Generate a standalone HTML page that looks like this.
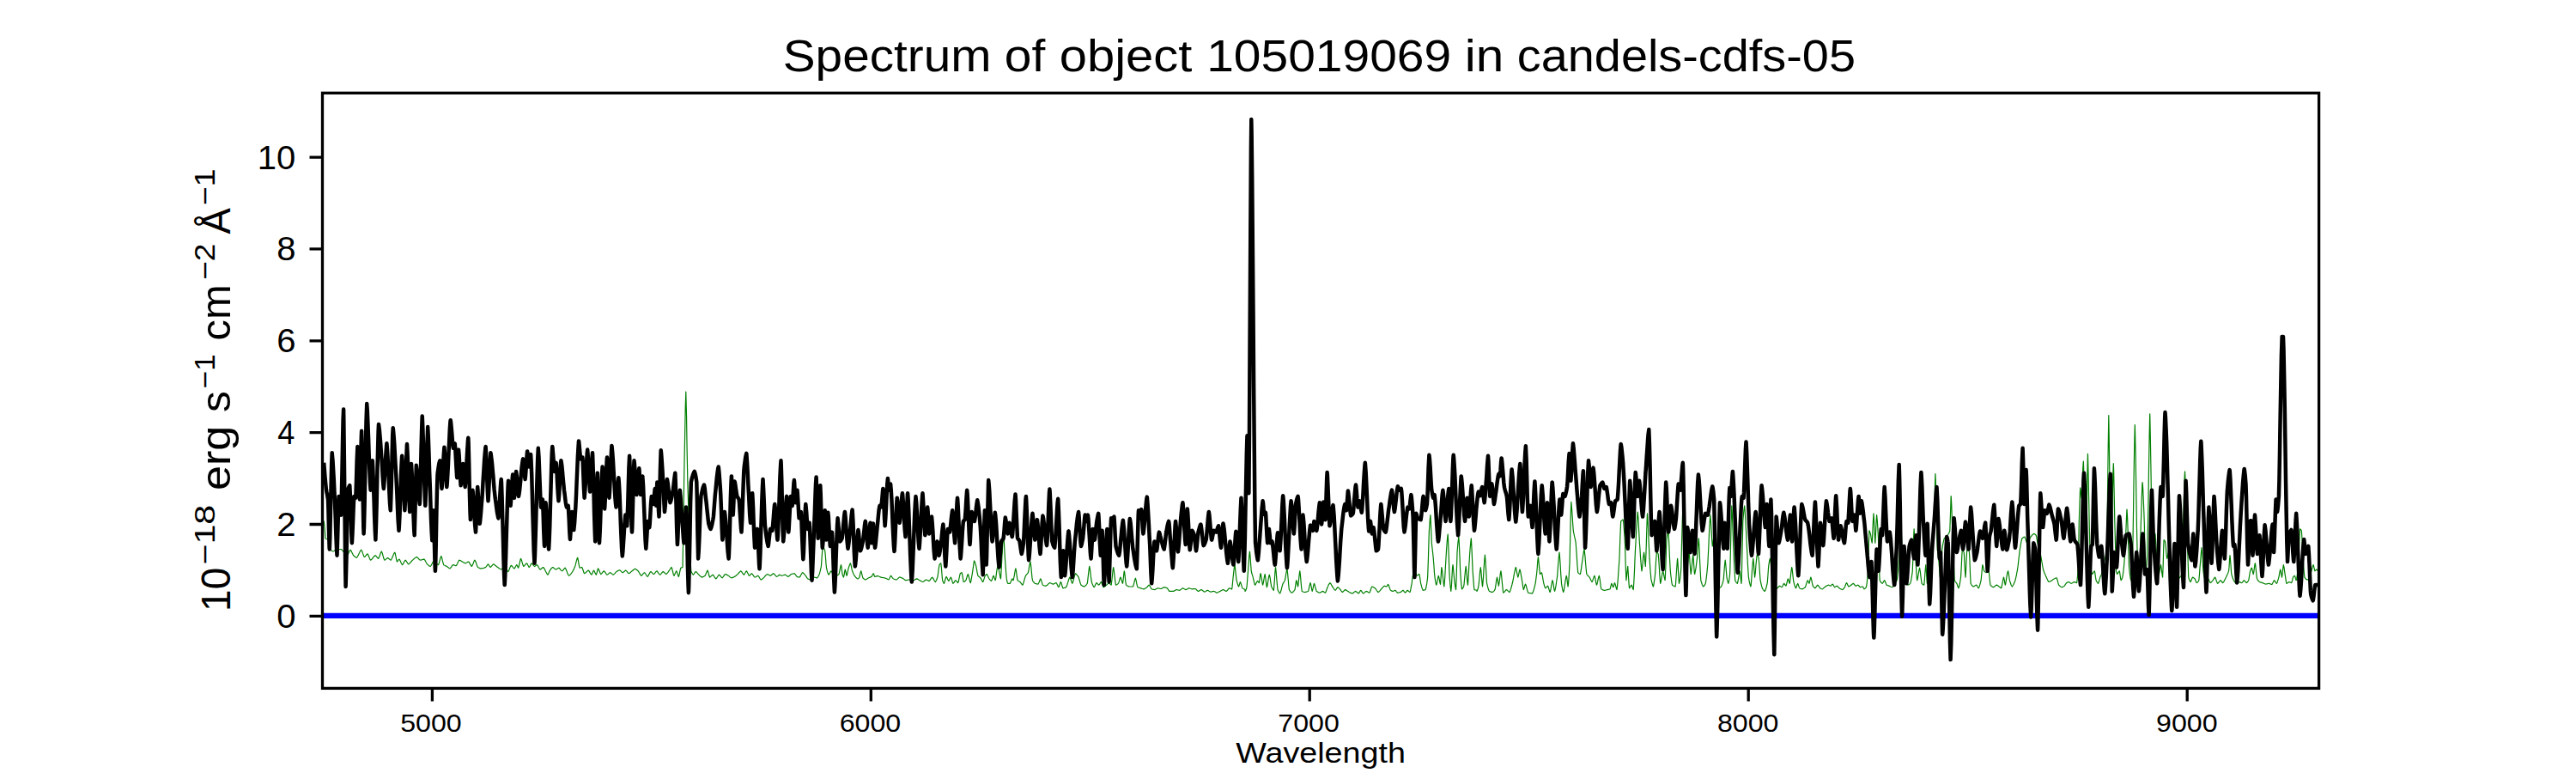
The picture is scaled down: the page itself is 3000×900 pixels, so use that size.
<!DOCTYPE html>
<html><head><meta charset="utf-8"><title>Spectrum</title>
<style>
html,body{margin:0;padding:0;background:#fff;}
svg{display:block}
text{font-family:"Liberation Sans",sans-serif;fill:#000}
</style></head><body>
<svg width="3000" height="900" viewBox="0 0 3000 900">
<rect x="0" y="0" width="3000" height="900" fill="#ffffff"/>
<defs><clipPath id="ax"><rect x="375.5" y="108.3" width="2325.1" height="693.1"/></clipPath></defs>

<g clip-path="url(#ax)" fill="none" stroke-linejoin="round" stroke-linecap="butt">
<path d="M375.8 606.9 L376.4 606.9 L377.1 606.9 L377.2 606.9 L377.7 610.9 L378.4 619.6 L379.0 626.5 L379.1 626.8 L379.6 627.2 L380.3 627.5 L380.9 627.7 L381.6 628.0 L382.2 628.3 L382.7 628.6 L382.8 629.2 L383.5 633.2 L384.1 637.7 L384.5 639.5 L384.8 639.8 L385.4 640.4 L386.0 640.9 L386.7 641.4 L387.3 641.7 L388.0 642.0 L388.1 642.0 L388.6 641.8 L389.2 641.4 L389.9 640.8 L390.5 640.2 L391.2 639.8 L391.7 639.5 L391.8 639.5 L392.4 639.5 L393.1 639.5 L393.7 639.5 L394.4 639.5 L395.0 639.5 L395.6 639.5 L396.3 639.5 L396.9 639.5 L397.2 639.5 L397.6 639.7 L398.2 640.2 L398.8 640.9 L399.5 641.6 L400.1 642.4 L400.8 643.1 L400.8 643.1 L401.4 643.8 L402.0 644.5 L402.7 645.3 L403.3 646.0 L404.0 646.5 L404.4 646.7 L404.6 646.6 L405.2 645.6 L405.9 644.3 L406.5 642.8 L407.2 641.4 L407.8 640.4 L408.0 640.2 L408.4 640.6 L409.1 641.6 L409.7 642.9 L410.4 644.3 L411.0 645.6 L411.6 646.7 L411.7 646.7 L412.3 647.3 L412.9 647.8 L413.6 648.3 L414.2 648.8 L414.8 649.1 L415.3 649.3 L415.5 649.1 L416.1 648.4 L416.8 647.3 L417.4 646.0 L418.0 644.7 L418.7 643.3 L419.3 642.0 L420.0 641.0 L420.6 640.3 L420.7 640.2 L421.2 641.0 L421.9 642.5 L422.5 644.4 L423.2 646.2 L423.8 647.8 L424.3 648.5 L424.4 648.5 L425.1 648.0 L425.7 647.3 L426.4 646.5 L427.0 645.7 L427.6 645.1 L428.0 644.9 L428.3 645.3 L428.9 646.4 L429.6 648.0 L430.2 649.6 L430.8 651.1 L431.5 652.1 L431.6 652.2 L432.1 651.9 L432.8 651.3 L433.4 650.6 L434.0 649.8 L434.7 649.0 L435.3 648.2 L436.0 647.5 L436.6 647.0 L437.0 646.7 L437.2 646.8 L437.9 647.4 L438.5 648.1 L439.2 649.0 L439.8 649.7 L440.4 650.3 L440.6 650.4 L441.1 649.7 L441.7 648.3 L442.4 646.5 L443.0 644.6 L443.6 643.0 L444.3 642.0 L444.3 642.0 L444.9 643.3 L445.6 645.3 L446.2 647.6 L446.8 649.8 L447.5 651.5 L447.9 652.2 L448.1 652.1 L448.8 651.7 L449.4 651.2 L450.0 650.6 L450.7 650.1 L451.3 649.7 L451.5 649.6 L452.0 649.8 L452.6 650.3 L453.2 650.8 L453.9 651.4 L454.5 651.9 L455.1 652.2 L455.2 652.1 L455.8 651.3 L456.4 650.1 L457.1 648.6 L457.7 647.0 L458.4 645.5 L459.0 644.2 L459.6 643.3 L459.8 643.1 L460.3 644.4 L460.9 647.5 L461.6 651.0 L462.2 653.6 L462.4 654.0 L462.8 653.6 L463.5 652.8 L464.1 651.8 L464.8 651.2 L464.9 651.1 L465.4 651.6 L466.0 652.8 L466.7 654.3 L467.3 655.7 L468.0 656.9 L468.5 657.6 L468.6 657.6 L469.2 656.8 L469.9 655.8 L470.5 654.5 L471.2 653.4 L471.8 652.5 L472.1 652.2 L472.4 652.4 L473.1 653.1 L473.7 654.1 L474.4 655.2 L475.0 656.1 L475.6 656.8 L475.8 656.9 L476.3 656.6 L476.9 656.1 L477.6 655.5 L478.2 654.7 L478.8 654.0 L479.5 653.2 L480.1 652.5 L480.5 652.2 L480.8 651.9 L481.4 651.4 L482.0 650.8 L482.7 650.2 L483.3 649.6 L484.0 649.2 L484.6 648.8 L485.2 648.5 L485.2 648.6 L485.9 648.9 L486.5 649.5 L487.2 650.1 L487.8 650.8 L488.4 651.5 L489.1 651.9 L489.5 652.2 L489.7 652.1 L490.4 652.0 L491.0 651.9 L491.6 651.6 L492.3 651.4 L492.9 651.3 L493.6 651.1 L493.9 651.1 L494.2 651.3 L494.8 652.2 L495.5 653.3 L496.1 654.5 L496.8 655.7 L497.4 656.7 L497.5 656.9 L498.0 657.3 L498.7 657.9 L499.3 658.4 L500.0 658.9 L500.6 659.2 L501.1 659.4 L501.2 659.3 L501.9 658.6 L502.5 657.5 L503.2 656.3 L503.8 655.1 L504.4 654.2 L504.7 654.0 L505.1 654.1 L505.7 654.4 L506.4 654.9 L507.0 655.3 L507.6 655.8 L507.6 655.8 L508.3 656.2 L508.9 656.7 L509.6 657.1 L510.2 657.5 L510.5 657.6 L510.8 657.1 L511.5 655.2 L512.1 652.8 L512.8 650.2 L513.4 648.2 L513.8 647.5 L514.0 647.9 L514.7 649.9 L515.3 652.6 L516.0 655.3 L516.6 657.4 L516.7 657.6 L517.2 658.0 L517.9 658.3 L518.5 658.6 L519.2 658.9 L519.8 659.1 L520.3 659.4 L520.4 659.5 L521.1 660.0 L521.7 660.5 L522.4 661.0 L523.0 661.5 L523.6 661.8 L523.9 661.9 L524.3 661.7 L524.9 661.0 L525.6 660.1 L526.2 659.1 L526.8 658.2 L527.5 657.7 L527.6 657.6 L528.1 657.7 L528.8 657.9 L529.4 658.2 L530.0 658.4 L530.7 658.6 L531.2 658.7 L531.3 658.6 L532.0 657.7 L532.6 656.4 L533.2 654.9 L533.9 653.5 L534.5 652.5 L534.8 652.2 L535.2 652.3 L535.8 652.5 L536.4 652.8 L537.1 653.2 L537.7 653.6 L538.4 653.9 L538.4 654.0 L539.0 654.3 L539.6 654.7 L540.3 655.0 L540.9 655.4 L541.6 655.7 L542.1 655.8 L542.2 655.8 L542.8 655.5 L543.5 655.1 L544.1 654.7 L544.8 654.3 L545.4 654.1 L545.7 654.0 L546.0 654.3 L546.7 655.2 L547.3 656.4 L548.0 657.6 L548.6 658.7 L549.2 659.4 L549.3 659.4 L549.9 658.7 L550.5 657.3 L551.2 655.7 L551.8 654.1 L552.4 652.8 L552.9 652.2 L553.1 652.3 L553.7 653.5 L554.4 655.1 L555.0 656.9 L555.6 658.7 L556.3 660.1 L556.5 660.5 L556.9 660.7 L557.6 661.0 L558.2 661.3 L558.8 661.6 L559.5 661.8 L560.1 661.9 L560.2 661.9 L560.8 661.9 L561.4 661.8 L562.0 661.6 L562.7 661.5 L563.3 661.3 L564.0 661.1 L564.6 660.9 L565.2 660.6 L565.6 660.5 L565.9 660.2 L566.5 659.4 L567.2 658.4 L567.8 657.5 L568.4 656.9 L568.5 656.9 L569.1 657.5 L569.7 658.6 L570.4 659.7 L571.0 660.5 L571.0 660.5 L571.6 660.1 L572.3 659.4 L572.9 658.6 L573.6 657.8 L574.2 657.2 L574.7 656.9 L574.8 656.9 L575.5 657.2 L576.1 657.7 L576.8 658.2 L577.4 658.7 L578.0 659.2 L578.3 659.4 L578.7 659.7 L579.3 660.2 L580.0 660.7 L580.6 661.2 L581.2 661.7 L581.9 662.1 L582.5 662.5 L583.2 662.8 L583.7 663.0 L583.8 663.0 L584.4 662.5 L585.1 661.8 L585.7 661.0 L586.4 660.2 L587.0 659.6 L587.3 659.4 L587.6 659.6 L588.3 660.4 L588.9 661.4 L589.6 662.6 L590.2 663.7 L590.8 664.7 L591.5 665.4 L591.7 665.6 L592.1 665.1 L592.8 663.8 L593.4 662.2 L594.0 660.6 L594.7 659.2 L595.3 658.3 L595.3 658.3 L596.0 658.8 L596.6 659.5 L597.2 660.3 L597.9 661.1 L598.5 661.7 L598.9 661.9 L599.2 661.8 L599.8 660.9 L600.4 659.7 L601.1 658.5 L601.7 657.7 L601.8 657.6 L602.4 658.5 L603.0 660.1 L603.6 661.2 L603.6 661.2 L604.3 659.4 L604.9 656.6 L605.6 653.5 L606.2 651.1 L606.5 650.4 L606.8 650.8 L607.5 652.5 L608.1 654.7 L608.8 657.0 L609.4 658.7 L609.8 659.4 L610.0 659.3 L610.7 658.7 L611.3 658.0 L612.0 657.1 L612.6 656.4 L613.2 655.9 L613.4 655.8 L613.9 656.3 L614.5 657.4 L615.2 658.8 L615.8 659.9 L616.3 660.5 L616.4 660.4 L617.1 659.5 L617.7 658.2 L618.4 656.9 L619.0 656.0 L619.2 655.8 L619.6 656.1 L620.3 656.8 L620.9 657.7 L621.6 658.6 L622.2 659.2 L622.5 659.4 L622.8 659.3 L623.5 658.9 L624.1 658.3 L624.8 657.9 L625.4 657.6 L625.4 657.6 L626.0 658.3 L626.7 659.4 L627.3 660.6 L628.0 661.8 L628.6 662.7 L629.0 663.0 L629.2 662.9 L629.9 662.6 L630.5 662.0 L631.2 661.4 L631.8 660.9 L632.4 660.6 L632.6 660.5 L633.1 660.9 L633.7 661.8 L634.4 662.9 L635.0 664.2 L635.6 665.5 L636.3 666.8 L636.9 667.9 L637.6 668.8 L638.0 669.2 L638.2 669.0 L638.8 667.7 L639.5 666.0 L640.0 664.8 L640.1 664.7 L640.8 663.7 L641.4 662.8 L642.0 661.9 L642.7 661.2 L643.3 660.7 L643.6 660.5 L644.0 660.6 L644.6 661.0 L645.2 661.6 L645.9 662.2 L646.5 662.7 L647.2 663.0 L647.2 663.0 L647.8 662.9 L648.4 662.5 L649.1 662.1 L649.7 661.7 L650.4 661.4 L650.9 661.2 L651.0 661.3 L651.6 661.8 L652.3 662.5 L652.9 663.3 L653.6 664.1 L654.2 664.7 L654.5 664.8 L654.8 664.7 L655.5 664.1 L656.1 663.3 L656.8 662.5 L657.4 661.7 L658.0 661.3 L658.1 661.2 L658.7 661.9 L659.3 663.2 L660.0 664.9 L660.6 666.6 L661.2 668.2 L661.9 669.5 L662.5 670.3 L662.5 670.3 L663.2 669.9 L663.8 669.3 L664.4 668.6 L665.1 667.9 L665.7 667.1 L666.1 666.7 L666.4 666.2 L667.0 665.1 L667.6 663.9 L668.3 662.6 L668.9 661.2 L669.6 659.8 L669.7 659.4 L670.2 657.7 L670.8 655.1 L671.5 652.5 L672.1 650.3 L672.6 649.3 L672.8 649.6 L673.4 652.4 L674.0 656.3 L674.7 659.7 L675.1 661.2 L675.3 661.2 L676.0 661.0 L676.6 660.8 L677.2 660.6 L677.7 660.5 L677.9 660.8 L678.5 662.2 L679.2 664.2 L679.8 666.2 L680.4 667.6 L680.6 667.7 L681.1 667.5 L681.7 667.1 L682.4 666.5 L683.0 665.9 L683.6 665.2 L684.3 664.7 L684.9 664.3 L685.3 664.1 L685.6 664.3 L686.2 665.1 L686.8 666.2 L687.5 667.4 L688.1 668.4 L688.8 669.1 L688.9 669.2 L689.4 668.5 L690.0 667.0 L690.7 665.4 L691.3 664.2 L691.4 664.1 L692.0 664.7 L692.6 666.0 L693.2 667.4 L693.9 668.7 L694.3 669.2 L694.5 668.9 L695.2 666.7 L695.8 664.0 L696.4 662.1 L696.5 661.9 L697.1 662.7 L697.7 664.1 L698.4 665.8 L699.0 667.3 L699.6 668.3 L699.8 668.5 L700.3 668.1 L700.9 667.5 L701.6 666.7 L702.2 665.9 L702.8 665.2 L703.4 664.8 L703.5 664.9 L704.1 665.5 L704.8 666.3 L705.4 667.3 L706.0 668.3 L706.7 669.0 L707.0 669.2 L707.3 669.1 L708.0 668.7 L708.6 668.1 L709.2 667.6 L709.9 667.0 L710.5 666.7 L710.6 666.7 L711.2 666.9 L711.8 667.4 L712.4 667.9 L713.1 668.5 L713.7 668.9 L714.3 669.2 L714.4 669.1 L715.0 668.7 L715.6 668.1 L716.3 667.3 L716.9 666.5 L717.6 665.9 L717.9 665.6 L718.2 665.4 L718.8 665.0 L719.5 664.6 L720.1 664.3 L720.8 664.0 L721.4 663.8 L721.5 663.8 L722.0 664.0 L722.7 664.6 L723.3 665.2 L724.0 665.9 L724.6 666.4 L725.1 666.7 L725.2 666.6 L725.9 666.3 L726.5 665.8 L727.2 665.2 L727.8 664.6 L728.4 664.2 L728.7 664.1 L729.1 664.3 L729.7 664.9 L730.4 665.7 L731.0 666.5 L731.6 667.2 L732.3 667.7 L732.4 667.7 L732.9 667.5 L733.6 667.0 L734.2 666.5 L734.8 665.9 L735.5 665.3 L736.0 664.8 L736.1 664.8 L736.8 664.2 L737.4 663.7 L738.0 663.2 L738.7 662.7 L739.3 662.4 L739.6 662.3 L740.0 662.4 L740.6 662.8 L741.2 663.2 L741.9 663.7 L742.5 664.2 L743.2 664.8 L743.2 664.8 L743.8 665.6 L744.4 666.7 L745.1 667.9 L745.7 669.0 L746.4 669.8 L746.9 670.3 L747.0 670.2 L747.6 669.7 L748.3 669.0 L748.9 668.1 L749.6 667.4 L750.2 666.8 L750.5 666.7 L750.8 666.9 L751.5 667.7 L752.1 668.7 L752.8 669.8 L753.4 670.7 L754.0 671.3 L754.1 671.4 L754.7 670.8 L755.3 669.7 L756.0 668.4 L756.6 667.1 L757.2 666.1 L757.7 665.6 L757.9 665.6 L758.5 666.0 L759.2 666.6 L759.8 667.3 L760.4 667.9 L761.1 668.4 L761.3 668.5 L761.7 668.3 L762.4 667.7 L763.0 666.9 L763.6 666.0 L764.3 665.3 L764.9 664.9 L765.0 664.8 L765.6 665.3 L766.2 666.1 L766.8 667.1 L767.5 668.1 L768.1 668.8 L768.6 669.2 L768.8 669.1 L769.4 668.6 L770.0 667.9 L770.7 667.0 L771.3 666.3 L772.0 665.7 L772.2 665.6 L772.6 665.7 L773.2 666.2 L773.9 666.9 L774.5 667.5 L775.2 668.1 L775.8 668.5 L775.8 668.5 L776.4 668.1 L777.1 667.4 L777.7 666.6 L778.4 665.6 L779.0 664.7 L779.5 664.1 L779.6 663.9 L780.3 662.8 L780.9 661.8 L781.6 660.9 L782.0 660.5 L782.2 660.9 L782.8 662.8 L783.5 665.5 L784.1 668.2 L784.8 670.1 L784.9 670.3 L785.4 669.6 L786.0 668.3 L786.7 666.8 L787.3 665.4 L787.8 664.8 L788.0 665.1 L788.6 666.6 L789.2 668.7 L789.9 670.6 L790.3 671.4 L790.5 671.0 L791.2 668.6 L791.8 665.4 L792.4 662.5 L792.9 661.2 L793.1 661.1 L793.7 660.9 L794.4 660.8 L795.0 660.5 L795.0 660.5 L795.6 629.7 L796.3 581.7 L796.6 560.0 L796.9 542.9 L797.6 506.8 L798.2 475.0 L798.8 456.0 L798.8 456.8 L799.5 483.3 L800.1 522.4 L800.8 558.1 L800.8 560.0 L801.4 579.2 L802.0 599.5 L802.7 618.7 L803.3 636.0 L804.0 650.7 L804.6 661.9 L804.8 664.8 L805.2 665.9 L805.9 667.2 L806.5 668.3 L807.2 669.0 L807.3 669.2 L807.8 668.8 L808.4 668.0 L809.1 666.9 L809.7 666.0 L810.2 665.6 L810.4 665.6 L811.0 666.0 L811.6 666.7 L812.3 667.4 L812.9 668.2 L813.6 668.9 L813.9 669.2 L814.2 669.5 L814.8 670.1 L815.5 670.7 L816.1 671.3 L816.8 671.7 L817.4 672.1 L817.5 672.1 L818.0 671.9 L818.7 671.7 L819.3 671.4 L820.0 671.0 L820.6 670.6 L821.1 670.3 L821.2 670.1 L821.9 668.8 L822.5 667.1 L823.2 665.5 L823.8 664.4 L824.0 664.1 L824.4 665.0 L825.1 667.3 L825.7 669.8 L826.4 671.8 L826.5 672.1 L827.0 671.9 L827.6 671.4 L828.3 670.7 L828.9 670.1 L829.6 669.5 L830.2 669.2 L830.2 669.2 L830.8 669.8 L831.5 670.7 L832.1 671.8 L832.8 672.8 L833.4 673.6 L833.8 673.9 L834.0 673.7 L834.7 673.0 L835.3 672.0 L836.0 671.0 L836.6 670.0 L837.2 669.3 L837.4 669.2 L837.9 669.5 L838.5 670.1 L839.2 670.9 L839.8 671.7 L840.4 672.4 L841.0 672.8 L841.1 672.8 L841.7 672.2 L842.4 671.4 L843.0 670.4 L843.6 669.5 L844.3 668.7 L844.7 668.5 L844.9 668.5 L845.6 668.8 L846.2 669.1 L846.8 669.4 L847.5 669.8 L848.1 670.2 L848.3 670.3 L848.8 670.6 L849.4 671.1 L850.0 671.7 L850.7 672.2 L851.3 672.6 L851.9 672.8 L852.0 672.8 L852.6 672.7 L853.2 672.4 L853.9 672.2 L854.5 671.9 L855.2 671.5 L855.5 671.4 L855.8 671.2 L856.4 670.7 L857.1 670.2 L857.7 669.7 L858.4 669.1 L859.0 668.6 L859.1 668.5 L859.6 668.0 L860.3 667.2 L860.9 666.5 L861.6 665.8 L862.2 665.2 L862.8 664.8 L862.8 664.9 L863.5 665.4 L864.1 666.3 L864.8 667.3 L865.4 668.2 L866.0 669.0 L866.4 669.2 L866.7 669.0 L867.3 668.0 L868.0 666.8 L868.6 665.6 L869.2 664.9 L869.3 664.8 L869.9 665.5 L870.5 666.7 L871.2 668.1 L871.8 669.3 L872.4 670.2 L872.5 670.3 L873.1 670.0 L873.7 669.3 L874.4 668.6 L875.0 668.0 L875.4 667.7 L875.6 667.9 L876.3 668.5 L876.9 669.4 L877.6 670.4 L878.2 671.3 L878.8 671.9 L879.1 672.1 L879.5 672.0 L880.1 671.7 L880.8 671.3 L881.4 670.9 L882.0 670.5 L882.7 670.3 L882.7 670.3 L883.3 670.8 L884.0 671.7 L884.6 672.8 L885.2 673.8 L885.9 674.6 L886.3 675.0 L886.5 674.9 L887.2 674.6 L887.8 674.1 L888.4 673.5 L889.1 672.9 L889.7 672.3 L889.9 672.1 L890.4 671.7 L891.0 670.9 L891.6 670.2 L892.3 669.4 L892.9 668.9 L893.6 668.5 L893.6 668.5 L894.2 668.7 L894.8 669.0 L895.5 669.4 L896.1 669.8 L896.8 670.2 L897.2 670.3 L897.4 670.2 L898.0 669.8 L898.7 669.3 L899.3 668.7 L900.0 668.2 L900.6 667.8 L900.8 667.7 L901.2 668.0 L901.9 668.6 L902.5 669.4 L903.2 670.2 L903.8 670.9 L904.4 671.4 L904.4 671.4 L905.1 671.1 L905.7 670.7 L906.4 670.2 L907.0 669.7 L907.6 669.3 L908.0 669.2 L908.3 669.3 L908.9 669.7 L909.6 670.1 L910.0 670.3 L910.2 670.3 L910.8 670.1 L911.5 670.0 L912.1 669.8 L912.8 669.5 L913.4 669.4 L914.0 669.2 L914.3 669.2 L914.7 669.3 L915.3 669.7 L916.0 670.1 L916.6 670.6 L917.2 671.1 L917.9 671.3 L918.0 671.4 L918.5 671.1 L919.2 670.6 L919.8 670.0 L920.4 669.4 L921.1 668.8 L921.6 668.5 L921.7 668.4 L922.4 668.3 L923.0 668.1 L923.6 668.0 L924.3 667.9 L924.9 667.8 L925.2 667.7 L925.6 668.0 L926.2 668.8 L926.8 669.7 L927.5 670.7 L928.1 671.4 L928.1 671.4 L928.8 671.6 L929.4 671.8 L930.0 671.9 L930.7 672.0 L931.0 672.1 L931.3 671.8 L932.0 671.0 L932.6 669.8 L933.2 668.6 L933.9 667.5 L934.5 666.7 L934.6 666.7 L935.2 666.9 L935.8 667.5 L936.4 668.1 L937.1 668.9 L937.7 669.7 L938.3 670.3 L938.4 670.4 L939.0 671.4 L939.6 672.4 L940.3 673.3 L940.8 673.9 L940.9 674.0 L941.6 674.2 L942.2 674.5 L942.8 674.7 L943.5 674.8 L944.1 674.9 L944.4 675.0 L944.8 674.8 L945.4 674.4 L946.0 673.7 L946.7 673.1 L947.3 672.5 L948.0 672.1 L948.0 672.1 L948.6 672.2 L949.2 672.3 L949.9 672.5 L950.5 672.6 L951.2 672.8 L951.7 672.8 L951.8 672.7 L952.4 671.9 L953.1 670.8 L953.7 669.5 L954.2 668.5 L954.4 667.9 L955.0 665.7 L955.6 663.1 L956.3 659.9 L956.4 659.4 L956.9 652.4 L957.6 642.4 L958.2 635.9 L958.2 635.9 L958.8 636.7 L959.5 637.9 L960.1 639.6 L960.7 641.3 L960.8 641.6 L961.4 648.2 L962.0 656.4 L962.5 661.2 L962.7 661.9 L963.3 664.5 L964.0 666.7 L964.6 668.4 L965.1 669.2 L965.2 669.1 L965.9 668.2 L966.5 667.0 L967.2 665.8 L967.8 665.0 L968.0 664.8 L968.4 665.4 L969.1 666.5 L969.7 668.0 L970.4 669.4 L971.0 670.7 L971.6 671.4 L971.6 671.4 L972.3 671.2 L972.9 671.0 L973.6 670.7 L974.2 670.4 L974.5 670.3 L974.8 670.1 L975.5 669.7 L976.1 669.2 L976.8 668.7 L977.0 668.5 L977.4 667.2 L978.0 664.1 L978.7 660.7 L979.3 658.1 L979.5 657.6 L980.0 659.9 L980.6 665.6 L981.0 668.5 L981.2 669.2 L981.9 671.1 L982.4 672.1 L982.5 671.9 L983.2 668.8 L983.8 664.8 L984.3 663.0 L984.4 663.4 L985.1 666.2 L985.7 669.3 L986.1 670.3 L986.4 669.6 L987.0 667.0 L987.6 663.9 L988.2 661.2 L988.3 661.1 L988.9 659.2 L989.6 657.4 L990.2 656.1 L990.4 655.8 L990.8 656.9 L991.5 659.7 L992.1 662.9 L992.6 664.8 L992.8 665.3 L993.4 666.8 L994.0 668.2 L994.7 669.5 L995.1 670.3 L995.3 670.5 L996.0 671.3 L996.6 672.1 L997.2 672.8 L997.9 673.4 L998.5 673.8 L998.7 673.9 L999.2 673.8 L999.8 673.4 L1000.4 672.9 L1000.6 672.8 L1001.1 671.2 L1001.7 668.3 L1002.4 665.7 L1002.7 664.8 L1003.0 665.4 L1003.6 667.8 L1004.3 670.7 L1004.9 672.8 L1004.9 672.8 L1005.6 673.5 L1006.2 674.1 L1006.8 674.5 L1007.5 674.9 L1007.8 675.0 L1008.1 674.9 L1008.8 674.6 L1009.4 674.2 L1010.0 673.7 L1010.7 673.3 L1011.3 672.9 L1011.4 672.8 L1012.0 672.6 L1012.6 672.4 L1013.2 672.1 L1013.9 671.9 L1014.5 671.6 L1015.0 671.4 L1015.2 671.2 L1015.8 670.1 L1016.4 668.8 L1017.1 667.9 L1017.2 667.7 L1017.7 668.8 L1018.4 670.8 L1018.7 671.4 L1019.0 671.3 L1019.6 671.2 L1020.3 671.1 L1020.9 670.9 L1021.6 670.7 L1022.2 670.7 L1022.3 670.6 L1022.8 670.8 L1023.5 671.0 L1024.1 671.3 L1024.8 671.6 L1025.4 671.9 L1025.9 672.1 L1026.0 672.1 L1026.7 672.3 L1027.3 672.4 L1028.0 672.5 L1028.6 672.6 L1029.2 672.7 L1029.9 672.9 L1030.5 673.0 L1031.2 673.1 L1031.3 673.2 L1031.8 673.4 L1032.4 673.7 L1033.1 674.1 L1033.7 674.5 L1034.4 674.8 L1035.0 675.0 L1035.0 675.0 L1035.6 674.0 L1036.3 672.5 L1036.9 671.1 L1037.5 670.3 L1037.6 670.3 L1038.2 670.9 L1038.8 671.8 L1039.5 672.8 L1040.1 673.6 L1040.4 673.9 L1040.8 674.0 L1041.4 674.3 L1042.0 674.5 L1042.7 674.7 L1043.3 674.9 L1044.0 675.0 L1044.0 675.0 L1044.6 674.7 L1045.2 674.1 L1045.9 673.5 L1046.5 672.9 L1047.2 672.3 L1047.6 672.1 L1047.8 672.1 L1048.4 672.2 L1049.1 672.4 L1049.7 672.6 L1050.4 672.8 L1051.0 673.1 L1051.3 673.2 L1051.6 673.4 L1052.3 673.9 L1052.9 674.4 L1053.6 675.0 L1054.2 675.4 L1054.8 675.7 L1054.9 675.7 L1055.5 675.6 L1056.1 675.5 L1056.8 675.3 L1057.4 675.2 L1058.0 675.0 L1058.5 675.0 L1058.7 675.0 L1059.3 675.1 L1060.0 675.1 L1060.6 675.2 L1061.2 675.4 L1061.9 675.5 L1062.5 675.6 L1063.2 675.6 L1063.8 675.7 L1063.9 675.7 L1064.4 675.6 L1065.1 675.2 L1065.7 674.8 L1066.4 674.4 L1067.0 674.1 L1067.6 673.9 L1067.6 673.9 L1068.3 674.1 L1068.9 674.4 L1069.6 674.8 L1070.2 675.2 L1070.8 675.5 L1071.2 675.7 L1071.5 675.9 L1072.1 676.2 L1072.8 676.6 L1073.4 677.0 L1074.0 677.3 L1074.7 677.5 L1074.8 677.5 L1075.3 677.3 L1076.0 676.8 L1076.6 676.3 L1077.2 675.7 L1077.9 675.2 L1078.4 675.0 L1078.5 675.0 L1079.2 675.2 L1079.8 675.5 L1080.4 675.8 L1081.1 676.1 L1081.7 676.4 L1082.1 676.4 L1082.4 676.2 L1083.0 675.6 L1083.6 674.6 L1084.3 673.6 L1084.9 672.8 L1085.6 672.2 L1085.7 672.1 L1086.2 672.6 L1086.8 673.6 L1087.5 674.8 L1088.1 676.0 L1088.8 677.0 L1089.3 677.5 L1089.4 677.4 L1090.0 676.5 L1090.7 675.2 L1091.3 673.5 L1091.8 672.1 L1092.0 671.5 L1092.6 667.2 L1093.2 662.2 L1093.9 658.2 L1094.0 657.6 L1094.5 656.9 L1095.2 656.2 L1095.8 655.8 L1095.8 655.8 L1096.4 661.4 L1097.1 670.0 L1097.6 675.7 L1097.7 675.9 L1098.4 677.6 L1099.0 678.8 L1099.4 679.3 L1099.6 679.0 L1100.3 677.1 L1100.9 674.5 L1101.6 672.3 L1102.0 671.4 L1102.2 671.6 L1102.8 672.6 L1103.5 674.0 L1104.1 675.4 L1104.8 676.3 L1104.9 676.4 L1105.4 675.8 L1106.0 674.5 L1106.7 673.1 L1107.3 672.2 L1107.4 672.1 L1108.0 673.2 L1108.6 675.4 L1109.2 677.7 L1109.9 679.2 L1109.9 679.3 L1110.5 678.8 L1111.2 677.9 L1111.8 676.9 L1112.4 676.0 L1112.8 675.7 L1113.1 675.8 L1113.7 676.4 L1114.4 677.2 L1115.0 678.0 L1115.6 678.6 L1115.7 678.6 L1116.3 677.0 L1116.9 673.9 L1117.6 670.5 L1118.2 668.0 L1118.3 667.7 L1118.8 667.3 L1119.5 666.9 L1120.1 666.7 L1120.1 666.7 L1120.8 669.4 L1121.4 673.5 L1122.0 676.9 L1122.3 677.5 L1122.7 677.4 L1123.3 677.0 L1124.0 676.5 L1124.6 675.9 L1124.8 675.7 L1125.2 674.7 L1125.9 672.6 L1126.5 670.4 L1127.2 668.7 L1127.3 668.5 L1127.8 669.5 L1128.4 672.0 L1129.1 674.9 L1129.7 677.4 L1130.2 678.6 L1130.4 678.3 L1131.0 675.7 L1131.6 672.0 L1132.3 667.9 L1132.8 664.8 L1132.9 663.9 L1133.6 659.0 L1134.2 654.5 L1134.6 652.9 L1134.8 653.3 L1135.5 654.9 L1136.1 657.1 L1136.8 659.4 L1136.8 659.4 L1137.4 662.7 L1138.0 666.3 L1138.7 669.4 L1138.9 670.3 L1139.3 670.7 L1140.0 671.3 L1140.6 671.8 L1141.2 672.3 L1141.8 672.8 L1141.9 672.9 L1142.5 673.9 L1143.2 675.2 L1143.8 676.4 L1144.4 677.3 L1144.7 677.5 L1145.1 676.9 L1145.7 675.1 L1146.4 672.9 L1147.0 670.9 L1147.3 670.3 L1147.6 669.8 L1148.3 669.1 L1148.9 668.5 L1149.1 668.5 L1149.6 669.0 L1150.2 670.2 L1150.8 671.6 L1151.5 673.0 L1152.0 673.9 L1152.1 674.1 L1152.8 674.9 L1153.4 675.6 L1154.0 676.2 L1154.5 676.4 L1154.7 676.2 L1155.3 674.7 L1156.0 672.8 L1156.6 671.0 L1157.0 670.3 L1157.2 670.6 L1157.9 672.2 L1158.5 674.2 L1159.2 675.7 L1159.2 675.7 L1159.8 672.9 L1160.4 667.9 L1161.1 662.8 L1161.7 659.5 L1161.7 659.4 L1162.4 660.7 L1163.0 662.8 L1163.6 664.8 L1163.6 665.2 L1164.3 668.8 L1164.9 672.3 L1165.4 673.9 L1165.6 672.2 L1166.2 661.9 L1166.8 650.4 L1166.8 650.1 L1167.5 638.3 L1168.1 627.1 L1168.6 621.4 L1168.8 622.4 L1169.4 631.4 L1170.0 643.5 L1170.4 650.4 L1170.7 653.7 L1171.3 662.9 L1172.0 671.0 L1172.3 673.9 L1172.6 675.6 L1173.2 678.2 L1173.7 679.3 L1173.9 679.3 L1174.5 679.3 L1175.2 679.3 L1175.8 679.3 L1176.2 679.3 L1176.4 679.1 L1177.1 677.8 L1177.7 676.0 L1178.4 674.5 L1178.8 673.9 L1179.0 674.1 L1179.6 675.3 L1180.0 675.7 L1180.3 675.0 L1180.9 672.0 L1181.6 668.2 L1182.2 664.5 L1182.8 662.1 L1182.9 661.9 L1183.5 664.8 L1184.1 669.7 L1184.8 674.3 L1185.1 675.7 L1185.4 676.0 L1186.0 676.4 L1186.7 676.8 L1187.3 677.1 L1188.0 677.5 L1188.0 677.5 L1188.6 678.3 L1189.2 679.2 L1189.9 680.2 L1190.5 680.9 L1190.9 681.1 L1191.2 680.7 L1191.8 679.1 L1192.4 677.1 L1193.1 674.7 L1193.7 672.5 L1194.4 670.6 L1194.5 670.3 L1195.0 669.6 L1195.6 668.9 L1196.3 668.2 L1196.9 667.4 L1197.4 666.7 L1197.6 666.0 L1198.2 662.8 L1198.8 658.8 L1199.5 655.4 L1199.9 654.0 L1200.1 654.8 L1200.8 659.9 L1201.4 666.6 L1202.0 672.9 L1202.5 675.7 L1202.7 676.1 L1203.3 677.1 L1204.0 678.0 L1204.6 678.7 L1205.2 679.2 L1205.4 679.3 L1205.9 679.5 L1206.5 679.6 L1207.2 679.8 L1207.8 679.9 L1208.4 680.0 L1209.0 680.1 L1209.1 680.0 L1209.7 678.8 L1210.4 677.2 L1211.0 675.5 L1211.6 674.2 L1211.9 673.9 L1212.3 674.6 L1212.9 676.6 L1213.6 678.9 L1214.2 680.7 L1214.4 681.1 L1214.8 681.3 L1215.5 681.6 L1216.1 681.8 L1216.8 682.0 L1217.4 682.1 L1218.0 682.2 L1218.0 682.2 L1218.7 681.9 L1219.3 681.4 L1220.0 680.9 L1220.6 680.2 L1221.2 679.6 L1221.9 679.1 L1222.5 678.7 L1222.7 678.6 L1223.2 678.7 L1223.8 679.0 L1224.4 679.3 L1225.1 679.6 L1225.7 679.9 L1226.4 680.1 L1226.4 680.1 L1227.0 679.9 L1227.6 679.6 L1228.3 679.3 L1228.9 679.0 L1229.6 678.7 L1230.0 678.6 L1230.2 678.8 L1230.8 679.8 L1231.5 681.2 L1232.1 682.6 L1232.8 683.6 L1232.9 683.7 L1233.4 682.8 L1234.0 681.0 L1234.7 679.0 L1235.3 677.6 L1235.4 677.5 L1236.0 678.6 L1236.6 680.8 L1237.2 683.1 L1237.9 684.7 L1238.0 684.8 L1238.5 684.7 L1239.2 684.5 L1239.8 684.4 L1240.4 684.1 L1241.1 683.9 L1241.6 683.7 L1241.7 683.5 L1242.4 682.1 L1243.0 680.2 L1243.6 678.1 L1244.3 676.0 L1244.9 674.1 L1245.6 672.6 L1245.9 672.1 L1246.2 672.5 L1246.8 674.0 L1247.5 676.0 L1248.1 678.0 L1248.8 679.3 L1248.8 679.3 L1249.4 678.1 L1250.0 676.0 L1250.7 673.4 L1251.3 670.8 L1252.0 668.7 L1252.4 667.7 L1252.6 667.8 L1253.2 668.3 L1253.9 669.0 L1254.5 669.8 L1255.2 670.7 L1255.8 671.7 L1256.1 672.1 L1256.4 673.1 L1257.1 675.2 L1257.7 677.5 L1258.4 679.7 L1259.0 681.1 L1259.0 681.2 L1259.6 681.6 L1260.3 682.0 L1260.9 682.4 L1261.6 682.6 L1262.2 682.9 L1262.6 683.0 L1262.8 682.8 L1263.5 682.5 L1264.1 681.9 L1264.8 681.3 L1265.4 680.5 L1266.0 679.6 L1266.2 679.3 L1266.7 676.5 L1267.3 670.6 L1268.0 664.5 L1268.6 660.0 L1268.7 659.4 L1269.2 661.7 L1269.9 666.6 L1270.5 672.2 L1271.2 676.9 L1271.3 677.5 L1271.8 679.0 L1272.4 680.6 L1273.1 682.1 L1273.7 683.2 L1274.2 683.7 L1274.4 683.5 L1275.0 682.5 L1275.6 681.1 L1276.3 679.7 L1276.9 678.8 L1277.1 678.6 L1277.6 678.9 L1278.2 679.7 L1278.8 680.5 L1279.5 681.1 L1279.6 681.1 L1280.1 680.7 L1280.8 679.8 L1281.4 678.8 L1282.0 677.9 L1282.5 677.5 L1282.7 677.7 L1283.3 679.2 L1284.0 681.2 L1284.6 682.9 L1285.0 683.7 L1285.2 683.6 L1285.9 683.3 L1286.5 682.9 L1287.2 682.4 L1287.8 681.8 L1288.4 681.3 L1288.7 681.1 L1289.1 680.8 L1289.7 680.1 L1290.4 679.5 L1291.0 678.9 L1291.6 678.6 L1291.6 678.6 L1292.3 679.2 L1292.9 680.0 L1293.6 680.7 L1294.1 681.1 L1294.2 680.8 L1294.8 676.2 L1295.5 669.7 L1296.1 663.5 L1296.6 660.5 L1296.8 660.9 L1297.4 664.8 L1298.0 670.4 L1298.7 676.1 L1299.3 680.3 L1299.5 681.1 L1300.0 681.0 L1300.6 680.7 L1301.2 680.3 L1301.9 679.8 L1302.4 679.3 L1302.5 679.2 L1303.2 677.4 L1303.8 675.2 L1304.4 673.1 L1305.0 672.1 L1305.1 672.2 L1305.7 673.9 L1306.4 676.2 L1307.0 678.3 L1307.5 679.3 L1307.6 678.8 L1308.3 673.5 L1308.9 667.2 L1309.3 664.8 L1309.6 665.9 L1310.2 670.9 L1310.8 676.9 L1311.5 681.1 L1311.5 681.1 L1312.1 681.7 L1312.8 682.1 L1313.4 682.5 L1314.0 682.7 L1314.7 682.9 L1314.7 683.0 L1315.3 683.0 L1316.0 683.0 L1316.6 683.0 L1317.2 683.0 L1317.9 683.0 L1318.5 683.0 L1319.2 683.0 L1319.5 683.0 L1319.8 682.3 L1320.4 680.1 L1321.1 677.3 L1321.7 674.8 L1322.4 673.2 L1322.4 673.2 L1323.0 675.2 L1323.6 678.4 L1324.3 681.6 L1324.9 683.7 L1324.9 683.7 L1325.6 684.0 L1326.2 684.2 L1326.8 684.3 L1327.5 684.5 L1328.1 684.7 L1328.5 684.8 L1328.8 684.8 L1329.4 685.1 L1330.0 685.3 L1330.7 685.5 L1331.3 685.7 L1332.0 685.8 L1332.1 685.9 L1332.6 685.7 L1333.2 685.4 L1333.9 685.0 L1334.5 684.6 L1335.2 684.1 L1335.8 683.7 L1335.8 683.6 L1336.4 683.0 L1337.1 682.2 L1337.7 681.5 L1338.3 681.1 L1338.4 681.2 L1339.0 682.0 L1339.6 683.2 L1340.3 684.5 L1340.9 685.6 L1341.2 685.9 L1341.6 686.0 L1342.2 686.1 L1342.8 686.3 L1343.5 686.4 L1344.1 686.5 L1344.8 686.6 L1344.8 686.6 L1345.4 686.4 L1346.0 686.0 L1346.7 685.6 L1347.3 685.2 L1348.0 684.9 L1348.4 684.8 L1348.6 684.8 L1349.2 684.9 L1349.9 685.0 L1350.5 685.2 L1351.2 685.4 L1351.8 685.5 L1352.1 685.5 L1352.4 685.4 L1353.1 685.1 L1353.7 684.7 L1354.4 684.3 L1355.0 683.9 L1355.6 683.7 L1355.7 683.7 L1356.3 683.8 L1356.9 683.9 L1357.6 684.1 L1358.2 684.3 L1358.8 684.6 L1359.3 684.8 L1359.5 684.9 L1360.1 685.9 L1360.8 687.0 L1361.4 688.0 L1361.8 688.4 L1362.0 688.4 L1362.7 688.4 L1363.3 688.4 L1364.0 688.4 L1364.6 688.4 L1365.2 688.4 L1365.9 688.4 L1366.5 688.4 L1366.5 688.4 L1367.2 688.2 L1367.8 687.8 L1368.4 687.4 L1369.1 687.0 L1369.7 686.7 L1370.2 686.6 L1370.4 686.6 L1371.0 686.7 L1371.6 686.9 L1372.3 687.0 L1372.9 687.2 L1373.6 687.3 L1373.8 687.3 L1374.2 687.1 L1374.8 686.7 L1375.5 686.2 L1376.1 685.6 L1376.8 685.1 L1377.4 684.8 L1377.4 684.8 L1378.0 685.0 L1378.7 685.3 L1379.3 685.7 L1380.0 686.1 L1380.6 686.4 L1381.0 686.6 L1381.2 686.5 L1381.9 686.3 L1382.5 685.9 L1383.2 685.5 L1383.8 685.1 L1384.4 684.8 L1384.7 684.8 L1385.1 684.8 L1385.7 685.0 L1386.4 685.3 L1387.0 685.5 L1387.6 685.7 L1388.3 685.9 L1388.3 685.9 L1388.9 685.8 L1389.6 685.7 L1390.2 685.7 L1390.8 685.6 L1391.5 685.5 L1391.9 685.5 L1392.1 685.6 L1392.8 686.0 L1393.4 686.6 L1394.0 687.3 L1394.7 687.9 L1395.3 688.3 L1395.5 688.4 L1396.0 688.3 L1396.6 687.9 L1397.2 687.5 L1397.9 687.1 L1398.5 686.8 L1399.1 686.6 L1399.2 686.6 L1399.8 686.9 L1400.4 687.4 L1401.1 688.0 L1401.7 688.5 L1402.4 688.9 L1402.8 689.1 L1403.0 689.1 L1403.6 688.8 L1404.3 688.4 L1404.9 688.0 L1405.6 687.6 L1406.2 687.4 L1406.4 687.3 L1406.8 687.4 L1407.5 687.8 L1408.1 688.2 L1408.8 688.6 L1409.4 688.9 L1410.0 689.1 L1410.0 689.1 L1410.7 689.0 L1411.3 688.9 L1412.0 688.7 L1412.6 688.6 L1413.2 688.4 L1413.6 688.4 L1413.9 688.5 L1414.5 688.7 L1415.2 689.1 L1415.8 689.5 L1416.4 689.9 L1417.1 690.2 L1417.3 690.2 L1417.7 690.1 L1418.4 689.8 L1419.0 689.5 L1419.6 689.1 L1420.3 688.7 L1420.9 688.4 L1420.9 688.4 L1421.6 688.0 L1422.2 687.6 L1422.8 687.3 L1423.5 686.9 L1424.1 686.7 L1424.5 686.6 L1424.8 686.6 L1425.4 686.9 L1426.0 687.3 L1426.7 687.7 L1427.3 688.1 L1428.0 688.4 L1428.1 688.4 L1428.6 688.1 L1429.2 687.5 L1429.9 686.7 L1430.5 685.8 L1431.2 685.2 L1431.7 684.8 L1431.8 684.8 L1432.4 685.0 L1433.1 685.3 L1433.7 685.6 L1434.4 685.8 L1434.6 685.9 L1435.0 683.8 L1435.6 677.3 L1436.3 670.2 L1436.5 668.5 L1436.9 664.5 L1437.6 659.3 L1437.9 657.6 L1438.2 659.0 L1438.8 664.4 L1439.5 670.9 L1440.1 675.7 L1440.1 675.9 L1440.8 678.2 L1441.4 680.3 L1442.0 682.0 L1442.6 683.0 L1442.7 682.9 L1443.3 681.0 L1444.0 678.6 L1444.4 677.5 L1444.6 677.8 L1445.2 679.4 L1445.9 681.6 L1446.5 683.7 L1447.0 684.8 L1447.2 684.9 L1447.8 685.3 L1448.4 685.6 L1449.1 685.9 L1449.7 686.4 L1449.9 686.6 L1450.0 688.4 L1450.4 688.0 L1451.0 686.9 L1451.6 685.3 L1451.8 684.8 L1452.3 680.5 L1452.9 672.3 L1453.6 663.8 L1453.6 663.0 L1454.2 655.5 L1454.8 647.1 L1455.4 642.0 L1455.5 642.3 L1456.1 649.3 L1456.8 659.1 L1457.2 664.8 L1457.4 665.5 L1458.0 668.0 L1458.7 670.1 L1459.1 671.4 L1459.3 672.4 L1460.0 675.3 L1460.6 678.1 L1461.2 680.4 L1461.6 681.1 L1461.9 680.9 L1462.5 679.9 L1463.2 678.5 L1463.8 677.3 L1464.4 676.5 L1464.5 676.4 L1465.1 677.0 L1465.7 678.0 L1466.3 678.6 L1466.4 678.5 L1467.0 674.8 L1467.6 670.0 L1468.1 667.7 L1468.3 668.2 L1468.9 671.4 L1469.6 675.7 L1470.2 679.5 L1470.6 681.1 L1470.8 680.6 L1471.5 677.6 L1472.1 673.5 L1472.8 669.9 L1473.2 668.5 L1473.4 669.3 L1474.0 674.0 L1474.7 679.7 L1475.3 683.6 L1475.4 683.7 L1476.0 681.5 L1476.6 677.8 L1477.2 673.7 L1477.9 670.4 L1478.3 669.2 L1478.5 670.0 L1479.2 673.2 L1479.8 677.4 L1480.4 681.3 L1480.8 683.0 L1481.1 683.6 L1481.7 685.0 L1482.4 686.1 L1483.0 687.0 L1483.3 687.3 L1483.6 684.9 L1484.3 676.1 L1484.9 666.2 L1485.5 660.5 L1485.6 660.8 L1486.2 666.0 L1486.8 673.9 L1487.5 681.7 L1488.0 686.6 L1488.1 686.8 L1488.8 688.2 L1489.4 689.5 L1490.0 690.4 L1490.6 690.9 L1490.7 690.8 L1491.3 689.4 L1492.0 687.3 L1492.6 684.9 L1493.2 682.4 L1493.9 680.2 L1494.2 679.3 L1494.5 678.7 L1495.2 677.8 L1495.8 676.8 L1496.4 675.7 L1496.4 675.4 L1497.1 672.1 L1497.7 668.0 L1498.4 664.3 L1498.9 662.3 L1499.0 662.7 L1499.6 667.9 L1500.3 675.3 L1500.9 682.6 L1501.4 686.6 L1501.6 686.8 L1502.2 687.9 L1502.8 688.8 L1503.5 689.6 L1504.1 690.1 L1504.3 690.2 L1504.8 690.0 L1505.4 689.6 L1506.0 689.0 L1506.7 688.3 L1507.3 687.5 L1508.0 686.6 L1508.0 686.6 L1508.6 682.9 L1509.2 678.2 L1509.8 675.7 L1509.9 675.9 L1510.5 678.5 L1511.2 681.7 L1511.6 683.0 L1511.8 681.9 L1512.4 676.4 L1513.1 669.6 L1513.7 665.0 L1513.8 664.8 L1514.4 669.1 L1515.0 676.2 L1515.6 683.5 L1516.3 688.3 L1516.3 688.4 L1516.9 688.7 L1517.6 689.0 L1518.2 689.2 L1518.8 689.4 L1519.5 689.5 L1519.5 689.5 L1520.1 689.4 L1520.8 689.3 L1521.4 689.1 L1522.0 689.0 L1522.7 688.7 L1523.3 688.5 L1523.5 688.4 L1524.0 687.2 L1524.6 684.4 L1525.2 681.3 L1525.9 679.0 L1526.1 678.6 L1526.5 680.1 L1527.2 683.5 L1527.8 687.0 L1528.2 688.4 L1528.4 687.9 L1529.1 685.2 L1529.7 681.8 L1530.4 679.4 L1530.4 679.3 L1531.0 680.6 L1531.6 682.8 L1532.3 685.3 L1532.9 687.5 L1533.3 688.4 L1533.6 688.6 L1534.2 689.0 L1534.8 689.4 L1535.5 689.7 L1536.1 690.0 L1536.8 690.2 L1536.9 690.2 L1537.4 690.1 L1538.0 689.7 L1538.7 689.3 L1539.3 688.9 L1540.0 688.6 L1540.6 688.4 L1540.6 688.4 L1541.2 688.7 L1541.9 689.2 L1542.5 689.7 L1543.2 690.1 L1543.5 690.2 L1543.8 689.7 L1544.4 688.2 L1545.1 686.2 L1545.7 684.4 L1546.0 683.7 L1546.4 682.9 L1547.0 681.6 L1547.6 680.3 L1548.3 679.3 L1548.9 678.6 L1548.9 678.6 L1549.6 679.3 L1550.2 680.2 L1550.8 681.4 L1551.5 682.6 L1552.1 683.6 L1552.1 683.7 L1552.8 684.5 L1553.4 685.5 L1554.0 686.4 L1554.7 687.1 L1555.0 687.3 L1555.3 687.1 L1556.0 686.3 L1556.6 685.3 L1557.2 684.4 L1557.9 683.7 L1557.9 683.7 L1558.5 684.0 L1559.2 684.5 L1559.8 685.2 L1560.4 685.8 L1560.5 685.9 L1561.1 686.6 L1561.7 687.6 L1562.4 688.5 L1563.0 689.2 L1563.4 689.5 L1563.6 689.4 L1564.3 688.8 L1564.9 688.1 L1565.6 687.4 L1566.2 686.8 L1566.6 686.6 L1566.8 686.6 L1567.5 686.9 L1568.1 687.3 L1568.8 687.7 L1569.4 688.2 L1570.0 688.6 L1570.7 689.1 L1571.3 689.5 L1571.3 689.5 L1572.0 689.8 L1572.6 690.1 L1573.2 690.4 L1573.9 690.6 L1574.5 690.8 L1575.0 690.9 L1575.2 690.9 L1575.8 690.5 L1576.4 690.0 L1577.1 689.4 L1577.7 688.9 L1578.4 688.5 L1578.6 688.4 L1579.0 688.6 L1579.6 689.0 L1580.3 689.5 L1580.9 690.1 L1581.6 690.6 L1582.2 690.9 L1582.2 690.9 L1582.8 690.2 L1583.5 689.1 L1584.1 688.0 L1584.7 687.3 L1584.8 687.3 L1585.4 687.9 L1586.0 688.9 L1586.7 689.9 L1587.3 690.7 L1587.6 690.9 L1588.0 690.8 L1588.6 690.4 L1589.2 689.9 L1589.9 689.3 L1590.5 688.8 L1591.2 688.4 L1591.3 688.4 L1591.8 688.6 L1592.4 688.9 L1593.1 689.3 L1593.7 689.7 L1594.4 690.0 L1594.9 690.2 L1595.0 690.1 L1595.6 688.7 L1596.3 686.8 L1596.9 684.8 L1597.6 683.3 L1597.8 683.0 L1598.2 683.1 L1598.8 683.3 L1599.5 683.6 L1600.1 684.0 L1600.8 684.4 L1601.4 684.8 L1601.4 684.8 L1602.0 685.5 L1602.7 686.5 L1603.3 687.5 L1604.0 688.4 L1604.6 689.2 L1605.0 689.5 L1605.2 689.4 L1605.9 688.9 L1606.5 688.3 L1607.2 687.6 L1607.8 686.8 L1608.4 686.1 L1608.7 685.9 L1609.1 685.4 L1609.7 684.7 L1610.4 683.9 L1611.0 683.2 L1611.6 682.6 L1612.3 682.2 L1612.3 682.2 L1612.9 682.4 L1613.6 682.6 L1614.2 682.8 L1614.8 683.0 L1614.8 682.9 L1615.5 682.1 L1616.1 681.0 L1616.6 680.4 L1616.8 680.6 L1617.4 681.8 L1618.0 683.6 L1618.7 685.5 L1619.3 687.0 L1619.5 687.3 L1620.0 687.6 L1620.6 687.9 L1621.2 688.2 L1621.9 688.4 L1622.1 688.4 L1622.5 688.3 L1623.2 688.0 L1623.8 687.7 L1624.4 687.4 L1625.0 687.3 L1625.1 687.4 L1625.7 688.0 L1626.4 689.0 L1627.0 689.8 L1627.5 690.2 L1627.6 690.2 L1628.3 690.1 L1628.9 690.0 L1629.6 689.9 L1630.2 689.7 L1630.8 689.6 L1631.1 689.5 L1631.5 689.3 L1632.1 688.7 L1632.8 688.1 L1633.4 687.6 L1634.0 687.3 L1634.0 687.3 L1634.7 687.9 L1635.3 688.8 L1636.0 689.7 L1636.5 690.2 L1636.6 690.2 L1637.2 689.6 L1637.9 688.7 L1638.5 687.8 L1639.1 687.3 L1639.2 687.3 L1639.8 687.7 L1640.4 688.3 L1641.1 688.9 L1641.7 689.4 L1642.0 689.5 L1642.4 688.5 L1643.0 685.7 L1643.6 682.2 L1644.2 679.3 L1644.3 678.5 L1644.9 673.3 L1645.6 668.7 L1645.6 668.5 L1646.2 667.1 L1646.8 665.9 L1647.5 665.1 L1647.8 664.8 L1648.1 665.4 L1648.8 667.2 L1649.4 669.2 L1649.9 670.3 L1650.0 670.3 L1650.7 669.9 L1651.3 669.4 L1652.0 668.9 L1652.6 668.6 L1652.8 668.5 L1653.2 670.0 L1653.9 674.2 L1654.5 678.6 L1654.7 679.3 L1655.2 681.3 L1655.8 683.7 L1656.4 685.7 L1657.1 687.1 L1657.2 687.3 L1657.7 687.2 L1658.4 687.1 L1659.0 687.0 L1659.6 686.7 L1660.1 686.6 L1660.3 686.1 L1660.9 683.5 L1661.6 679.9 L1662.2 675.5 L1662.6 672.1 L1662.8 667.6 L1663.5 647.9 L1664.1 626.3 L1664.4 617.8 L1664.8 612.8 L1665.4 603.8 L1665.9 599.6 L1666.0 601.5 L1666.7 616.3 L1667.3 631.9 L1667.3 632.2 L1668.0 638.3 L1668.6 643.6 L1669.1 648.5 L1669.2 649.6 L1669.9 658.3 L1670.5 667.1 L1671.0 672.1 L1671.2 673.3 L1671.8 677.2 L1672.4 680.2 L1672.8 681.1 L1673.1 680.4 L1673.7 677.5 L1674.4 674.0 L1675.0 671.1 L1675.3 670.3 L1675.6 671.3 L1676.3 674.7 L1676.9 678.4 L1677.5 680.4 L1677.6 679.9 L1678.2 670.6 L1678.8 661.1 L1678.9 660.5 L1679.5 663.5 L1680.1 669.1 L1680.8 675.5 L1681.4 680.8 L1681.8 683.0 L1682.0 681.3 L1682.7 672.8 L1683.3 661.4 L1684.0 649.5 L1684.4 643.1 L1684.6 640.0 L1685.2 631.2 L1685.9 624.0 L1686.2 622.1 L1686.5 627.8 L1687.2 645.7 L1687.8 664.4 L1688.0 668.5 L1688.4 674.7 L1689.1 682.7 L1689.7 688.0 L1689.8 688.4 L1690.4 682.1 L1691.0 670.9 L1691.6 660.6 L1692.0 657.6 L1692.3 659.5 L1692.9 666.2 L1693.6 673.6 L1693.8 675.7 L1694.2 678.7 L1694.8 683.2 L1695.5 686.3 L1695.6 686.6 L1696.1 673.5 L1696.8 650.8 L1697.0 643.1 L1697.4 638.5 L1698.0 631.0 L1698.7 625.8 L1698.8 625.0 L1699.3 632.2 L1700.0 648.2 L1700.6 663.6 L1700.7 664.8 L1701.2 673.0 L1701.9 681.1 L1702.5 685.9 L1702.5 685.8 L1703.2 685.3 L1703.8 684.4 L1704.4 683.3 L1704.6 683.0 L1705.1 679.9 L1705.7 673.1 L1706.4 665.7 L1707.0 660.3 L1707.2 659.4 L1707.6 662.7 L1708.3 670.4 L1708.9 678.0 L1709.4 681.1 L1709.6 679.5 L1710.2 670.5 L1710.8 658.5 L1711.5 647.5 L1711.5 646.7 L1712.1 639.1 L1712.8 631.3 L1713.3 626.8 L1713.4 627.4 L1714.0 638.7 L1714.7 654.6 L1715.1 664.8 L1715.3 667.2 L1716.0 676.4 L1716.6 683.9 L1717.0 686.6 L1717.2 686.7 L1717.9 686.8 L1718.5 686.9 L1719.2 687.0 L1719.8 687.3 L1719.9 687.3 L1720.0 688.4 L1720.4 687.6 L1721.1 685.7 L1721.7 683.3 L1721.8 683.0 L1722.4 678.6 L1723.0 671.8 L1723.6 665.2 L1724.3 660.8 L1724.3 660.5 L1724.9 665.1 L1725.6 673.4 L1726.2 680.8 L1726.5 683.0 L1726.8 680.6 L1727.5 672.4 L1728.1 662.1 L1728.8 652.3 L1729.4 646.1 L1729.4 646.0 L1730.0 653.3 L1730.7 665.1 L1731.3 676.1 L1731.6 679.3 L1732.0 680.9 L1732.6 683.4 L1733.2 685.5 L1733.9 687.2 L1734.5 688.4 L1734.5 688.4 L1735.2 688.7 L1735.8 688.9 L1736.4 689.1 L1737.1 689.3 L1737.7 689.4 L1738.1 689.5 L1738.4 689.4 L1739.0 688.9 L1739.6 688.3 L1740.3 687.6 L1740.9 686.7 L1741.0 686.6 L1741.6 683.9 L1742.2 679.6 L1742.8 675.2 L1743.5 672.3 L1743.5 672.1 L1744.1 674.8 L1744.8 679.3 L1745.4 682.2 L1745.4 682.1 L1746.0 678.5 L1746.7 673.1 L1747.3 667.8 L1747.9 664.8 L1748.0 665.1 L1748.6 669.6 L1749.2 676.3 L1749.9 683.4 L1750.5 688.9 L1750.8 690.2 L1751.2 690.0 L1751.8 689.4 L1752.4 688.6 L1753.1 687.8 L1753.7 687.1 L1754.4 686.6 L1754.4 686.6 L1755.0 686.9 L1755.6 687.4 L1756.3 688.1 L1756.9 688.7 L1757.6 689.2 L1758.0 689.5 L1758.2 689.2 L1758.8 687.8 L1759.5 685.9 L1760.1 683.5 L1760.8 681.0 L1761.4 678.5 L1761.7 677.5 L1762.0 675.8 L1762.7 672.4 L1763.3 668.8 L1764.0 665.4 L1764.6 662.5 L1765.2 660.6 L1765.3 660.5 L1765.9 662.6 L1766.5 666.1 L1767.2 669.7 L1767.8 672.1 L1767.8 672.1 L1768.4 670.0 L1769.1 666.6 L1769.7 663.7 L1770.0 663.0 L1770.4 664.1 L1771.0 666.9 L1771.6 670.6 L1772.3 674.4 L1772.5 675.7 L1772.9 678.2 L1773.6 682.8 L1774.2 686.2 L1774.3 686.6 L1774.8 685.4 L1775.5 683.1 L1776.1 680.9 L1776.5 680.1 L1776.8 680.5 L1777.4 682.2 L1778.0 684.6 L1778.7 687.2 L1779.3 689.3 L1779.8 690.2 L1780.0 690.2 L1780.6 690.4 L1781.2 690.5 L1781.9 690.6 L1782.5 690.7 L1783.2 690.8 L1783.8 690.9 L1784.4 690.9 L1784.5 690.9 L1785.1 689.9 L1785.7 688.3 L1786.4 686.2 L1787.0 683.8 L1787.6 681.3 L1788.1 679.3 L1788.3 678.2 L1788.9 673.4 L1789.6 668.0 L1789.9 664.8 L1790.2 661.5 L1790.8 653.1 L1791.4 648.5 L1791.5 649.1 L1792.1 654.7 L1792.8 662.1 L1793.4 667.8 L1793.5 668.5 L1794.0 668.1 L1794.7 667.3 L1795.3 666.7 L1795.3 666.7 L1796.0 668.8 L1796.6 672.2 L1797.2 676.0 L1797.9 679.3 L1797.9 679.3 L1798.5 681.6 L1799.2 683.7 L1799.7 684.8 L1799.8 684.7 L1800.4 684.3 L1801.1 683.6 L1801.7 682.9 L1802.4 682.3 L1802.6 682.2 L1803.0 683.0 L1803.6 685.0 L1804.3 687.4 L1804.9 689.2 L1805.1 689.5 L1805.6 688.2 L1806.2 684.9 L1806.8 681.0 L1807.5 677.5 L1808.0 675.7 L1808.1 675.9 L1808.8 678.7 L1809.4 682.7 L1810.0 686.5 L1810.6 688.4 L1810.7 688.1 L1811.3 685.7 L1812.0 682.2 L1812.6 678.0 L1813.2 673.6 L1813.5 672.1 L1813.9 667.5 L1814.5 659.0 L1815.2 650.5 L1815.8 644.2 L1816.0 643.1 L1816.4 647.2 L1817.1 656.8 L1817.7 667.9 L1818.4 677.5 L1818.5 679.3 L1819.0 682.1 L1819.6 685.7 L1820.3 688.4 L1820.7 689.5 L1820.9 688.9 L1821.6 686.0 L1822.2 682.0 L1822.8 677.6 L1823.5 673.7 L1824.1 670.8 L1824.3 670.3 L1824.8 672.6 L1825.4 678.1 L1826.0 682.6 L1826.1 683.0 L1826.7 678.0 L1827.3 668.7 L1827.9 657.6 L1828.0 657.2 L1828.6 630.7 L1829.2 600.2 L1829.8 584.4 L1829.9 585.2 L1830.5 592.1 L1831.2 601.9 L1831.8 611.8 L1832.3 617.8 L1832.4 618.7 L1833.1 622.0 L1833.7 624.9 L1834.4 627.7 L1835.0 631.1 L1835.2 632.2 L1835.6 637.7 L1836.3 647.6 L1836.9 657.8 L1837.6 665.4 L1837.7 666.7 L1838.2 667.1 L1838.8 667.7 L1839.5 668.1 L1840.1 668.4 L1840.3 668.5 L1840.8 666.6 L1841.4 662.9 L1842.0 658.3 L1842.7 653.6 L1843.2 650.4 L1843.3 649.3 L1844.0 644.8 L1844.6 640.9 L1845.0 639.5 L1845.2 641.0 L1845.9 646.9 L1846.5 654.8 L1847.2 662.5 L1847.8 668.1 L1847.9 668.5 L1848.4 669.3 L1849.1 670.0 L1849.7 670.6 L1850.4 671.2 L1851.0 671.9 L1851.1 672.1 L1851.6 673.0 L1852.3 674.4 L1852.9 675.8 L1853.6 677.0 L1854.0 677.5 L1854.2 677.3 L1854.8 675.9 L1855.5 673.9 L1856.1 671.9 L1856.8 670.5 L1856.9 670.3 L1857.4 671.7 L1858.0 674.9 L1858.7 678.3 L1859.3 680.8 L1859.5 681.1 L1860.0 679.9 L1860.6 677.2 L1861.2 674.1 L1861.9 671.5 L1862.4 670.3 L1862.5 670.8 L1863.2 674.4 L1863.8 679.3 L1864.4 683.8 L1864.9 685.9 L1865.1 686.0 L1865.7 686.3 L1866.4 686.6 L1867.0 686.9 L1867.6 687.1 L1868.3 687.3 L1868.5 687.3 L1868.9 687.3 L1869.6 687.2 L1870.2 687.0 L1870.8 686.9 L1871.5 686.7 L1872.1 686.6 L1872.1 686.6 L1872.8 686.4 L1873.4 686.3 L1874.0 686.2 L1874.7 686.0 L1875.0 685.9 L1875.3 685.1 L1876.0 682.4 L1876.6 679.9 L1876.8 679.3 L1877.2 680.0 L1877.9 681.9 L1878.5 683.5 L1878.7 683.7 L1879.2 682.6 L1879.8 680.3 L1880.4 678.6 L1880.5 678.6 L1881.1 680.1 L1881.7 682.5 L1882.4 685.0 L1883.0 686.6 L1883.0 686.6 L1883.6 681.8 L1884.3 674.5 L1884.9 665.4 L1885.6 655.6 L1885.9 650.4 L1886.2 643.6 L1886.8 625.7 L1887.5 610.2 L1887.7 606.9 L1888.1 606.4 L1888.8 605.9 L1889.4 605.4 L1890.0 605.1 L1890.2 605.1 L1890.7 608.1 L1891.3 615.5 L1892.0 624.9 L1892.4 632.2 L1892.6 636.9 L1893.2 659.2 L1893.9 675.7 L1893.9 675.7 L1894.5 670.5 L1895.2 663.3 L1895.7 659.4 L1895.8 660.2 L1896.4 669.4 L1897.1 680.4 L1897.5 684.8 L1897.7 684.6 L1898.4 683.7 L1899.0 682.5 L1899.6 681.5 L1900.0 681.1 L1900.3 681.5 L1900.9 683.2 L1901.6 685.2 L1902.2 686.6 L1902.2 686.6 L1902.8 678.0 L1903.5 664.4 L1904.1 649.1 L1904.7 635.9 L1904.8 635.5 L1905.4 623.9 L1906.0 612.0 L1906.7 602.0 L1907.3 596.0 L1907.3 596.3 L1908.0 604.4 L1908.6 616.5 L1909.2 628.8 L1909.4 632.2 L1909.9 638.6 L1910.5 648.4 L1911.2 657.3 L1911.8 663.7 L1912.0 664.8 L1912.4 662.2 L1913.1 655.9 L1913.7 648.9 L1914.4 643.8 L1914.5 643.1 L1915.0 646.5 L1915.6 653.7 L1916.3 659.2 L1916.3 659.4 L1916.9 646.0 L1917.6 623.4 L1918.2 603.2 L1918.5 597.8 L1918.8 601.8 L1919.5 614.2 L1920.1 629.8 L1920.8 644.9 L1921.0 650.4 L1921.4 655.7 L1922.0 664.8 L1922.7 672.3 L1922.8 673.9 L1923.3 676.1 L1924.0 678.9 L1924.6 681.2 L1925.2 682.7 L1925.4 683.0 L1925.9 681.0 L1926.5 676.9 L1927.2 671.8 L1927.6 668.5 L1927.8 665.4 L1928.4 655.0 L1929.1 645.6 L1929.4 643.1 L1929.7 643.3 L1930.4 643.9 L1931.0 644.7 L1931.2 644.9 L1931.6 649.5 L1932.3 659.5 L1932.9 670.4 L1933.6 678.3 L1933.7 679.3 L1934.2 677.7 L1934.8 674.2 L1935.5 670.1 L1936.1 666.5 L1936.6 664.8 L1936.8 665.2 L1937.4 667.7 L1938.0 671.2 L1938.7 674.3 L1939.1 675.7 L1939.3 673.3 L1940.0 656.6 L1940.6 636.7 L1941.0 628.6 L1941.2 626.4 L1941.9 621.8 L1942.5 618.5 L1942.8 617.8 L1943.2 622.1 L1943.8 634.0 L1944.4 648.3 L1945.1 661.3 L1945.3 664.8 L1945.7 668.7 L1946.4 674.3 L1947.0 678.8 L1947.5 681.1 L1947.6 681.3 L1948.3 681.7 L1948.9 682.1 L1949.6 682.5 L1950.2 682.7 L1950.8 682.9 L1951.1 683.0 L1951.5 679.9 L1952.1 670.8 L1952.8 660.3 L1953.4 652.1 L1953.6 650.4 L1954.0 655.1 L1954.7 667.6 L1955.3 678.2 L1955.4 679.3 L1956.0 677.4 L1956.6 673.5 L1957.2 668.3 L1957.6 664.8 L1957.9 658.3 L1958.5 634.1 L1959.2 607.7 L1959.8 590.6 L1959.8 590.6 L1960.4 604.4 L1961.1 625.6 L1961.7 645.1 L1962.0 650.4 L1962.4 653.4 L1963.0 657.9 L1963.6 661.6 L1964.3 664.2 L1964.5 664.8 L1964.9 662.5 L1965.6 656.3 L1966.2 649.4 L1966.8 644.0 L1967.0 643.1 L1967.5 646.8 L1968.1 655.7 L1968.8 664.6 L1969.2 668.5 L1969.4 667.6 L1970.0 662.4 L1970.7 655.4 L1971.3 649.2 L1971.7 646.7 L1972.0 648.2 L1972.6 656.7 L1973.2 665.8 L1973.6 668.5 L1973.9 667.5 L1974.5 664.4 L1975.2 660.3 L1975.8 655.5 L1976.4 650.5 L1976.5 650.4 L1977.1 641.9 L1977.7 632.2 L1978.3 626.8 L1978.4 627.6 L1979.0 637.9 L1979.6 652.9 L1980.3 667.5 L1980.8 675.7 L1980.9 676.1 L1981.6 678.3 L1982.2 680.2 L1982.8 681.7 L1983.5 682.7 L1983.7 683.0 L1984.1 682.6 L1984.8 681.9 L1985.4 680.9 L1986.0 679.7 L1986.2 679.3 L1986.7 676.8 L1987.3 671.9 L1988.0 665.9 L1988.6 659.4 L1988.8 657.6 L1989.2 649.5 L1989.9 635.6 L1990.5 620.9 L1991.2 608.0 L1991.8 599.8 L1991.8 599.6 L1992.4 606.5 L1993.1 617.7 L1993.7 628.9 L1994.3 635.9 L1994.4 635.8 L1995.0 632.3 L1995.6 626.9 L1996.3 622.3 L1996.5 621.4 L1996.9 625.5 L1997.6 636.5 L1998.2 649.8 L1998.8 661.7 L1999.1 664.8 L1999.5 668.5 L2000.1 673.9 L2000.8 678.8 L2001.4 682.6 L2002.0 684.8 L2002.0 684.7 L2002.7 684.4 L2003.3 684.0 L2004.0 683.5 L2004.5 683.0 L2004.6 682.8 L2005.2 681.4 L2005.9 679.6 L2006.5 677.6 L2007.0 675.7 L2007.2 674.7 L2007.8 667.4 L2008.4 659.0 L2009.1 652.8 L2009.2 652.2 L2009.7 656.4 L2010.4 664.7 L2011.0 672.0 L2011.0 672.1 L2011.6 675.2 L2012.3 677.9 L2012.8 679.3 L2012.9 679.1 L2013.6 676.3 L2014.2 672.0 L2014.6 668.5 L2014.8 663.3 L2015.5 638.1 L2016.1 609.4 L2016.8 589.6 L2016.8 588.8 L2017.4 599.1 L2018.0 616.8 L2018.7 635.6 L2019.0 643.1 L2019.3 650.0 L2020.0 663.3 L2020.6 673.7 L2020.8 675.7 L2021.2 676.7 L2021.9 677.8 L2022.5 678.6 L2023.2 679.2 L2023.3 679.3 L2023.8 677.8 L2024.4 674.3 L2025.1 670.1 L2025.7 666.6 L2026.2 664.8 L2026.4 665.4 L2027.0 670.7 L2027.6 677.0 L2028.0 679.3 L2028.3 673.6 L2028.9 646.5 L2029.6 616.4 L2029.8 606.9 L2030.2 602.2 L2030.8 594.8 L2031.5 589.6 L2031.7 588.8 L2032.1 593.6 L2032.8 604.6 L2033.4 616.5 L2033.5 617.8 L2034.0 628.7 L2034.7 642.1 L2035.3 655.2 L2036.0 666.5 L2036.4 672.1 L2036.6 673.4 L2037.2 676.9 L2037.9 679.9 L2038.5 682.1 L2038.9 683.0 L2039.2 681.4 L2039.8 674.5 L2040.4 665.4 L2041.1 656.7 L2041.7 650.8 L2041.8 650.4 L2042.4 656.0 L2043.0 665.7 L2043.6 672.1 L2043.6 672.0 L2044.3 666.8 L2044.9 658.9 L2045.6 651.2 L2046.1 646.7 L2046.2 646.8 L2046.8 647.2 L2047.5 647.9 L2048.0 648.5 L2048.1 649.7 L2048.8 657.2 L2049.4 666.7 L2050.0 674.8 L2050.1 675.7 L2050.7 678.5 L2051.3 681.3 L2052.0 683.7 L2052.3 684.8 L2052.6 685.3 L2053.2 686.3 L2053.9 687.2 L2054.5 687.9 L2055.2 688.4 L2055.2 688.4 L2055.8 687.4 L2056.4 685.7 L2057.1 683.5 L2057.7 681.0 L2058.1 679.3 L2058.4 676.9 L2059.0 668.8 L2059.6 660.4 L2059.9 657.6 L2060.3 655.3 L2060.9 651.8 L2061.4 650.4 L2061.6 651.0 L2062.2 654.7 L2062.8 659.7 L2063.5 664.5 L2063.5 664.8 L2064.1 668.5 L2064.8 672.5 L2065.4 676.2 L2066.0 679.2 L2066.1 679.3 L2066.7 680.6 L2067.3 681.8 L2068.0 682.8 L2068.6 683.7 L2069.2 684.4 L2069.7 684.8 L2069.9 684.7 L2070.5 684.2 L2071.2 683.5 L2071.8 682.8 L2072.4 682.3 L2072.6 682.2 L2073.1 682.4 L2073.7 682.9 L2074.4 683.3 L2075.0 683.6 L2075.1 683.7 L2075.6 683.1 L2076.3 681.8 L2076.9 680.4 L2077.6 679.4 L2077.7 679.3 L2078.2 679.9 L2078.8 680.9 L2079.5 681.9 L2079.8 682.2 L2080.1 681.7 L2080.8 679.5 L2081.4 676.8 L2082.0 674.6 L2082.4 673.9 L2082.7 674.5 L2083.3 676.8 L2084.0 678.9 L2084.2 679.3 L2084.6 677.3 L2085.2 671.9 L2085.9 665.9 L2086.5 661.3 L2086.7 660.5 L2087.2 662.8 L2087.8 668.3 L2088.4 674.2 L2088.9 677.5 L2089.1 678.2 L2089.7 680.5 L2090.4 682.5 L2091.0 684.1 L2091.4 684.8 L2091.6 684.5 L2092.3 682.8 L2092.9 680.8 L2093.6 679.4 L2093.6 679.3 L2094.2 680.5 L2094.8 682.4 L2095.5 684.2 L2095.8 684.8 L2096.1 685.0 L2096.8 685.3 L2097.4 685.5 L2098.0 685.7 L2098.7 685.9 L2098.7 685.9 L2099.3 685.6 L2100.0 685.3 L2100.6 685.0 L2101.2 684.5 L2101.9 684.0 L2102.3 683.7 L2102.5 683.2 L2103.2 681.4 L2103.8 679.3 L2104.4 677.3 L2105.1 675.9 L2105.2 675.7 L2105.7 676.6 L2106.4 678.2 L2107.0 679.3 L2107.0 679.3 L2107.6 677.1 L2108.3 673.9 L2108.8 672.1 L2108.9 672.3 L2109.6 674.4 L2110.2 677.4 L2110.8 680.5 L2111.3 682.2 L2111.5 682.4 L2112.1 683.2 L2112.8 684.0 L2113.4 684.5 L2113.9 684.8 L2114.0 684.7 L2114.7 684.0 L2115.3 683.0 L2116.0 682.0 L2116.6 681.3 L2116.8 681.1 L2117.2 681.5 L2117.9 682.3 L2118.5 683.3 L2119.2 684.2 L2119.7 684.8 L2119.8 684.8 L2120.4 685.2 L2121.1 685.5 L2121.7 685.7 L2122.2 685.9 L2122.4 685.8 L2123.0 685.4 L2123.6 684.9 L2124.3 684.3 L2124.9 683.7 L2125.6 683.2 L2125.8 683.0 L2126.2 682.7 L2126.8 682.4 L2127.5 682.0 L2128.1 681.6 L2128.8 681.4 L2129.4 681.2 L2129.5 681.1 L2130.0 681.3 L2130.7 681.7 L2131.3 682.0 L2132.0 682.2 L2132.0 682.2 L2132.6 681.7 L2133.2 680.9 L2133.9 680.2 L2134.2 680.1 L2134.5 680.4 L2135.2 681.4 L2135.8 682.5 L2136.4 683.5 L2136.7 683.7 L2137.1 683.5 L2137.7 683.1 L2138.4 682.7 L2139.0 682.3 L2139.2 682.2 L2139.6 682.4 L2140.3 683.0 L2140.9 683.6 L2141.6 684.3 L2142.1 684.8 L2142.2 684.8 L2142.8 685.2 L2143.5 685.6 L2144.1 685.9 L2144.8 686.3 L2145.4 686.5 L2145.8 686.6 L2146.0 686.4 L2146.7 685.8 L2147.3 685.0 L2148.0 684.2 L2148.3 683.7 L2148.6 683.0 L2149.2 681.3 L2149.9 679.6 L2150.5 678.6 L2150.5 678.6 L2151.2 679.6 L2151.8 680.9 L2152.4 682.2 L2153.0 683.0 L2153.1 682.9 L2153.7 682.7 L2154.4 682.3 L2155.0 681.8 L2155.6 681.3 L2155.9 681.1 L2156.3 680.9 L2156.9 680.3 L2157.6 679.8 L2158.2 679.4 L2158.4 679.3 L2158.8 679.6 L2159.5 680.4 L2160.1 681.4 L2160.8 682.1 L2161.0 682.2 L2161.4 682.1 L2162.0 681.9 L2162.7 681.6 L2163.3 681.3 L2163.9 681.1 L2164.0 681.2 L2164.6 681.7 L2165.2 682.5 L2165.9 683.3 L2166.4 683.7 L2166.5 683.7 L2167.2 683.5 L2167.8 683.3 L2168.4 683.1 L2169.1 683.0 L2169.3 683.0 L2169.7 683.5 L2170.4 684.7 L2171.0 685.8 L2171.1 685.9 L2171.6 685.5 L2172.3 684.9 L2172.9 684.1 L2173.6 683.1 L2173.6 683.0 L2174.2 679.1 L2174.8 672.6 L2175.5 664.8 L2175.5 664.5 L2176.1 642.3 L2176.8 620.5 L2176.9 617.8 L2177.4 618.6 L2178.0 620.4 L2178.4 621.4 L2178.7 623.1 L2179.3 627.7 L2180.0 631.5 L2180.2 632.2 L2180.6 626.1 L2181.2 611.1 L2181.9 598.8 L2182.0 597.8 L2182.5 606.3 L2183.2 621.6 L2183.8 632.2 L2183.8 632.2 L2184.4 621.9 L2185.1 607.4 L2185.6 599.6 L2185.7 600.4 L2186.4 607.5 L2187.0 617.8 L2187.4 625.0 L2187.6 630.7 L2188.3 651.1 L2188.9 670.1 L2189.2 675.7 L2189.6 676.4 L2190.2 677.4 L2190.8 678.3 L2191.5 678.9 L2192.1 679.3 L2192.1 679.3 L2192.8 678.6 L2193.4 677.5 L2194.0 676.4 L2194.7 675.7 L2194.7 675.7 L2195.3 676.8 L2196.0 678.4 L2196.6 680.0 L2197.2 681.1 L2197.2 681.2 L2197.9 681.5 L2198.5 681.7 L2199.2 681.9 L2199.8 682.1 L2200.1 682.2 L2200.4 682.4 L2201.1 682.7 L2201.7 683.0 L2202.4 683.3 L2203.0 683.5 L2203.6 683.7 L2203.7 683.7 L2204.3 683.1 L2204.9 681.9 L2205.6 680.6 L2206.2 679.4 L2206.2 679.3 L2206.8 678.6 L2207.5 677.9 L2208.1 677.2 L2208.8 676.4 L2209.1 675.7 L2209.4 674.2 L2210.0 668.9 L2210.7 662.1 L2211.3 654.6 L2211.7 650.4 L2212.0 646.0 L2212.6 633.7 L2213.2 621.6 L2213.9 614.1 L2213.9 614.3 L2214.5 623.9 L2215.2 638.8 L2215.8 654.1 L2216.4 664.8 L2216.4 665.2 L2217.1 669.3 L2217.7 672.9 L2218.4 676.0 L2219.0 678.5 L2219.3 679.3 L2219.6 679.7 L2220.3 680.3 L2220.9 680.7 L2221.6 681.1 L2221.8 681.1 L2222.2 681.0 L2222.8 680.7 L2223.5 680.4 L2224.1 679.9 L2224.7 679.3 L2224.8 679.2 L2225.4 676.8 L2226.0 673.5 L2226.7 669.3 L2227.3 664.8 L2227.3 663.8 L2228.0 646.0 L2228.6 625.5 L2229.1 615.9 L2229.2 617.6 L2229.9 628.8 L2230.5 643.2 L2230.9 650.4 L2231.2 654.8 L2231.8 665.4 L2232.4 673.8 L2232.7 675.7 L2233.1 674.5 L2233.7 671.2 L2234.4 667.1 L2235.0 663.4 L2235.6 661.2 L2235.6 661.4 L2236.3 665.0 L2236.9 670.6 L2237.6 676.0 L2238.1 679.3 L2238.2 679.4 L2238.8 680.0 L2239.5 680.5 L2240.1 680.9 L2240.7 681.1 L2240.8 680.7 L2241.4 674.2 L2242.0 665.4 L2242.7 658.5 L2242.8 657.6 L2243.3 663.9 L2244.0 675.7 L2244.3 679.3 L2244.6 679.3 L2245.2 679.3 L2245.9 679.3 L2246.5 679.3 L2247.2 679.3 L2247.2 679.3 L2247.8 676.0 L2248.4 670.6 L2249.1 664.2 L2249.7 657.7 L2250.0 655.0 L2250.4 651.8 L2251.0 645.9 L2251.5 640.0 L2251.6 636.3 L2252.3 612.7 L2252.6 600.0 L2252.9 587.0 L2253.6 560.2 L2253.9 551.5 L2254.2 558.6 L2254.8 584.8 L2255.2 600.0 L2255.5 610.8 L2256.1 635.0 L2256.3 640.0 L2256.8 644.5 L2257.4 649.3 L2258.0 654.0 L2258.0 654.4 L2258.7 662.7 L2259.3 671.1 L2259.9 675.7 L2260.0 674.8 L2260.6 664.0 L2261.2 649.5 L2261.8 639.5 L2261.9 639.0 L2262.5 634.9 L2263.2 631.3 L2263.8 628.5 L2264.3 626.8 L2264.4 626.6 L2265.1 626.1 L2265.7 625.6 L2266.4 625.1 L2266.5 625.0 L2267.0 624.4 L2267.6 623.7 L2268.3 622.9 L2268.9 622.0 L2269.6 621.1 L2269.6 621.0 L2270.2 619.8 L2270.8 618.0 L2270.8 617.5 L2271.5 598.2 L2272.1 578.8 L2272.2 577.6 L2272.8 588.3 L2273.4 606.6 L2273.6 612.0 L2274.0 622.3 L2274.7 637.4 L2275.0 645.0 L2275.3 653.2 L2276.0 669.9 L2276.3 675.7 L2276.6 676.3 L2277.2 677.3 L2277.9 678.1 L2278.5 678.9 L2278.8 679.3 L2279.2 680.1 L2279.8 682.0 L2280.4 683.8 L2281.0 684.8 L2281.1 684.6 L2281.7 682.6 L2282.4 679.5 L2283.0 675.7 L2283.5 672.1 L2283.6 670.9 L2284.3 658.6 L2284.9 645.2 L2285.4 639.5 L2285.6 639.7 L2286.2 640.7 L2286.8 642.2 L2287.2 643.1 L2287.5 646.9 L2288.1 659.0 L2288.8 670.0 L2289.0 672.1 L2289.4 666.4 L2290.0 652.3 L2290.7 640.5 L2290.8 639.5 L2291.3 639.7 L2292.0 640.0 L2292.6 640.6 L2293.2 641.2 L2293.3 641.3 L2293.9 651.0 L2294.5 667.6 L2295.1 679.3 L2295.2 679.4 L2295.8 680.5 L2296.4 681.5 L2297.1 682.2 L2297.7 682.8 L2298.0 683.0 L2298.4 682.9 L2299.0 682.6 L2299.6 682.2 L2300.3 681.8 L2300.9 681.4 L2301.6 681.2 L2301.7 681.1 L2302.2 681.7 L2302.8 682.8 L2303.5 683.9 L2304.1 684.7 L2304.2 684.8 L2304.8 683.8 L2305.4 682.1 L2306.0 679.9 L2306.7 677.4 L2307.1 675.7 L2307.3 673.8 L2308.0 666.5 L2308.6 659.5 L2308.9 657.6 L2309.2 658.5 L2309.9 661.4 L2310.5 664.3 L2310.7 664.8 L2311.2 665.3 L2311.8 665.9 L2312.4 666.3 L2313.1 666.6 L2313.2 666.7 L2313.7 666.5 L2314.4 666.0 L2315.0 665.5 L2315.6 665.1 L2316.1 664.8 L2316.3 665.5 L2316.9 671.3 L2317.6 678.3 L2318.0 681.1 L2318.2 681.4 L2318.8 682.1 L2319.5 682.6 L2320.1 683.0 L2320.8 683.4 L2321.4 683.6 L2321.6 683.7 L2322.0 683.5 L2322.7 683.0 L2323.3 682.5 L2324.0 681.9 L2324.6 681.4 L2325.2 681.1 L2325.2 681.2 L2325.9 681.4 L2326.5 681.8 L2327.2 682.3 L2327.8 682.8 L2328.1 683.0 L2328.4 683.2 L2329.1 683.7 L2329.7 684.3 L2330.4 684.7 L2330.6 684.8 L2331.0 683.8 L2331.6 680.9 L2332.3 677.3 L2332.9 674.1 L2333.5 672.1 L2333.6 672.1 L2334.2 675.1 L2334.8 679.1 L2335.3 681.1 L2335.5 680.8 L2336.1 677.3 L2336.8 672.7 L2337.2 670.3 L2337.4 669.2 L2338.0 666.4 L2338.6 664.8 L2338.7 665.0 L2339.3 668.4 L2340.0 673.0 L2340.4 675.7 L2340.6 676.3 L2341.2 678.3 L2341.9 680.2 L2342.5 681.7 L2343.2 682.8 L2343.3 683.0 L2343.8 682.5 L2344.4 681.5 L2345.1 680.2 L2345.7 678.8 L2346.4 677.2 L2346.9 675.7 L2347.0 675.5 L2347.6 672.8 L2348.3 669.8 L2348.9 666.4 L2349.6 662.8 L2349.8 661.2 L2350.2 658.4 L2350.8 652.8 L2351.5 646.9 L2352.1 641.4 L2352.4 639.5 L2352.8 637.2 L2353.4 633.5 L2354.0 630.1 L2354.7 627.5 L2354.9 626.8 L2355.3 626.4 L2356.0 625.9 L2356.6 625.5 L2357.2 625.2 L2357.8 625.0 L2357.9 625.1 L2358.5 626.4 L2359.2 628.3 L2359.8 630.3 L2360.4 631.9 L2360.7 632.2 L2361.1 631.9 L2361.7 631.1 L2362.4 630.0 L2363.0 628.8 L2363.6 627.5 L2364.3 626.3 L2364.9 625.2 L2365.0 625.0 L2365.6 624.4 L2366.2 623.6 L2366.8 622.9 L2367.5 622.2 L2368.1 621.7 L2368.7 621.4 L2368.8 621.4 L2369.4 621.7 L2370.0 622.1 L2370.7 622.7 L2371.2 623.2 L2371.3 623.5 L2372.0 626.4 L2372.6 630.1 L2373.0 632.2 L2373.2 633.2 L2373.9 635.8 L2374.5 638.3 L2375.2 640.7 L2375.8 643.2 L2376.4 645.9 L2376.6 646.7 L2377.1 649.1 L2377.7 652.9 L2378.4 656.8 L2379.0 660.4 L2379.5 663.0 L2379.6 663.3 L2380.3 665.2 L2380.9 666.9 L2381.6 668.4 L2382.2 669.9 L2382.8 671.4 L2383.2 672.1 L2383.5 672.8 L2384.1 674.2 L2384.8 675.6 L2385.4 676.7 L2386.0 677.5 L2386.1 677.5 L2386.7 677.3 L2387.3 677.1 L2388.0 676.7 L2388.6 676.4 L2389.2 676.0 L2389.7 675.7 L2389.9 675.6 L2390.5 675.1 L2391.2 674.6 L2391.8 674.2 L2392.2 673.9 L2392.4 673.8 L2393.1 673.5 L2393.7 673.2 L2394.4 673.0 L2395.0 672.8 L2395.1 672.8 L2395.6 674.0 L2396.3 676.3 L2396.9 678.9 L2397.6 680.9 L2397.6 681.1 L2398.2 681.7 L2398.8 682.3 L2399.5 682.8 L2400.1 683.2 L2400.8 683.5 L2401.3 683.7 L2401.4 683.7 L2402.0 683.4 L2402.7 683.1 L2403.3 682.8 L2404.0 682.4 L2404.2 682.2 L2404.6 681.7 L2405.2 680.7 L2405.9 679.7 L2406.5 678.8 L2406.7 678.6 L2407.2 678.4 L2407.8 678.0 L2408.4 677.7 L2409.1 677.6 L2409.2 677.5 L2409.7 677.7 L2410.4 678.2 L2411.0 678.7 L2411.6 679.1 L2412.1 679.3 L2412.3 679.3 L2412.9 679.0 L2413.6 678.7 L2414.2 678.3 L2414.8 677.9 L2415.5 677.6 L2415.8 677.5 L2416.1 677.6 L2416.8 677.9 L2417.4 678.2 L2418.0 678.4 L2418.6 678.6 L2418.7 678.2 L2419.3 673.2 L2420.0 665.3 L2420.3 660.0 L2420.6 646.4 L2421.2 612.0 L2421.2 610.7 L2421.9 588.0 L2422.5 570.6 L2422.7 567.8 L2423.2 571.1 L2423.8 577.7 L2424.1 579.6 L2424.4 575.4 L2425.1 561.4 L2425.7 546.0 L2426.3 537.0 L2426.4 537.9 L2427.0 557.2 L2427.6 584.9 L2428.0 600.0 L2428.3 612.2 L2428.9 638.3 L2429.0 640.0 L2429.6 627.1 L2430.0 612.0 L2430.2 601.4 L2430.8 556.7 L2431.4 528.3 L2431.5 529.8 L2432.1 554.8 L2432.8 588.5 L2433.0 600.0 L2433.4 617.6 L2434.0 645.9 L2434.5 660.0 L2434.7 661.0 L2435.3 664.2 L2436.0 666.7 L2436.6 668.2 L2436.7 668.4 L2437.2 667.9 L2437.9 666.8 L2438.5 665.7 L2439.2 664.9 L2439.3 664.8 L2439.8 667.1 L2440.4 671.7 L2441.1 675.6 L2441.1 675.7 L2441.7 676.9 L2442.4 678.0 L2443.0 678.8 L2443.6 679.3 L2443.6 679.3 L2444.3 677.6 L2444.9 675.2 L2445.6 672.8 L2445.8 672.0 L2446.2 671.2 L2446.8 670.0 L2447.5 668.7 L2447.6 668.4 L2448.1 666.1 L2448.8 662.5 L2449.4 658.8 L2450.0 655.3 L2450.1 655.0 L2450.7 652.8 L2451.3 650.6 L2452.0 648.2 L2452.0 648.0 L2452.6 645.0 L2453.2 640.6 L2453.3 640.0 L2453.9 617.8 L2454.0 612.0 L2454.5 574.2 L2455.2 520.2 L2455.8 483.7 L2455.8 483.6 L2456.4 519.6 L2457.1 573.6 L2457.6 612.0 L2457.7 617.2 L2458.4 644.2 L2458.6 650.0 L2459.0 637.9 L2459.6 607.3 L2459.8 600.0 L2460.3 578.3 L2460.9 550.0 L2461.3 539.7 L2461.6 546.3 L2462.2 575.2 L2462.8 607.3 L2462.9 610.0 L2463.5 632.7 L2464.1 655.9 L2464.5 665.0 L2464.8 666.0 L2465.4 667.9 L2465.7 668.4 L2466.0 668.1 L2466.7 667.2 L2467.3 666.0 L2468.0 665.1 L2468.3 664.8 L2468.6 666.0 L2469.2 670.5 L2469.9 674.9 L2470.1 675.7 L2470.5 675.2 L2471.2 673.9 L2471.8 672.3 L2471.9 672.0 L2472.4 668.7 L2473.1 663.5 L2473.7 657.6 L2473.7 657.4 L2474.4 647.6 L2475.0 636.3 L2475.6 625.0 L2475.6 624.2 L2476.3 607.6 L2476.9 593.9 L2477.0 593.0 L2477.6 602.6 L2478.2 619.6 L2478.4 625.0 L2478.8 639.6 L2479.5 659.5 L2479.5 660.0 L2480.1 666.0 L2480.8 671.0 L2481.4 674.6 L2481.7 675.7 L2482.0 674.5 L2482.7 670.6 L2483.3 665.0 L2483.3 664.5 L2484.0 631.0 L2484.3 610.0 L2484.6 591.8 L2485.2 548.1 L2485.9 509.9 L2486.3 494.5 L2486.5 500.7 L2487.2 532.4 L2487.8 573.7 L2488.4 610.0 L2488.4 611.7 L2489.1 644.1 L2489.5 660.0 L2489.7 662.1 L2490.4 666.9 L2490.7 668.4 L2491.0 666.5 L2491.6 659.7 L2492.3 650.4 L2492.3 650.0 L2492.9 625.9 L2493.3 610.0 L2493.6 601.9 L2494.2 581.5 L2494.8 565.4 L2495.1 561.5 L2495.5 566.1 L2496.1 578.7 L2496.8 595.0 L2497.3 610.0 L2497.4 613.8 L2498.0 644.8 L2498.3 655.0 L2498.7 661.4 L2499.0 664.8 L2499.3 663.1 L2500.0 657.0 L2500.5 650.0 L2500.6 647.3 L2501.2 621.8 L2501.5 610.0 L2501.9 588.1 L2502.5 544.1 L2503.2 503.5 L2503.7 481.8 L2503.8 484.2 L2504.4 513.2 L2505.1 554.7 L2505.7 595.5 L2506.0 610.0 L2506.4 622.8 L2507.0 639.9 L2507.0 640.0 L2507.6 637.0 L2508.3 632.3 L2508.9 627.1 L2509.6 622.9 L2509.9 621.4 L2510.2 623.8 L2510.8 634.4 L2511.5 646.4 L2511.7 650.4 L2512.1 653.7 L2512.8 659.2 L2513.4 664.1 L2514.0 667.6 L2514.3 668.5 L2514.7 667.1 L2515.3 663.4 L2516.0 659.5 L2516.5 657.6 L2516.6 658.1 L2517.2 662.2 L2517.9 667.7 L2518.5 671.7 L2518.6 672.1 L2519.2 657.9 L2519.8 634.6 L2520.1 628.6 L2520.4 628.9 L2521.1 629.7 L2521.5 630.4 L2521.7 631.6 L2522.4 637.8 L2523.0 645.0 L2523.6 650.1 L2523.7 650.4 L2524.3 648.5 L2524.9 645.2 L2525.6 641.8 L2526.2 639.6 L2526.2 639.5 L2526.8 643.7 L2527.5 650.7 L2528.1 658.4 L2528.8 664.7 L2528.8 664.8 L2529.4 667.9 L2530.0 670.3 L2530.0 670.4 L2530.7 671.6 L2531.3 672.8 L2532.0 673.9 L2532.6 674.8 L2533.2 675.4 L2533.6 675.7 L2533.9 675.7 L2534.5 675.4 L2535.2 675.2 L2535.8 674.8 L2536.4 674.4 L2537.1 674.0 L2537.2 673.9 L2537.7 673.4 L2538.4 672.7 L2539.0 671.9 L2539.6 671.0 L2540.3 669.8 L2540.9 668.5 L2540.9 667.7 L2541.6 649.8 L2542.2 624.9 L2542.7 606.9 L2542.8 601.5 L2543.5 577.4 L2544.1 556.3 L2544.5 548.9 L2544.8 553.9 L2545.4 574.3 L2546.0 598.4 L2546.3 606.9 L2546.7 615.9 L2547.3 630.5 L2547.4 632.2 L2548.0 649.4 L2548.6 667.7 L2548.8 672.1 L2549.2 673.6 L2549.9 675.5 L2550.5 676.9 L2551.0 677.5 L2551.2 677.4 L2551.8 676.1 L2552.4 674.4 L2553.1 672.8 L2553.5 672.1 L2553.7 672.1 L2554.4 672.5 L2555.0 672.9 L2555.6 673.5 L2556.1 673.9 L2556.3 674.2 L2556.9 675.8 L2557.6 677.4 L2558.2 678.6 L2558.3 678.6 L2558.8 678.2 L2559.5 677.6 L2560.1 676.8 L2560.8 675.8 L2560.8 675.7 L2561.4 670.0 L2562.0 661.4 L2562.6 654.0 L2562.7 653.1 L2563.3 644.7 L2564.0 638.2 L2564.0 637.7 L2564.6 644.0 L2565.2 655.5 L2565.9 664.8 L2565.9 664.9 L2566.5 668.8 L2567.2 672.1 L2567.8 674.4 L2568.0 675.0 L2568.4 674.9 L2569.1 674.7 L2569.7 674.5 L2570.4 674.2 L2571.0 674.0 L2571.6 673.9 L2571.7 673.9 L2572.3 674.8 L2572.9 676.2 L2573.6 677.7 L2574.2 678.6 L2574.2 678.6 L2574.8 678.2 L2575.5 677.6 L2576.1 676.9 L2576.8 676.1 L2577.1 675.7 L2577.4 675.3 L2578.0 674.2 L2578.7 673.2 L2579.3 672.3 L2579.6 672.1 L2580.0 672.6 L2580.6 674.2 L2581.2 676.2 L2581.9 678.1 L2582.5 679.3 L2582.5 679.3 L2583.2 678.9 L2583.8 678.2 L2584.4 677.4 L2585.1 676.6 L2585.7 676.0 L2586.1 675.7 L2586.4 675.8 L2587.0 676.6 L2587.6 677.5 L2588.3 678.3 L2588.7 678.6 L2588.9 678.4 L2589.6 677.6 L2590.2 676.5 L2590.8 675.3 L2591.5 674.1 L2591.6 673.9 L2592.1 672.8 L2592.8 671.5 L2593.4 670.1 L2594.0 668.6 L2594.1 668.5 L2594.7 667.2 L2595.3 665.6 L2595.6 664.8 L2596.0 660.4 L2596.6 650.8 L2597.0 646.7 L2597.2 648.3 L2597.9 656.3 L2598.5 665.4 L2598.8 668.5 L2599.2 669.7 L2599.8 671.8 L2600.4 673.6 L2601.1 675.1 L2601.4 675.7 L2601.7 676.3 L2602.4 677.3 L2603.0 678.2 L2603.6 678.9 L2604.3 679.3 L2604.3 679.3 L2604.9 679.1 L2605.6 678.8 L2606.2 678.3 L2606.8 678.0 L2607.5 677.6 L2607.9 677.5 L2608.1 677.6 L2608.8 677.8 L2609.4 678.1 L2610.0 678.4 L2610.7 678.6 L2610.8 678.6 L2611.3 678.2 L2612.0 677.3 L2612.6 676.4 L2613.2 675.8 L2613.3 675.7 L2613.9 676.1 L2614.5 676.8 L2615.2 677.7 L2615.8 678.3 L2616.2 678.6 L2616.4 678.5 L2617.1 678.0 L2617.7 677.2 L2618.4 676.3 L2618.7 675.7 L2619.0 674.6 L2619.6 670.5 L2620.3 666.3 L2620.6 664.8 L2620.9 663.9 L2621.6 662.4 L2622.2 661.4 L2622.4 661.2 L2622.8 662.7 L2623.5 665.9 L2624.1 668.4 L2624.2 668.5 L2624.8 665.8 L2625.4 661.1 L2626.0 657.0 L2626.4 655.8 L2626.7 657.5 L2627.3 663.2 L2628.0 669.7 L2628.5 673.9 L2628.6 674.0 L2629.2 675.1 L2629.9 676.0 L2630.5 676.7 L2631.2 677.3 L2631.4 677.5 L2631.8 677.7 L2632.4 677.9 L2633.1 678.1 L2633.7 678.2 L2634.4 678.4 L2635.0 678.6 L2635.0 678.6 L2635.6 678.9 L2636.3 679.2 L2636.9 679.5 L2637.6 679.7 L2638.2 680.0 L2638.7 680.1 L2638.8 680.0 L2639.5 679.9 L2640.1 679.8 L2640.8 679.6 L2641.4 679.5 L2642.0 679.4 L2642.3 679.3 L2642.7 679.4 L2643.3 679.6 L2644.0 679.8 L2644.6 680.1 L2645.2 680.3 L2645.9 680.4 L2645.9 680.4 L2646.5 679.6 L2647.2 678.1 L2647.8 676.7 L2648.4 675.7 L2648.4 675.7 L2649.1 676.3 L2649.7 677.2 L2650.4 678.3 L2651.0 679.1 L2651.3 679.3 L2651.6 678.9 L2652.3 677.4 L2652.9 675.4 L2653.6 673.2 L2653.9 672.1 L2654.2 670.6 L2654.8 666.8 L2655.5 663.6 L2655.7 663.0 L2656.1 664.6 L2656.8 668.6 L2657.4 671.8 L2657.5 672.1 L2658.0 668.6 L2658.7 662.1 L2659.3 657.6 L2659.3 657.6 L2660.0 660.5 L2660.6 664.9 L2661.1 668.5 L2661.2 669.2 L2661.9 673.6 L2662.5 677.7 L2662.9 679.3 L2663.2 679.3 L2663.8 678.9 L2664.4 678.4 L2665.1 677.9 L2665.7 677.6 L2665.8 677.5 L2666.4 677.7 L2667.0 677.9 L2667.6 678.2 L2668.3 678.5 L2668.7 678.6 L2668.9 678.2 L2669.6 675.9 L2670.2 673.2 L2670.5 672.1 L2670.8 671.7 L2671.5 670.9 L2672.1 670.4 L2672.4 670.3 L2672.8 671.2 L2673.4 673.5 L2674.0 675.5 L2674.2 675.7 L2674.7 673.7 L2675.3 669.7 L2676.0 664.5 L2676.6 658.6 L2676.7 657.6 L2677.2 645.7 L2677.9 627.9 L2678.5 615.9 L2678.5 615.9 L2679.2 616.3 L2679.8 617.0 L2680.3 617.8 L2680.4 618.8 L2681.1 629.2 L2681.7 642.6 L2682.1 650.4 L2682.4 653.4 L2683.0 662.3 L2683.6 669.7 L2683.9 672.1 L2684.3 672.6 L2684.9 673.6 L2685.6 674.3 L2686.2 674.8 L2686.5 675.0 L2686.8 674.9 L2687.5 674.8 L2688.1 674.5 L2688.8 674.2 L2689.4 673.9 L2689.4 673.9 L2690.0 672.2 L2690.7 669.8 L2691.3 667.1 L2691.9 664.8 L2692.0 664.7 L2692.6 662.3 L2693.2 659.8 L2693.9 658.0 L2694.1 657.6 L2694.5 658.9 L2695.2 662.1 L2695.8 664.6 L2695.9 664.8 L2696.4 664.4 L2697.1 663.6 L2697.7 663.0 L2697.7 663.0 L2698.4 663.4 L2699.0 664.1 L2699.5 664.8" stroke="#008000" stroke-width="1.20"/>
<path d="M375.5 716.9 L2700.6 716.9" stroke="#0000ff" stroke-width="6.10"/>
<path d="M377.2 538.8 L377.9 547.4 L378.5 555.4 L379.2 562.6 L379.8 568.9 L379.8 569.0 L380.4 572.7 L381.1 575.9 L381.7 579.8 L382.0 581.5 L382.4 592.8 L383.0 617.6 L383.6 637.6 L383.8 639.5 L384.3 625.7 L384.9 597.8 L385.6 565.9 L386.2 538.8 L386.7 527.2 L386.8 528.6 L387.5 536.0 L388.1 546.3 L388.8 558.5 L389.4 571.4 L389.9 581.5 L390.0 584.4 L390.7 602.4 L391.3 622.0 L392.0 638.7 L392.5 646.7 L392.6 644.3 L393.2 624.5 L393.9 598.6 L394.5 579.6 L394.6 577.9 L395.2 581.2 L395.8 587.7 L396.4 594.6 L397.1 599.3 L397.2 599.6 L397.7 583.0 L398.4 551.9 L399.0 516.9 L399.6 487.8 L400.1 476.5 L400.3 486.3 L400.9 537.6 L401.6 604.1 L402.2 662.0 L402.6 683.0 L402.8 676.9 L403.5 649.0 L404.1 613.2 L404.8 581.9 L405.1 570.7 L405.4 569.7 L406.0 567.7 L406.7 566.2 L407.3 565.2 L407.3 565.4 L408.0 578.8 L408.6 599.7 L409.2 620.2 L409.8 632.2 L409.9 631.9 L410.5 620.6 L411.2 603.6 L411.8 587.1 L412.4 577.9 L412.4 577.9 L413.1 578.6 L413.7 579.4 L414.2 579.7 L414.4 577.2 L415.0 559.5 L415.6 537.1 L416.3 521.0 L416.4 520.0 L416.9 530.0 L417.6 548.6 L418.2 568.0 L418.8 580.9 L418.9 581.5 L419.5 564.5 L420.1 535.2 L420.8 509.0 L421.1 501.8 L421.4 511.4 L422.0 543.6 L422.7 582.3 L423.3 613.5 L423.6 621.4 L424.0 613.0 L424.6 587.9 L425.2 555.2 L425.9 520.8 L426.5 490.8 L427.2 471.2 L427.2 470.0 L427.8 478.2 L428.4 492.7 L429.1 510.7 L429.7 529.9 L430.4 547.9 L431.0 562.5 L431.6 570.7 L431.6 570.2 L432.3 561.1 L432.9 548.2 L433.6 537.9 L433.8 536.3 L434.2 543.3 L434.8 559.5 L435.5 579.8 L436.1 600.6 L436.8 618.2 L437.4 628.6 L437.4 628.2 L438.0 611.4 L438.7 585.0 L439.3 554.5 L440.0 525.2 L440.6 502.3 L441.0 493.9 L441.2 495.3 L441.9 500.6 L442.5 507.8 L443.2 516.3 L443.8 525.3 L444.4 534.0 L444.6 536.3 L445.1 543.7 L445.7 555.1 L446.4 564.9 L446.8 568.9 L447.0 567.3 L447.6 559.5 L448.3 548.6 L448.9 536.6 L449.6 525.6 L450.2 517.9 L450.4 516.3 L450.8 520.7 L451.5 531.1 L452.1 544.6 L452.8 559.4 L453.4 573.7 L454.0 585.7 L454.7 593.6 L454.8 594.2 L455.3 581.0 L456.0 556.7 L456.6 529.5 L457.2 506.9 L457.7 498.2 L457.9 499.8 L458.5 506.5 L459.2 515.7 L459.8 526.5 L460.4 538.0 L461.1 549.3 L461.3 552.6 L461.7 561.5 L462.4 576.3 L463.0 591.5 L463.6 605.2 L464.3 615.2 L464.5 617.8 L464.9 612.4 L465.6 597.8 L466.2 578.9 L466.8 559.2 L467.5 542.1 L468.1 531.2 L468.2 530.8 L468.8 538.9 L469.4 552.8 L470.0 568.8 L470.7 583.5 L471.3 593.3 L471.4 594.2 L472.0 582.2 L472.6 559.0 L473.2 534.7 L473.9 518.1 L474.0 517.1 L474.5 526.3 L475.2 543.4 L475.8 563.3 L476.4 581.8 L477.1 594.5 L477.2 596.0 L477.7 583.3 L478.4 558.4 L479.0 540.2 L479.0 539.9 L479.6 549.4 L480.3 565.3 L480.9 584.0 L481.6 602.4 L482.2 617.0 L482.7 623.2 L482.8 619.2 L483.5 594.7 L484.1 564.2 L484.8 542.7 L484.8 541.7 L485.4 545.9 L486.0 553.3 L486.7 562.4 L487.3 571.7 L488.0 580.0 L488.6 585.8 L488.8 587.0 L489.2 577.1 L489.9 552.7 L490.5 523.6 L491.2 497.8 L491.7 484.5 L491.8 485.7 L492.4 499.7 L493.1 520.6 L493.7 544.3 L494.4 566.7 L495.0 583.6 L495.3 588.8 L495.6 583.0 L496.3 562.7 L496.9 537.0 L497.6 512.8 L498.2 497.4 L498.2 497.1 L498.8 508.8 L499.5 527.8 L500.1 548.3 L500.4 556.2 L500.8 566.1 L501.4 585.2 L502.0 604.0 L502.7 619.7 L503.3 629.3 L503.3 629.1 L504.0 613.6 L504.6 596.2 L504.7 594.2 L505.2 606.3 L505.9 631.6 L506.5 656.0 L506.9 664.8 L507.2 658.9 L507.8 631.6 L508.4 596.3 L509.1 564.7 L509.5 552.6 L509.7 550.4 L510.4 545.6 L511.0 541.6 L511.6 538.5 L512.3 536.4 L512.4 536.3 L512.9 543.0 L513.6 555.0 L514.2 565.7 L514.5 568.9 L514.8 565.8 L515.5 555.1 L516.1 541.6 L516.8 528.9 L517.4 520.8 L517.4 520.7 L518.0 527.9 L518.7 539.9 L519.3 553.0 L520.0 563.6 L520.3 567.0 L520.6 564.5 L521.2 555.0 L521.9 542.1 L522.5 527.5 L523.2 512.9 L523.8 500.2 L524.4 491.1 L524.7 489.2 L525.1 491.7 L525.7 498.2 L526.4 506.3 L527.0 514.2 L527.6 520.2 L527.9 521.8 L528.3 521.0 L528.9 518.7 L529.6 516.6 L529.7 516.3 L530.2 521.3 L530.8 532.9 L531.5 545.7 L532.1 555.0 L532.3 556.2 L532.8 549.2 L533.4 534.8 L534.0 523.9 L534.1 523.6 L534.7 531.0 L535.3 543.7 L536.0 556.7 L536.6 565.1 L536.6 565.2 L537.2 560.5 L537.9 552.6 L538.5 544.8 L539.2 539.9 L539.2 539.9 L539.8 545.3 L540.4 553.7 L541.1 562.1 L541.7 567.0 L541.7 566.8 L542.4 559.7 L543.0 548.5 L543.6 535.6 L544.3 523.1 L544.9 513.4 L545.3 509.8 L545.6 515.1 L546.2 539.3 L546.8 570.0 L547.5 596.3 L547.9 605.1 L548.1 602.9 L548.8 594.0 L549.4 582.9 L550.0 573.6 L550.4 570.7 L550.7 572.8 L551.3 580.6 L552.0 591.0 L552.6 602.1 L553.2 612.1 L553.9 618.8 L554.0 619.6 L554.5 610.1 L555.2 591.2 L555.8 573.3 L556.2 567.0 L556.4 569.6 L557.1 580.5 L557.7 594.3 L558.4 606.0 L558.7 609.8 L559.0 608.1 L559.6 602.1 L560.3 594.1 L560.9 585.6 L561.3 581.5 L561.6 577.3 L562.2 567.3 L562.8 556.6 L563.5 545.8 L564.1 535.8 L564.8 527.3 L565.4 521.2 L565.6 520.0 L566.0 526.2 L566.7 541.4 L567.3 559.4 L568.0 575.3 L568.5 583.3 L568.6 582.4 L569.2 572.0 L569.9 556.9 L570.5 541.3 L571.2 529.6 L571.4 527.2 L571.8 529.2 L572.4 534.0 L573.1 540.1 L573.7 547.2 L574.4 554.8 L575.0 562.5 L575.6 569.8 L576.3 576.3 L576.5 577.9 L576.9 581.3 L577.6 586.2 L578.2 591.0 L578.8 595.5 L579.5 599.4 L580.1 602.3 L580.5 603.3 L580.8 600.8 L581.4 592.4 L582.0 581.3 L582.7 570.1 L583.3 561.2 L583.7 558.0 L584.0 561.9 L584.6 578.5 L585.2 601.3 L585.9 626.8 L586.5 651.2 L587.2 670.9 L587.7 681.1 L587.8 679.8 L588.4 667.1 L589.1 648.1 L589.7 625.8 L590.4 602.8 L591.0 581.9 L591.6 566.0 L592.0 559.8 L592.3 561.3 L592.9 568.7 L593.6 578.0 L594.2 586.0 L594.6 588.8 L594.8 586.6 L595.5 577.3 L596.1 565.6 L596.8 555.7 L597.1 552.6 L597.4 555.4 L598.0 566.6 L598.7 577.5 L598.9 579.7 L599.3 575.8 L600.0 565.2 L600.6 554.2 L601.1 548.9 L601.2 549.6 L601.9 555.2 L602.5 563.1 L603.2 571.1 L603.8 576.9 L604.0 577.9 L604.4 575.8 L605.1 571.1 L605.7 565.0 L606.4 558.1 L607.0 551.0 L607.6 544.3 L608.3 538.8 L608.9 535.0 L609.1 534.4 L609.6 537.7 L610.2 544.6 L610.8 552.1 L611.5 557.5 L611.6 558.0 L612.1 553.2 L612.8 543.5 L613.4 533.2 L614.0 526.0 L614.1 525.4 L614.7 528.9 L615.3 535.5 L616.0 541.6 L616.3 543.5 L616.6 542.0 L617.2 536.0 L617.9 530.2 L618.1 529.0 L618.5 535.5 L619.2 552.1 L619.8 573.9 L620.4 598.0 L621.1 621.3 L621.7 641.1 L622.4 654.4 L622.5 655.8 L623.0 645.9 L623.6 626.9 L624.3 603.1 L624.9 577.6 L625.6 553.4 L626.2 533.7 L626.8 521.8 L626.8 522.0 L627.5 531.9 L628.1 547.4 L628.8 564.8 L629.4 580.4 L630.0 590.3 L630.1 590.6 L630.7 588.0 L631.3 583.9 L631.9 581.5 L632.0 582.4 L632.6 597.0 L633.2 617.3 L633.9 633.5 L634.1 635.9 L634.5 622.1 L635.2 594.4 L635.5 585.2 L635.8 587.5 L636.4 596.1 L637.1 607.7 L637.7 620.1 L638.4 631.1 L639.0 638.6 L639.1 639.5 L639.6 630.5 L640.3 612.5 L640.9 589.9 L641.6 566.0 L642.2 543.9 L642.8 526.8 L643.3 520.0 L643.5 521.4 L644.1 528.6 L644.8 537.9 L645.4 546.0 L645.8 548.9 L646.0 548.1 L646.7 544.0 L647.3 539.8 L647.6 538.8 L648.0 542.1 L648.6 552.3 L649.2 564.8 L649.9 576.4 L650.5 583.3 L650.5 583.2 L651.2 575.3 L651.8 562.9 L652.4 549.7 L653.1 539.3 L653.4 536.3 L653.7 537.8 L654.4 542.6 L655.0 549.0 L655.6 556.2 L656.3 563.4 L656.9 569.8 L657.0 570.7 L657.6 574.9 L658.2 580.2 L658.8 585.1 L659.5 588.9 L659.9 590.6 L660.1 590.5 L660.8 589.8 L661.4 589.0 L661.7 588.8 L662.0 592.3 L662.7 605.2 L663.3 619.6 L663.9 627.9 L664.0 627.5 L664.6 619.2 L665.2 607.2 L665.9 597.6 L666.1 596.0 L666.5 599.1 L667.2 606.5 L667.8 613.9 L668.3 617.0 L668.4 615.8 L669.1 609.0 L669.7 599.6 L670.4 589.7 L670.4 588.8 L671.0 577.0 L671.6 561.7 L672.3 545.7 L672.9 530.9 L673.6 519.2 L674.0 513.4 L674.2 514.2 L674.8 520.3 L675.5 528.2 L676.1 534.0 L676.2 534.4 L676.8 534.1 L677.4 533.4 L678.0 532.8 L678.4 532.6 L678.7 536.5 L679.3 551.7 L680.0 569.1 L680.6 579.7 L680.6 579.5 L681.2 572.5 L681.9 561.5 L682.5 548.8 L683.2 536.5 L683.8 527.0 L684.2 523.6 L684.4 525.9 L685.1 536.2 L685.7 549.9 L686.4 563.0 L687.0 571.8 L687.1 572.5 L687.6 566.4 L688.3 555.0 L688.9 542.1 L689.6 531.4 L690.0 527.2 L690.2 530.7 L690.8 548.7 L691.5 573.4 L692.1 599.2 L692.8 620.7 L693.2 630.4 L693.4 627.9 L694.0 609.2 L694.7 583.7 L695.3 560.6 L695.8 550.7 L696.0 554.4 L696.6 578.8 L697.2 609.3 L697.9 631.0 L698.0 632.2 L698.5 623.2 L699.2 606.6 L699.8 586.7 L700.4 567.0 L701.1 551.0 L701.6 543.5 L701.7 544.9 L702.4 556.3 L703.0 571.9 L703.6 586.1 L704.1 592.4 L704.3 590.6 L704.9 578.9 L705.6 562.5 L706.2 546.1 L706.8 534.4 L707.0 532.6 L707.5 538.7 L708.1 552.5 L708.8 567.5 L709.4 578.4 L709.5 579.7 L710.0 572.7 L710.7 557.7 L711.3 540.4 L712.0 525.6 L712.4 518.9 L712.6 519.9 L713.2 526.3 L713.9 535.4 L714.5 546.4 L715.2 558.1 L715.8 569.5 L716.4 579.6 L717.1 587.3 L717.5 590.6 L717.7 589.3 L718.4 582.3 L719.0 572.8 L719.6 563.4 L720.3 556.9 L720.4 556.2 L720.9 562.6 L721.6 575.3 L722.2 591.4 L722.8 608.8 L723.5 625.3 L724.1 638.9 L724.8 647.5 L724.8 647.4 L725.4 641.7 L726.0 632.4 L726.7 621.6 L727.3 611.2 L728.0 602.9 L728.4 599.6 L728.6 600.6 L729.2 605.6 L729.9 610.9 L730.2 612.3 L730.5 606.8 L731.2 588.6 L731.8 565.7 L732.4 544.3 L733.1 530.9 L733.1 530.8 L733.7 545.1 L734.4 568.2 L735.0 593.2 L735.6 613.3 L736.0 619.6 L736.3 613.8 L736.9 591.9 L737.6 565.0 L738.2 542.7 L738.5 536.3 L738.8 538.8 L739.5 547.7 L740.1 558.9 L740.8 569.3 L741.4 576.0 L741.4 576.1 L742.0 571.3 L742.7 563.3 L743.3 554.6 L744.0 547.6 L744.3 545.3 L744.6 548.5 L745.2 561.1 L745.9 573.5 L746.1 576.1 L746.5 573.4 L747.2 565.9 L747.8 558.1 L748.3 554.4 L748.4 555.7 L749.1 566.0 L749.7 581.1 L750.4 598.4 L751.0 615.5 L751.6 629.7 L752.3 638.7 L752.3 638.8 L752.9 631.1 L753.6 619.3 L754.2 609.2 L754.5 606.9 L754.8 608.0 L755.5 611.1 L756.1 613.8 L756.3 614.1 L756.8 609.2 L757.4 598.6 L758.0 587.0 L758.7 578.8 L758.8 577.9 L759.3 579.5 L760.0 582.8 L760.6 585.9 L761.0 587.0 L761.2 585.3 L761.9 578.0 L762.5 570.6 L762.8 568.9 L763.2 572.8 L763.8 583.7 L764.2 588.8 L764.4 585.3 L765.1 566.2 L765.3 561.6 L765.7 566.6 L766.4 580.3 L767.0 594.6 L767.5 601.5 L767.6 598.9 L768.3 576.7 L768.9 547.8 L769.6 526.3 L769.7 524.3 L770.2 528.8 L770.8 537.4 L771.5 548.1 L772.1 559.4 L772.6 567.0 L772.8 570.9 L773.4 585.8 L774.0 596.0 L774.0 595.9 L774.7 589.5 L775.3 579.5 L776.0 568.8 L776.6 560.4 L776.9 558.0 L777.2 559.3 L777.9 563.7 L778.5 569.6 L779.2 575.7 L779.8 581.2 L780.4 584.8 L780.5 585.2 L781.1 583.8 L781.7 581.4 L782.4 578.4 L783.0 575.0 L783.6 571.5 L783.8 570.7 L784.3 566.9 L784.9 561.0 L785.6 555.3 L786.2 551.2 L786.3 550.7 L786.8 562.6 L787.5 587.2 L788.1 613.7 L788.8 632.3 L788.9 634.1 L789.4 626.1 L790.0 610.2 L790.7 592.2 L791.3 577.0 L791.8 570.7 L792.0 571.9 L792.6 578.4 L793.2 587.5 L793.9 597.3 L794.3 603.3 L794.5 606.3 L795.2 616.3 L795.8 625.8 L796.4 632.0 L796.5 632.2 L797.1 624.7 L797.7 611.9 L798.4 599.0 L799.0 590.7 L799.0 590.6 L799.6 606.4 L800.3 632.3 L800.9 660.4 L801.6 683.0 L801.9 690.2 L802.2 683.0 L802.8 655.7 L803.5 620.4 L804.1 586.3 L804.8 562.7 L804.8 561.6 L805.4 558.8 L806.0 556.1 L806.7 553.8 L807.3 551.9 L808.0 550.3 L808.6 549.2 L808.8 548.9 L809.2 550.1 L809.9 552.6 L810.5 556.0 L811.2 560.3 L811.3 561.6 L811.8 581.3 L812.4 619.9 L813.1 649.0 L813.1 650.4 L813.7 641.9 L814.4 626.9 L815.0 609.3 L815.6 592.4 L816.3 579.6 L816.4 577.9 L816.9 575.2 L817.6 572.2 L818.2 569.5 L818.8 567.3 L819.5 565.5 L820.0 564.5 L820.1 564.9 L820.8 568.7 L821.4 574.4 L822.0 580.2 L822.2 581.5 L822.7 585.9 L823.3 592.1 L824.0 598.4 L824.6 604.3 L825.2 609.2 L825.5 610.5 L825.9 611.9 L826.5 613.8 L827.2 615.3 L827.6 615.9 L827.8 615.6 L828.4 613.8 L829.1 611.2 L829.7 608.1 L830.4 604.6 L830.9 601.5 L831.0 600.4 L831.6 592.4 L832.3 583.3 L832.7 577.9 L832.9 575.7 L833.6 569.1 L834.2 562.4 L834.8 556.1 L835.5 550.6 L836.1 546.1 L836.7 543.5 L836.8 543.9 L837.4 549.1 L838.0 557.0 L838.7 566.2 L839.2 574.3 L839.3 576.4 L840.0 593.7 L840.6 612.7 L841.2 626.7 L841.4 628.6 L841.9 624.2 L842.5 614.7 L843.2 604.3 L843.8 596.8 L843.9 596.0 L844.4 599.5 L845.1 606.2 L845.7 614.9 L846.4 624.3 L847.0 633.7 L847.6 642.0 L848.3 648.2 L848.6 650.4 L848.9 645.8 L849.6 628.3 L850.2 604.9 L850.8 581.1 L851.5 561.9 L851.9 554.4 L852.1 557.7 L852.8 575.6 L853.4 594.5 L853.7 599.6 L854.0 594.7 L854.7 578.2 L855.3 563.0 L855.5 560.5 L856.0 562.1 L856.6 566.0 L857.2 570.7 L857.9 575.1 L858.4 577.9 L858.5 578.1 L859.2 579.2 L859.8 580.1 L860.4 581.2 L860.6 581.5 L861.1 586.4 L861.7 595.9 L862.4 606.4 L863.0 615.4 L863.5 619.6 L863.6 617.8 L864.3 604.7 L864.9 586.2 L865.6 566.6 L866.2 550.5 L866.4 547.1 L866.8 543.1 L867.5 537.9 L868.1 533.3 L868.8 529.8 L869.3 527.9 L869.4 528.9 L870.0 537.3 L870.7 549.6 L871.3 563.0 L871.8 572.5 L872.0 574.9 L872.6 587.4 L873.2 599.4 L873.9 607.8 L874.0 608.7 L874.5 602.3 L875.2 589.8 L875.8 578.2 L876.2 574.3 L876.4 577.6 L877.1 591.2 L877.7 609.0 L878.4 625.9 L879.0 637.1 L879.1 637.7 L879.6 634.6 L880.3 629.1 L880.9 622.9 L881.6 617.8 L882.0 615.9 L882.2 618.4 L882.8 630.1 L883.5 645.0 L884.1 657.9 L884.5 662.3 L884.8 658.8 L885.4 644.7 L886.0 625.3 L886.7 603.7 L887.3 583.0 L888.0 566.4 L888.5 558.0 L888.6 559.2 L889.2 570.5 L889.9 586.6 L890.5 602.8 L891.0 612.3 L891.2 613.6 L891.8 619.0 L892.4 624.1 L893.1 628.6 L893.7 632.3 L894.4 635.0 L894.6 635.9 L895.0 634.1 L895.6 628.6 L896.3 622.2 L896.9 617.1 L897.2 615.9 L897.6 616.2 L898.2 616.8 L898.8 617.4 L899.4 617.8 L899.5 617.1 L900.1 611.2 L900.8 602.9 L901.4 594.4 L902.0 588.1 L902.3 587.0 L902.7 590.4 L903.3 598.8 L904.0 609.2 L904.6 619.3 L905.2 626.8 L905.5 628.6 L905.9 623.8 L906.5 610.3 L907.2 592.6 L907.8 573.4 L908.4 555.5 L909.1 541.7 L909.5 536.3 L909.7 540.6 L910.4 562.5 L911.0 591.1 L911.6 617.3 L912.2 630.4 L912.3 629.8 L912.9 623.5 L913.6 614.3 L914.2 603.5 L914.8 592.9 L915.5 583.9 L916.1 578.1 L916.2 577.9 L916.8 587.3 L917.4 602.7 L918.0 616.2 L918.3 619.6 L918.7 615.9 L919.3 604.5 L920.0 591.1 L920.6 580.4 L920.9 577.9 L921.2 579.6 L921.9 584.2 L922.5 588.3 L922.7 588.8 L923.2 583.8 L923.8 573.2 L924.4 562.9 L924.9 559.1 L925.1 561.1 L925.7 571.5 L926.4 582.3 L926.7 585.2 L927.0 583.2 L927.6 577.1 L928.3 571.5 L928.5 570.7 L928.9 575.6 L929.6 587.1 L930.2 598.5 L930.6 603.3 L930.8 602.9 L931.5 600.7 L932.1 598.0 L932.8 596.1 L932.8 596.0 L933.4 605.6 L934.0 622.3 L934.7 639.5 L935.3 650.8 L935.4 651.1 L936.0 641.3 L936.6 624.8 L937.2 606.6 L937.9 591.9 L938.3 587.0 L938.5 588.8 L939.2 596.3 L939.8 605.6 L940.4 613.5 L940.8 615.9 L941.1 615.2 L941.7 612.2 L942.4 609.3 L942.6 608.7 L943.0 614.6 L943.6 630.3 L944.3 649.2 L944.9 666.3 L945.5 675.7 L945.6 675.0 L946.2 664.7 L946.8 649.2 L947.5 631.3 L948.1 613.7 L948.4 606.9 L948.8 597.4 L949.4 579.4 L950.0 563.6 L950.6 555.5 L950.7 557.3 L951.3 577.3 L952.0 604.1 L952.6 624.5 L952.7 626.8 L953.2 618.2 L953.9 600.0 L954.5 580.4 L955.2 566.6 L955.3 565.2 L955.8 576.1 L956.4 597.7 L957.1 620.6 L957.7 636.5 L957.8 637.7 L958.4 631.9 L959.0 620.9 L959.6 608.6 L960.3 598.3 L960.7 594.2 L960.9 597.4 L961.6 615.4 L962.2 628.6 L962.2 628.3 L962.8 620.1 L963.5 608.2 L964.1 598.5 L964.3 596.7 L964.8 601.2 L965.4 612.4 L966.0 624.9 L966.7 634.4 L966.9 635.9 L967.3 633.4 L968.0 627.6 L968.6 621.9 L969.0 619.6 L969.2 622.1 L969.9 636.3 L970.5 655.6 L971.2 674.6 L971.8 687.9 L971.9 689.5 L972.4 682.0 L973.1 666.4 L973.7 647.2 L974.4 627.9 L975.0 611.9 L975.6 603.3 L975.6 603.7 L976.3 609.6 L976.9 618.2 L977.6 626.3 L978.1 630.4 L978.2 630.4 L978.8 629.8 L979.5 628.9 L980.1 627.8 L980.6 626.8 L980.8 626.1 L981.4 620.6 L982.0 613.4 L982.7 605.9 L983.3 599.5 L983.9 596.0 L984.0 596.4 L984.6 602.0 L985.2 610.4 L985.9 620.1 L986.5 629.4 L987.2 636.4 L987.5 638.8 L987.8 637.5 L988.4 633.0 L989.1 627.0 L989.7 620.7 L990.1 617.8 L990.4 614.7 L991.0 607.5 L991.6 600.5 L992.3 595.1 L992.6 593.5 L992.9 597.4 L993.6 609.9 L994.2 626.1 L994.8 642.4 L995.5 655.1 L995.8 659.4 L996.1 657.7 L996.8 651.1 L997.4 642.1 L998.0 632.4 L998.7 623.8 L999.3 617.8 L999.5 617.0 L1000.0 620.4 L1000.6 627.5 L1001.2 635.2 L1001.9 640.7 L1002.0 641.3 L1002.5 640.2 L1003.2 638.1 L1003.8 635.5 L1004.4 632.6 L1004.9 630.4 L1005.1 629.2 L1005.7 623.7 L1006.4 617.4 L1007.0 611.6 L1007.6 607.5 L1007.8 606.9 L1008.3 610.3 L1008.9 617.8 L1009.6 626.6 L1010.2 634.2 L1010.7 637.7 L1010.8 637.0 L1011.5 631.4 L1012.1 623.5 L1012.8 615.5 L1013.4 609.7 L1013.6 608.7 L1014.0 614.8 L1014.7 627.7 L1015.0 632.2 L1015.3 630.0 L1016.0 620.6 L1016.6 611.4 L1016.9 609.4 L1017.2 612.9 L1017.9 622.6 L1018.5 632.7 L1019.0 637.7 L1019.2 637.1 L1019.8 632.5 L1020.4 626.0 L1021.1 619.0 L1021.6 614.1 L1021.7 612.7 L1022.4 606.2 L1023.0 599.6 L1023.6 593.7 L1024.3 589.5 L1024.5 588.8 L1024.9 589.1 L1025.6 589.9 L1026.2 590.6 L1026.3 590.6 L1026.8 586.1 L1027.5 578.1 L1028.1 570.9 L1028.4 568.9 L1028.8 572.9 L1029.4 587.2 L1030.0 603.2 L1030.6 612.3 L1030.7 611.9 L1031.3 603.6 L1032.0 590.9 L1032.6 576.9 L1033.2 564.5 L1033.9 556.9 L1033.9 556.9 L1034.5 562.8 L1035.2 569.7 L1035.3 570.7 L1035.8 569.2 L1036.4 566.0 L1037.1 563.5 L1037.1 563.4 L1037.7 570.0 L1038.4 581.4 L1039.0 595.5 L1039.6 610.4 L1040.3 624.5 L1040.9 635.8 L1041.5 642.0 L1041.6 641.4 L1042.2 631.9 L1042.8 617.6 L1043.5 601.9 L1044.1 588.1 L1044.7 579.7 L1044.8 579.8 L1045.4 584.6 L1046.0 592.2 L1046.7 600.4 L1047.3 606.8 L1047.6 608.7 L1048.0 606.8 L1048.6 600.3 L1049.2 591.9 L1049.9 583.4 L1050.5 576.7 L1050.9 574.3 L1051.2 576.2 L1051.8 584.0 L1052.4 594.7 L1053.1 606.3 L1053.7 616.7 L1054.4 623.9 L1054.5 625.0 L1055.0 618.4 L1055.6 603.6 L1056.3 587.4 L1056.9 575.7 L1057.1 574.3 L1057.6 580.6 L1058.2 593.4 L1058.8 609.8 L1059.5 627.8 L1060.1 645.6 L1060.8 661.4 L1061.4 673.2 L1061.8 677.5 L1062.0 674.6 L1062.7 663.9 L1063.3 649.2 L1064.0 632.2 L1064.6 614.7 L1065.2 598.6 L1065.9 585.6 L1066.5 577.9 L1066.5 578.2 L1067.2 584.9 L1067.8 595.4 L1068.4 607.8 L1069.1 620.2 L1069.7 630.9 L1070.4 638.1 L1070.5 638.8 L1071.0 633.3 L1071.6 623.0 L1072.3 610.2 L1072.9 596.8 L1073.6 584.9 L1074.2 576.3 L1074.5 574.3 L1074.8 578.4 L1075.5 589.8 L1076.1 603.7 L1076.8 616.2 L1077.3 623.2 L1077.4 622.9 L1078.0 617.2 L1078.7 608.5 L1079.3 599.4 L1080.0 592.4 L1080.2 590.6 L1080.6 594.9 L1081.2 608.0 L1081.9 619.7 L1082.1 621.4 L1082.5 619.3 L1083.2 614.4 L1083.8 608.8 L1084.4 603.8 L1085.0 601.5 L1085.1 602.3 L1085.7 609.0 L1086.4 618.9 L1087.0 630.1 L1087.6 640.5 L1088.3 648.2 L1088.6 650.4 L1088.9 648.9 L1089.6 644.4 L1090.2 638.8 L1090.8 633.6 L1091.5 630.4 L1091.5 630.5 L1092.1 634.5 L1092.8 640.5 L1093.4 645.7 L1093.6 646.7 L1094.0 645.3 L1094.7 641.6 L1095.3 637.0 L1096.0 632.0 L1096.2 630.4 L1096.6 626.5 L1097.2 619.5 L1097.9 613.3 L1098.4 610.5 L1098.5 611.9 L1099.2 621.5 L1099.8 634.9 L1100.4 648.3 L1101.1 658.0 L1101.3 659.4 L1101.7 653.8 L1102.4 641.2 L1103.0 627.3 L1103.6 617.2 L1103.8 615.9 L1104.3 616.6 L1104.9 617.9 L1105.6 619.1 L1106.0 619.6 L1106.2 618.6 L1106.8 614.1 L1107.5 608.0 L1108.1 601.7 L1108.8 596.5 L1109.2 594.2 L1109.4 595.4 L1110.0 603.0 L1110.7 613.4 L1111.3 623.8 L1112.0 631.2 L1112.1 632.2 L1112.6 626.4 L1113.2 613.6 L1113.9 598.7 L1114.5 585.8 L1115.0 579.7 L1115.2 581.1 L1115.8 591.0 L1116.4 605.4 L1117.1 621.4 L1117.7 636.4 L1118.4 647.5 L1118.6 650.4 L1119.0 647.6 L1119.6 639.3 L1120.3 628.8 L1120.9 618.2 L1121.6 609.7 L1121.9 606.9 L1122.2 606.5 L1122.8 606.0 L1123.5 605.4 L1123.7 605.1 L1124.1 601.1 L1124.8 591.3 L1125.4 580.4 L1126.0 572.1 L1126.2 570.7 L1126.7 575.9 L1127.3 588.7 L1128.0 604.5 L1128.6 619.9 L1129.2 631.3 L1129.5 634.1 L1129.9 629.6 L1130.5 616.6 L1131.2 602.9 L1131.7 596.0 L1131.8 596.2 L1132.4 597.9 L1133.1 600.5 L1133.7 603.2 L1134.4 605.6 L1134.9 606.9 L1135.0 606.7 L1135.6 603.0 L1136.3 597.4 L1136.9 591.1 L1137.6 585.7 L1138.2 582.3 L1138.2 582.3 L1138.8 585.4 L1139.5 590.1 L1140.1 596.0 L1140.8 602.6 L1141.4 609.5 L1141.8 614.1 L1142.0 617.7 L1142.7 630.8 L1143.3 645.5 L1144.0 658.9 L1144.6 668.2 L1144.7 669.2 L1145.2 655.4 L1145.9 628.3 L1146.5 602.8 L1146.9 594.2 L1147.2 600.3 L1147.8 626.1 L1148.4 651.8 L1148.7 657.6 L1149.1 648.2 L1149.7 620.8 L1150.4 589.1 L1151.0 564.2 L1151.2 559.1 L1151.6 562.8 L1152.3 572.1 L1152.9 584.4 L1153.6 597.9 L1154.2 611.1 L1154.8 622.2 L1155.5 629.7 L1155.6 630.4 L1156.1 626.8 L1156.8 619.6 L1157.4 611.1 L1158.0 603.2 L1158.7 597.6 L1158.8 596.7 L1159.3 600.4 L1160.0 608.2 L1160.6 618.2 L1161.2 629.4 L1161.9 640.4 L1162.5 650.2 L1163.2 657.6 L1163.6 660.5 L1163.8 658.9 L1164.4 651.5 L1165.1 642.1 L1165.7 633.6 L1166.1 630.4 L1166.4 629.9 L1167.0 629.0 L1167.6 628.3 L1168.3 627.5 L1168.6 626.8 L1168.9 624.4 L1169.6 616.4 L1170.2 607.7 L1170.8 602.5 L1170.8 602.7 L1171.5 605.9 L1172.1 610.9 L1172.8 616.2 L1173.4 620.3 L1173.7 621.4 L1174.0 619.7 L1174.7 614.3 L1175.3 609.4 L1175.5 608.7 L1176.0 610.1 L1176.6 613.5 L1177.2 617.5 L1177.9 621.5 L1178.5 624.3 L1178.8 625.0 L1179.2 622.0 L1179.8 614.1 L1180.4 603.8 L1181.1 592.9 L1181.7 583.2 L1182.4 576.5 L1182.5 575.4 L1183.0 581.9 L1183.6 596.6 L1184.3 612.9 L1184.9 625.2 L1185.1 626.8 L1185.6 627.5 L1186.2 628.2 L1186.8 628.8 L1187.2 629.3 L1187.5 630.4 L1188.1 634.5 L1188.8 639.4 L1189.4 643.5 L1189.8 644.9 L1190.0 644.1 L1190.7 641.1 L1191.3 636.9 L1192.0 632.2 L1192.0 632.1 L1192.6 621.1 L1193.2 606.8 L1193.9 592.5 L1194.5 581.3 L1194.9 577.9 L1195.2 581.9 L1195.8 595.8 L1196.4 614.0 L1197.1 632.3 L1197.7 646.9 L1198.1 652.2 L1198.4 650.6 L1199.0 644.1 L1199.6 635.2 L1200.3 625.0 L1200.9 614.8 L1201.6 605.9 L1202.2 599.4 L1202.5 597.8 L1202.8 600.4 L1203.5 607.5 L1204.1 616.2 L1204.8 624.1 L1205.4 628.6 L1205.4 628.4 L1206.0 623.5 L1206.7 616.1 L1207.3 609.0 L1207.9 605.1 L1208.0 605.4 L1208.6 610.6 L1209.2 618.5 L1209.9 627.6 L1210.5 636.2 L1211.2 642.8 L1211.5 644.9 L1211.8 642.4 L1212.4 632.7 L1213.1 620.2 L1213.7 608.4 L1214.4 600.7 L1214.4 600.4 L1215.0 603.0 L1215.6 607.6 L1216.3 613.2 L1216.9 619.3 L1217.6 625.2 L1218.2 630.4 L1218.8 634.1 L1219.1 635.1 L1219.5 630.9 L1220.1 618.2 L1220.8 602.0 L1221.4 585.9 L1222.0 573.4 L1222.4 569.6 L1222.7 573.2 L1223.3 586.1 L1224.0 602.6 L1224.6 618.7 L1225.2 630.0 L1225.3 630.4 L1225.9 632.5 L1226.5 634.5 L1227.2 636.1 L1227.8 637.2 L1228.2 637.7 L1228.4 635.7 L1229.1 628.0 L1229.7 617.4 L1230.4 605.6 L1231.0 594.4 L1231.6 585.3 L1232.2 580.8 L1232.3 582.2 L1232.9 594.8 L1233.6 613.3 L1234.2 634.1 L1234.8 653.5 L1235.5 668.0 L1235.8 672.1 L1236.1 669.5 L1236.8 661.2 L1237.4 651.2 L1238.0 643.2 L1238.3 641.3 L1238.7 645.5 L1239.3 657.9 L1240.0 668.8 L1240.1 670.3 L1240.6 667.0 L1241.2 659.9 L1241.9 650.8 L1242.5 641.0 L1243.2 631.5 L1243.8 623.7 L1244.4 618.6 L1244.5 618.5 L1245.1 623.2 L1245.7 631.1 L1246.4 640.7 L1247.0 650.9 L1247.6 660.5 L1248.3 668.1 L1248.8 672.1 L1248.9 671.5 L1249.6 665.0 L1250.2 655.6 L1250.8 645.0 L1251.5 635.3 L1251.7 632.2 L1252.1 628.3 L1252.8 621.8 L1253.4 615.4 L1254.0 609.3 L1254.7 603.9 L1255.3 599.5 L1256.0 596.4 L1256.1 596.0 L1256.6 601.1 L1257.2 611.1 L1257.9 622.4 L1258.5 632.0 L1259.0 635.9 L1259.2 635.5 L1259.8 633.4 L1260.4 630.4 L1261.1 627.1 L1261.1 626.8 L1261.7 620.9 L1262.4 612.6 L1263.0 604.9 L1263.6 599.8 L1263.7 599.6 L1264.3 601.8 L1264.9 605.0 L1265.5 606.9 L1265.6 606.7 L1266.2 603.3 L1266.8 599.9 L1266.9 599.6 L1267.5 604.6 L1268.1 614.0 L1268.8 625.4 L1269.4 636.6 L1270.0 645.8 L1270.6 650.4 L1270.7 649.3 L1271.3 639.6 L1272.0 626.7 L1272.6 616.9 L1272.7 615.9 L1273.2 618.2 L1273.9 622.8 L1274.5 627.1 L1274.9 628.6 L1275.2 627.3 L1275.8 621.7 L1276.4 614.7 L1277.1 608.7 L1277.1 608.7 L1277.7 604.8 L1278.4 601.1 L1279.0 598.5 L1279.2 597.8 L1279.6 602.8 L1280.3 616.5 L1280.9 632.2 L1281.6 644.4 L1281.8 646.7 L1282.2 641.7 L1282.8 629.1 L1283.5 618.7 L1283.6 617.8 L1284.1 629.6 L1284.8 652.5 L1285.4 674.0 L1285.8 681.1 L1286.0 678.5 L1286.7 668.3 L1287.3 654.5 L1288.0 639.7 L1288.6 626.4 L1289.2 617.2 L1289.4 615.9 L1289.9 626.4 L1290.5 648.4 L1291.2 669.7 L1291.6 677.5 L1291.8 673.6 L1292.4 654.9 L1293.1 630.9 L1293.7 610.3 L1294.1 603.3 L1294.4 604.2 L1295.0 608.0 L1295.5 610.5 L1295.6 610.3 L1296.3 607.1 L1296.9 603.1 L1297.4 601.5 L1297.6 603.2 L1298.2 613.1 L1298.8 625.5 L1299.5 635.4 L1299.5 635.9 L1300.1 638.4 L1300.8 640.8 L1301.4 642.9 L1302.0 644.7 L1302.7 646.0 L1303.2 646.7 L1303.3 646.1 L1304.0 642.0 L1304.6 636.2 L1305.2 629.3 L1305.9 622.1 L1306.5 615.3 L1307.2 609.7 L1307.8 606.0 L1307.9 605.8 L1308.4 610.2 L1309.1 618.0 L1309.7 627.6 L1310.4 637.8 L1311.0 647.4 L1311.6 655.1 L1312.2 659.4 L1312.3 658.9 L1312.9 651.7 L1313.6 640.7 L1314.2 628.1 L1314.8 616.1 L1315.5 607.0 L1315.8 604.0 L1316.1 605.4 L1316.8 610.4 L1317.4 617.1 L1318.0 624.6 L1318.7 632.0 L1319.3 638.4 L1319.5 639.5 L1320.0 642.7 L1320.6 646.8 L1321.2 650.9 L1321.9 654.6 L1322.5 657.9 L1323.2 660.5 L1323.8 662.3 L1323.8 662.3 L1324.4 645.7 L1325.1 620.4 L1325.7 598.9 L1326.0 594.2 L1326.4 595.6 L1327.0 599.5 L1327.6 602.9 L1327.8 603.3 L1328.3 600.2 L1328.9 594.7 L1329.2 593.1 L1329.6 595.9 L1330.2 605.2 L1330.8 615.6 L1331.4 621.4 L1331.5 621.1 L1332.1 616.7 L1332.8 610.1 L1333.4 602.3 L1334.0 594.2 L1334.7 586.8 L1335.3 581.0 L1335.8 578.6 L1336.0 580.2 L1336.6 587.8 L1337.2 598.2 L1337.9 610.4 L1338.5 623.0 L1339.0 632.2 L1339.2 635.4 L1339.8 651.1 L1340.4 667.1 L1341.1 678.3 L1341.2 679.3 L1341.7 674.0 L1342.4 663.6 L1343.0 651.3 L1343.6 639.8 L1344.3 631.6 L1344.5 630.4 L1344.9 631.8 L1345.6 635.0 L1346.2 638.5 L1346.8 641.0 L1347.0 641.3 L1347.5 638.8 L1348.1 633.4 L1348.8 627.3 L1349.4 622.0 L1349.9 619.6 L1350.0 619.8 L1350.7 621.6 L1351.3 624.2 L1352.0 626.9 L1352.4 628.6 L1352.6 629.3 L1353.2 631.7 L1353.9 634.3 L1354.5 636.6 L1355.2 638.5 L1355.7 639.5 L1355.8 639.0 L1356.4 635.0 L1357.1 629.3 L1357.7 623.4 L1358.2 619.6 L1358.4 618.8 L1359.0 615.4 L1359.6 612.1 L1360.3 609.3 L1360.9 607.3 L1361.1 606.9 L1361.6 610.2 L1362.2 617.8 L1362.8 626.6 L1363.3 632.2 L1363.5 634.6 L1364.1 643.1 L1364.8 651.6 L1365.4 658.5 L1365.8 661.2 L1366.0 659.3 L1366.7 649.8 L1367.3 636.8 L1368.0 623.2 L1368.6 612.0 L1369.1 606.9 L1369.2 607.9 L1369.9 614.8 L1370.5 624.5 L1371.2 634.3 L1371.8 641.3 L1372.0 642.4 L1372.4 639.0 L1373.1 631.6 L1373.7 622.5 L1374.4 613.3 L1374.9 606.9 L1375.0 605.7 L1375.6 599.1 L1376.3 592.8 L1376.9 587.6 L1377.4 585.2 L1377.6 586.3 L1378.2 594.3 L1378.8 605.8 L1379.5 618.1 L1380.1 628.6 L1380.7 634.1 L1380.8 633.2 L1381.4 621.9 L1382.0 606.2 L1382.7 594.0 L1382.8 592.4 L1383.3 597.6 L1384.0 609.3 L1384.6 622.9 L1385.2 634.7 L1385.7 640.2 L1385.9 639.6 L1386.5 634.4 L1387.2 627.2 L1387.8 620.7 L1388.3 617.8 L1388.4 617.9 L1389.1 618.9 L1389.7 620.2 L1390.4 621.9 L1390.8 623.2 L1391.0 624.4 L1391.6 630.2 L1392.3 636.6 L1392.9 641.1 L1393.0 641.3 L1393.6 637.9 L1394.2 631.9 L1394.8 625.2 L1395.5 619.8 L1395.5 619.6 L1396.1 617.2 L1396.8 614.8 L1397.4 612.7 L1398.0 611.1 L1398.4 610.5 L1398.7 611.6 L1399.3 616.0 L1400.0 622.0 L1400.6 628.1 L1401.2 633.1 L1401.7 635.1 L1401.9 634.9 L1402.5 634.0 L1403.2 632.6 L1403.8 630.9 L1404.4 629.0 L1404.6 628.6 L1405.1 624.6 L1405.7 617.5 L1406.4 609.5 L1407.0 602.2 L1407.6 597.0 L1407.8 596.0 L1408.3 598.8 L1408.9 605.4 L1409.6 613.6 L1410.2 621.4 L1410.8 627.3 L1411.1 628.6 L1411.5 627.6 L1412.1 624.5 L1412.8 621.0 L1413.4 618.3 L1413.6 617.8 L1414.0 617.9 L1414.7 618.5 L1415.3 619.0 L1416.0 619.5 L1416.2 619.6 L1416.6 618.9 L1417.2 617.1 L1417.9 615.1 L1418.5 613.3 L1419.1 612.3 L1419.2 612.7 L1419.8 617.3 L1420.4 624.2 L1421.1 631.2 L1421.7 636.5 L1422.0 637.7 L1422.4 634.8 L1423.0 626.9 L1423.6 617.8 L1424.3 610.7 L1424.5 609.4 L1424.9 611.3 L1425.6 615.8 L1426.2 621.7 L1426.8 628.5 L1427.5 635.6 L1428.1 642.4 L1428.8 648.5 L1429.4 653.2 L1429.9 655.8 L1430.0 655.3 L1430.7 649.6 L1431.3 641.5 L1432.0 634.0 L1432.5 630.4 L1432.6 630.9 L1433.2 634.1 L1433.9 639.0 L1434.5 644.6 L1435.2 650.1 L1435.8 654.7 L1436.4 657.6 L1436.5 657.6 L1437.1 651.4 L1437.7 641.3 L1438.4 630.4 L1439.0 621.6 L1439.4 618.8 L1439.6 620.9 L1440.3 628.5 L1440.9 638.3 L1441.6 647.7 L1442.2 653.7 L1442.3 654.0 L1442.8 644.7 L1443.5 628.4 L1444.1 609.7 L1444.8 592.5 L1445.4 580.8 L1445.5 579.7 L1446.0 589.0 L1446.7 607.1 L1447.3 628.5 L1448.0 648.6 L1448.6 662.7 L1448.8 664.8 L1449.2 652.8 L1449.9 626.3 L1450.5 593.1 L1451.2 558.7 L1451.8 528.8 L1452.4 509.0 L1452.5 507.3 L1453.1 524.2 L1453.7 554.1 L1454.3 574.3 L1454.4 573.2 L1455.0 502.4 L1455.6 390.8 L1456.3 270.3 L1456.9 172.7 L1457.3 139.0 L1457.6 152.8 L1458.2 205.2 L1458.8 277.4 L1459.5 360.9 L1460.1 447.0 L1460.8 527.1 L1461.4 592.5 L1462.0 630.4 L1462.0 631.4 L1462.7 637.9 L1463.3 643.5 L1464.0 648.1 L1464.6 651.3 L1464.9 652.2 L1465.2 649.6 L1465.9 642.9 L1466.5 634.4 L1467.2 625.4 L1467.7 617.8 L1467.8 617.1 L1468.4 608.6 L1469.1 599.5 L1469.7 591.2 L1470.4 585.1 L1470.6 583.3 L1471.0 585.5 L1471.6 592.2 L1472.3 598.1 L1472.5 598.9 L1472.9 598.3 L1473.6 597.1 L1473.9 596.7 L1474.2 599.8 L1474.8 611.3 L1475.5 624.4 L1476.1 632.2 L1476.1 632.1 L1476.8 626.6 L1477.4 619.4 L1477.9 615.9 L1478.0 616.7 L1478.7 622.8 L1479.3 629.8 L1479.7 632.2 L1480.0 632.1 L1480.6 631.3 L1481.2 630.6 L1481.5 630.4 L1481.9 632.3 L1482.5 637.5 L1483.2 644.2 L1483.8 650.9 L1484.4 656.0 L1484.8 657.6 L1485.1 655.6 L1485.7 648.6 L1486.4 639.5 L1487.0 630.3 L1487.6 623.0 L1488.0 620.3 L1488.3 621.5 L1488.9 626.8 L1489.6 633.6 L1490.2 639.4 L1490.6 641.3 L1490.8 638.7 L1491.5 628.7 L1492.1 615.1 L1492.8 600.5 L1493.4 587.4 L1494.0 578.4 L1494.2 577.2 L1494.7 582.2 L1495.3 592.6 L1496.0 605.9 L1496.6 620.6 L1497.2 635.1 L1497.9 647.9 L1498.5 657.6 L1498.9 661.2 L1499.2 659.1 L1499.8 650.7 L1500.4 639.2 L1501.1 625.9 L1501.7 612.3 L1502.4 599.7 L1503.0 589.5 L1503.6 583.3 L1503.6 583.5 L1504.3 589.0 L1504.9 597.6 L1505.6 607.2 L1506.2 615.8 L1506.8 621.3 L1506.9 621.4 L1507.5 613.9 L1508.1 601.8 L1508.8 590.4 L1509.0 587.0 L1509.4 585.2 L1510.0 582.4 L1510.7 580.0 L1511.3 578.3 L1511.6 577.9 L1512.0 581.3 L1512.6 590.3 L1513.2 602.2 L1513.9 615.0 L1514.5 626.9 L1515.2 636.0 L1515.6 639.5 L1515.8 636.2 L1516.4 620.2 L1517.1 603.8 L1517.4 599.6 L1517.7 602.0 L1518.4 608.9 L1519.0 618.1 L1519.6 628.4 L1520.3 638.5 L1520.9 647.1 L1521.6 653.1 L1521.7 654.0 L1522.2 651.2 L1522.8 645.4 L1523.5 637.9 L1524.1 629.9 L1524.8 622.2 L1525.4 615.8 L1526.0 611.7 L1526.1 611.6 L1526.7 612.6 L1527.3 614.2 L1528.0 615.9 L1528.6 617.3 L1529.0 617.8 L1529.2 616.3 L1529.9 610.5 L1530.4 606.9 L1530.5 607.1 L1531.2 609.1 L1531.8 612.0 L1532.4 615.1 L1533.1 617.3 L1533.3 617.8 L1533.7 615.6 L1534.4 610.0 L1535.0 602.8 L1535.6 595.5 L1536.3 589.2 L1536.9 585.2 L1536.9 585.2 L1537.6 591.2 L1538.2 600.6 L1538.8 608.7 L1539.1 610.5 L1539.5 607.5 L1540.1 598.6 L1540.8 589.1 L1541.3 584.4 L1541.4 585.0 L1542.0 590.8 L1542.7 598.6 L1543.3 604.5 L1543.5 605.1 L1544.0 595.3 L1544.6 575.5 L1545.2 556.6 L1545.6 550.0 L1545.9 553.1 L1546.5 566.3 L1547.2 583.6 L1547.8 600.3 L1548.4 611.5 L1548.5 612.3 L1549.1 610.2 L1549.7 606.2 L1550.4 601.4 L1551.0 596.4 L1551.6 591.9 L1552.3 588.7 L1552.5 588.1 L1552.9 591.6 L1553.6 600.1 L1554.2 611.3 L1554.8 624.2 L1555.5 637.7 L1556.1 650.8 L1556.8 662.4 L1557.4 671.5 L1557.9 676.4 L1558.0 675.8 L1558.7 670.1 L1559.3 661.8 L1560.0 651.8 L1560.6 641.1 L1561.2 630.5 L1561.9 621.0 L1562.3 615.9 L1562.5 613.9 L1563.2 608.2 L1563.8 602.6 L1564.4 597.3 L1565.1 592.7 L1565.7 589.1 L1566.3 587.0 L1566.4 587.1 L1567.0 589.7 L1567.6 592.9 L1568.1 594.2 L1568.3 592.7 L1568.9 583.9 L1569.6 574.3 L1569.9 571.4 L1570.2 572.9 L1570.8 578.3 L1571.5 585.4 L1572.1 592.6 L1572.8 598.3 L1573.2 600.4 L1573.4 600.3 L1574.0 599.8 L1574.7 599.2 L1575.3 598.4 L1575.7 597.8 L1576.0 596.1 L1576.6 589.8 L1577.2 581.8 L1577.9 573.7 L1578.5 567.1 L1579.0 564.5 L1579.2 565.7 L1579.8 572.1 L1580.4 580.5 L1581.1 587.9 L1581.5 590.6 L1581.7 590.0 L1582.4 587.1 L1583.0 584.1 L1583.3 583.3 L1583.6 584.5 L1584.3 588.1 L1584.9 592.5 L1585.6 595.9 L1585.8 596.7 L1586.2 593.8 L1586.8 585.3 L1587.5 574.2 L1588.1 562.2 L1588.8 550.9 L1589.4 542.3 L1589.8 538.8 L1590.0 540.8 L1590.7 550.1 L1591.3 563.1 L1592.0 578.0 L1592.6 593.0 L1593.2 606.2 L1593.9 615.8 L1594.2 618.5 L1594.5 616.9 L1595.2 611.9 L1595.8 607.5 L1596.0 606.9 L1596.4 609.8 L1597.1 616.2 L1597.7 621.1 L1597.8 621.4 L1598.4 619.4 L1599.0 616.2 L1599.6 614.1 L1599.6 614.3 L1600.3 618.3 L1600.9 624.4 L1601.6 631.3 L1602.2 637.4 L1602.8 641.3 L1602.9 641.3 L1603.5 641.0 L1604.1 640.5 L1604.8 639.8 L1605.0 639.5 L1605.4 635.7 L1606.0 625.3 L1606.7 612.4 L1607.3 599.7 L1608.0 589.9 L1608.3 587.0 L1608.6 588.7 L1609.2 594.9 L1609.9 602.7 L1610.5 610.4 L1611.2 615.8 L1611.2 615.9 L1611.8 617.1 L1612.4 618.2 L1613.1 619.0 L1613.7 619.6 L1613.7 619.6 L1614.4 616.7 L1615.0 612.2 L1615.6 606.8 L1616.3 601.1 L1616.9 595.6 L1617.3 592.4 L1617.6 591.0 L1618.2 586.5 L1618.8 581.9 L1619.5 577.6 L1620.1 573.9 L1620.8 571.2 L1621.0 570.7 L1621.4 573.1 L1622.0 579.1 L1622.7 586.3 L1623.3 592.7 L1623.9 596.0 L1624.0 595.7 L1624.6 592.2 L1625.2 587.0 L1625.9 580.9 L1626.5 574.9 L1627.2 569.8 L1627.8 566.5 L1627.9 566.3 L1628.4 567.3 L1629.1 568.9 L1629.7 570.3 L1630.0 570.7 L1630.4 570.4 L1631.0 569.7 L1631.6 569.0 L1631.8 568.9 L1632.3 572.6 L1632.9 581.5 L1633.6 592.7 L1634.2 604.1 L1634.8 613.8 L1635.5 619.6 L1635.5 619.5 L1636.1 616.3 L1636.8 611.4 L1637.4 605.5 L1638.0 599.6 L1638.7 594.5 L1639.3 591.0 L1639.4 590.6 L1640.0 591.0 L1640.6 591.8 L1641.2 592.4 L1641.3 592.4 L1641.9 588.5 L1642.5 582.5 L1643.2 577.3 L1643.4 576.1 L1643.8 578.5 L1644.4 584.9 L1645.1 593.6 L1645.6 601.5 L1645.7 605.1 L1646.4 632.4 L1647.0 661.0 L1647.4 672.1 L1647.6 666.3 L1648.3 636.8 L1648.9 606.0 L1649.2 597.8 L1649.6 598.5 L1650.2 600.7 L1650.8 602.9 L1651.0 603.3 L1651.5 603.6 L1652.1 604.0 L1652.8 604.4 L1653.4 604.7 L1654.0 604.9 L1654.7 605.1 L1654.7 605.0 L1655.3 600.4 L1656.0 593.2 L1656.6 585.6 L1657.2 579.6 L1657.6 577.9 L1657.9 579.2 L1658.5 583.6 L1659.2 588.9 L1659.8 593.1 L1660.1 594.2 L1660.4 593.4 L1661.1 591.1 L1661.7 587.9 L1661.9 587.0 L1662.4 578.6 L1663.0 561.8 L1663.6 544.2 L1664.3 531.4 L1664.4 529.7 L1664.9 534.0 L1665.6 543.2 L1666.2 554.2 L1666.8 564.6 L1667.3 570.7 L1667.5 571.6 L1668.1 575.5 L1668.8 578.6 L1669.1 579.7 L1669.4 579.3 L1670.0 577.4 L1670.6 576.1 L1670.7 576.6 L1671.3 582.2 L1672.0 590.6 L1672.6 600.6 L1673.2 610.9 L1673.9 620.3 L1674.5 627.5 L1674.9 630.4 L1675.2 629.3 L1675.8 624.2 L1676.4 617.1 L1677.1 609.5 L1677.5 605.1 L1677.7 602.1 L1678.4 593.5 L1679.0 584.4 L1679.6 576.5 L1680.3 571.1 L1680.4 570.7 L1680.9 574.8 L1681.6 582.5 L1682.2 591.6 L1682.8 600.2 L1683.5 606.1 L1683.6 606.9 L1684.1 603.7 L1684.8 596.9 L1685.4 588.4 L1686.0 579.9 L1686.7 572.8 L1687.3 568.9 L1687.3 569.4 L1688.0 579.5 L1688.6 593.7 L1689.2 605.1 L1689.4 606.9 L1689.9 600.2 L1690.5 584.4 L1691.2 565.1 L1691.8 546.5 L1692.4 532.8 L1692.7 529.7 L1693.1 533.3 L1693.7 542.2 L1694.4 553.9 L1695.0 567.5 L1695.6 581.8 L1696.3 595.6 L1696.9 607.9 L1697.6 617.7 L1698.1 623.2 L1698.2 622.5 L1698.8 613.5 L1699.5 599.8 L1700.1 584.1 L1700.8 569.3 L1701.4 558.0 L1701.7 554.4 L1702.0 556.2 L1702.7 562.7 L1703.3 571.4 L1704.0 581.3 L1704.6 591.1 L1705.2 599.7 L1705.9 605.7 L1706.1 606.9 L1706.5 603.8 L1707.2 596.0 L1707.8 587.3 L1708.4 580.8 L1708.6 579.7 L1709.1 583.0 L1709.7 590.7 L1710.4 598.3 L1710.8 601.5 L1711.0 600.1 L1711.6 592.8 L1712.3 582.8 L1712.9 572.9 L1713.6 566.0 L1713.7 565.2 L1714.2 570.5 L1714.8 581.5 L1715.5 594.7 L1716.1 607.2 L1716.8 616.2 L1717.0 617.8 L1717.4 615.0 L1718.0 608.7 L1718.7 600.7 L1719.3 592.6 L1720.0 585.5 L1720.0 585.2 L1720.6 580.1 L1721.2 575.2 L1721.8 572.5 L1721.9 572.6 L1722.5 574.2 L1723.2 576.3 L1723.6 577.2 L1723.8 576.8 L1724.4 574.4 L1725.1 571.1 L1725.7 568.2 L1726.2 567.0 L1726.4 567.8 L1727.0 572.3 L1727.6 578.1 L1728.3 583.2 L1728.7 585.2 L1728.9 583.8 L1729.6 577.3 L1730.2 568.7 L1730.8 560.1 L1730.9 559.8 L1731.5 550.7 L1732.1 540.7 L1732.8 532.8 L1733.0 530.8 L1733.4 536.1 L1734.0 552.1 L1734.7 569.1 L1735.2 577.9 L1735.3 577.6 L1736.0 573.5 L1736.6 568.1 L1737.2 563.9 L1737.4 563.4 L1737.9 566.7 L1738.5 573.6 L1739.2 581.1 L1739.8 586.4 L1739.9 587.0 L1740.4 584.9 L1741.1 580.8 L1741.7 576.0 L1742.4 571.3 L1742.5 570.7 L1743.0 566.8 L1743.6 561.8 L1744.3 557.1 L1744.9 553.4 L1745.4 551.8 L1745.6 552.1 L1746.2 553.4 L1746.8 554.4 L1746.8 554.2 L1747.5 547.2 L1748.1 537.9 L1748.6 533.4 L1748.8 534.1 L1749.4 539.1 L1750.0 546.4 L1750.7 554.4 L1751.3 562.0 L1751.9 567.0 L1752.0 567.5 L1752.6 570.0 L1753.2 572.2 L1753.9 574.3 L1754.5 576.8 L1754.8 577.9 L1755.2 581.6 L1755.8 589.4 L1756.4 597.6 L1757.1 603.8 L1757.3 605.1 L1757.7 600.5 L1758.4 588.8 L1759.0 574.2 L1759.6 559.9 L1760.3 549.2 L1760.6 546.4 L1760.9 548.8 L1761.6 555.8 L1762.2 565.1 L1762.8 575.7 L1763.5 586.4 L1764.1 596.1 L1764.8 603.7 L1765.3 607.6 L1765.4 606.9 L1766.0 601.0 L1766.7 592.5 L1767.3 582.2 L1768.0 571.1 L1768.6 560.3 L1769.2 550.7 L1769.9 543.3 L1770.3 539.9 L1770.5 541.9 L1771.2 555.3 L1771.8 573.3 L1772.4 589.4 L1772.9 596.0 L1773.1 594.1 L1773.7 584.3 L1774.4 570.3 L1775.0 554.4 L1775.6 539.1 L1776.3 526.4 L1776.9 519.2 L1776.9 519.9 L1777.6 534.3 L1778.2 556.2 L1778.8 579.2 L1779.5 596.9 L1779.8 601.5 L1780.1 600.3 L1780.8 596.9 L1781.4 592.8 L1782.0 589.5 L1782.3 588.8 L1782.7 591.8 L1783.3 600.5 L1784.0 609.6 L1784.5 614.1 L1784.6 613.0 L1785.2 602.9 L1785.9 588.3 L1786.5 573.5 L1787.2 562.6 L1787.4 560.5 L1787.8 565.8 L1788.4 578.6 L1789.1 595.0 L1789.7 612.5 L1790.4 628.6 L1791.0 640.8 L1791.4 644.9 L1791.6 642.2 L1792.3 632.5 L1792.9 619.3 L1793.6 604.3 L1794.2 589.4 L1794.8 576.4 L1795.5 567.2 L1795.7 565.2 L1796.1 568.6 L1796.8 577.1 L1797.4 588.0 L1798.0 599.6 L1798.7 610.4 L1799.3 618.5 L1799.7 621.4 L1800.0 618.6 L1800.6 607.0 L1801.2 593.6 L1801.9 585.2 L1801.9 585.3 L1802.5 594.5 L1803.2 608.6 L1803.8 622.4 L1804.4 630.4 L1804.4 630.0 L1805.1 619.9 L1805.7 604.3 L1806.4 586.9 L1807.0 571.5 L1807.6 561.7 L1807.7 561.6 L1808.3 567.4 L1808.9 576.7 L1809.6 588.2 L1810.2 600.8 L1810.8 613.3 L1811.5 624.8 L1812.1 633.9 L1812.7 639.5 L1812.8 639.3 L1813.4 632.0 L1814.0 620.7 L1814.7 607.5 L1815.3 594.9 L1816.0 585.1 L1816.4 581.5 L1816.6 583.1 L1817.2 590.4 L1817.9 597.8 L1818.2 599.6 L1818.5 596.9 L1819.2 588.6 L1819.8 579.6 L1820.3 575.0 L1820.4 575.1 L1821.1 575.9 L1821.7 577.0 L1822.4 577.8 L1822.5 577.9 L1823.0 576.7 L1823.6 574.3 L1824.3 571.3 L1824.9 567.7 L1825.0 567.0 L1825.6 560.0 L1826.2 548.3 L1826.8 536.6 L1827.5 528.6 L1827.6 527.9 L1828.1 535.9 L1828.8 550.1 L1829.4 559.8 L1829.4 559.7 L1830.0 551.0 L1830.7 537.5 L1831.3 524.2 L1831.9 516.3 L1832.0 516.5 L1832.6 521.3 L1833.2 528.5 L1833.9 537.1 L1834.5 546.0 L1835.2 554.1 L1835.2 554.4 L1835.8 561.7 L1836.4 569.8 L1837.1 578.1 L1837.7 586.0 L1838.4 592.9 L1839.0 598.4 L1839.5 601.5 L1839.6 601.0 L1840.3 596.8 L1840.9 590.7 L1841.6 583.6 L1842.1 577.9 L1842.2 575.9 L1842.8 564.0 L1843.5 552.5 L1843.9 548.2 L1844.1 554.1 L1844.8 582.2 L1845.4 615.5 L1846.0 637.5 L1846.1 637.7 L1846.7 627.2 L1847.3 610.1 L1848.0 589.7 L1848.6 568.8 L1849.2 550.6 L1849.9 538.1 L1850.0 536.3 L1850.5 540.4 L1851.2 549.4 L1851.8 559.2 L1852.4 566.3 L1852.6 567.0 L1853.1 564.4 L1853.7 558.8 L1854.4 552.4 L1855.0 547.0 L1855.5 544.6 L1855.6 545.5 L1856.3 551.3 L1856.9 559.5 L1857.6 569.1 L1858.2 578.8 L1858.8 587.5 L1859.5 593.9 L1859.8 596.0 L1860.1 594.6 L1860.8 589.9 L1861.4 583.6 L1862.0 576.8 L1862.7 570.5 L1863.3 565.8 L1863.4 565.2 L1864.0 564.3 L1864.6 563.4 L1865.2 562.5 L1865.9 561.9 L1866.3 561.6 L1866.5 561.9 L1867.2 564.1 L1867.8 566.8 L1868.4 568.8 L1868.5 568.9 L1869.1 568.5 L1869.7 567.8 L1870.4 567.2 L1870.7 567.0 L1871.0 568.1 L1871.6 571.9 L1872.3 576.8 L1872.9 581.7 L1873.6 585.6 L1873.9 587.0 L1874.2 586.8 L1874.8 586.3 L1875.5 585.6 L1876.1 585.2 L1876.1 585.2 L1876.8 589.2 L1877.4 595.2 L1878.0 600.4 L1878.3 601.5 L1878.7 600.0 L1879.3 595.9 L1880.0 590.9 L1880.6 586.2 L1881.2 583.3 L1881.2 583.3 L1881.9 582.8 L1882.5 582.4 L1883.2 582.0 L1883.7 581.5 L1883.8 580.9 L1884.4 573.2 L1885.1 561.9 L1885.7 548.8 L1886.4 535.8 L1887.0 524.8 L1887.6 517.5 L1887.7 517.1 L1888.3 520.2 L1888.9 525.7 L1889.6 532.5 L1890.2 539.4 L1890.2 539.9 L1890.8 549.5 L1891.5 561.9 L1892.1 575.5 L1892.8 589.7 L1893.4 603.6 L1894.0 616.4 L1894.7 627.3 L1895.3 635.6 L1895.7 638.8 L1896.0 633.5 L1896.6 612.9 L1897.2 587.4 L1897.9 566.1 L1898.2 559.8 L1898.5 562.8 L1899.2 573.3 L1899.8 587.2 L1900.4 602.1 L1901.1 615.2 L1901.7 624.1 L1901.8 625.0 L1902.4 615.6 L1903.0 596.9 L1903.6 575.6 L1904.3 557.6 L1904.7 550.0 L1904.9 551.1 L1905.6 557.9 L1906.2 566.8 L1906.8 574.8 L1907.3 577.9 L1907.5 576.6 L1908.1 569.5 L1908.8 562.0 L1909.1 559.8 L1909.4 561.6 L1910.0 567.5 L1910.7 575.4 L1911.3 584.0 L1912.0 592.2 L1912.6 598.6 L1913.1 601.5 L1913.2 600.2 L1913.9 593.5 L1914.5 584.0 L1915.2 573.0 L1915.8 561.5 L1916.4 550.8 L1916.7 547.1 L1917.1 541.5 L1917.7 531.7 L1918.4 521.8 L1919.0 512.7 L1919.6 505.2 L1920.3 500.2 L1920.3 500.0 L1920.9 516.2 L1921.6 543.4 L1922.2 574.5 L1922.8 602.9 L1923.5 621.7 L1923.6 623.2 L1924.1 621.6 L1924.8 618.6 L1925.4 614.9 L1926.0 611.3 L1926.7 608.3 L1927.2 606.9 L1927.3 607.9 L1928.0 617.7 L1928.6 630.6 L1929.2 640.3 L1929.4 641.3 L1929.9 636.6 L1930.5 627.0 L1931.2 615.6 L1931.8 604.9 L1932.4 597.3 L1932.6 596.0 L1933.1 600.6 L1933.7 610.9 L1934.4 624.0 L1935.0 637.9 L1935.6 650.6 L1936.3 660.1 L1936.6 663.0 L1936.9 658.2 L1937.6 641.9 L1938.2 620.2 L1938.8 597.1 L1939.5 576.7 L1940.1 563.0 L1940.2 561.6 L1940.8 568.9 L1941.4 583.4 L1942.0 599.9 L1942.7 613.8 L1943.1 619.6 L1943.3 618.5 L1944.0 612.3 L1944.6 603.8 L1945.2 595.4 L1945.9 589.5 L1946.0 588.8 L1946.5 590.8 L1947.2 595.1 L1947.8 600.5 L1948.4 606.1 L1949.1 611.2 L1949.7 614.9 L1950.0 615.9 L1950.4 614.7 L1951.0 611.1 L1951.6 606.4 L1951.8 605.1 L1952.3 599.1 L1952.9 588.6 L1953.6 577.5 L1954.2 568.1 L1954.7 563.4 L1954.8 563.6 L1955.5 565.7 L1956.1 568.4 L1956.8 570.4 L1956.9 570.7 L1957.4 566.9 L1958.0 559.0 L1958.7 549.9 L1959.3 542.2 L1959.8 538.8 L1960.0 542.3 L1960.6 564.5 L1961.2 596.2 L1961.9 631.4 L1962.5 663.9 L1963.2 687.6 L1963.4 693.1 L1963.8 680.7 L1964.4 646.6 L1965.1 617.4 L1965.2 614.1 L1965.7 617.0 L1966.4 623.1 L1967.0 630.3 L1967.6 637.2 L1968.3 642.2 L1968.5 643.1 L1968.9 640.2 L1969.6 632.9 L1970.2 624.8 L1970.8 618.7 L1971.0 617.8 L1971.5 621.2 L1972.1 629.0 L1972.8 637.7 L1973.4 644.1 L1973.6 644.9 L1974.0 638.9 L1974.7 626.1 L1975.3 609.9 L1976.0 592.3 L1976.6 575.5 L1977.2 561.6 L1977.9 552.7 L1977.9 552.6 L1978.5 557.8 L1979.2 566.4 L1979.8 577.1 L1980.4 588.5 L1981.1 599.6 L1981.7 609.2 L1982.4 616.1 L1982.6 617.8 L1983.0 616.5 L1983.6 613.1 L1984.3 608.8 L1984.9 604.3 L1985.6 600.4 L1986.2 597.9 L1986.2 597.8 L1986.8 598.2 L1987.5 598.7 L1988.1 599.3 L1988.8 599.6 L1988.8 599.6 L1989.4 597.4 L1990.0 593.9 L1990.7 589.6 L1991.3 584.8 L1992.0 579.8 L1992.6 575.1 L1993.2 571.0 L1993.9 567.8 L1994.3 566.3 L1994.5 567.0 L1995.2 571.3 L1995.8 577.6 L1996.2 581.5 L1996.4 591.9 L1997.1 626.0 L1997.7 667.7 L1998.4 707.5 L1999.0 736.3 L1999.2 741.5 L1999.6 730.8 L2000.3 705.6 L2000.9 673.7 L2001.6 640.1 L2002.2 610.2 L2002.8 589.0 L2003.0 585.2 L2003.5 588.3 L2004.1 595.5 L2004.8 604.8 L2005.4 615.0 L2006.0 624.8 L2006.7 633.1 L2007.3 638.4 L2007.4 638.8 L2008.0 622.5 L2008.5 608.7 L2008.6 609.3 L2009.2 614.1 L2009.9 621.1 L2010.5 628.7 L2011.2 635.2 L2011.7 638.8 L2011.8 637.9 L2012.4 622.7 L2013.1 600.4 L2013.7 579.2 L2014.3 568.1 L2014.4 568.5 L2015.0 573.1 L2015.6 577.7 L2015.7 577.9 L2016.3 572.0 L2016.9 561.4 L2017.6 551.7 L2017.9 548.9 L2018.2 552.1 L2018.8 561.8 L2019.5 575.0 L2020.1 590.5 L2020.8 607.1 L2021.4 623.9 L2022.0 639.5 L2022.7 652.9 L2023.3 662.9 L2023.7 666.7 L2024.0 664.3 L2024.6 655.6 L2025.2 643.8 L2025.9 629.9 L2026.5 615.4 L2027.2 601.5 L2027.8 589.5 L2028.4 580.7 L2028.8 577.9 L2029.1 578.1 L2029.7 578.9 L2030.4 579.6 L2030.6 579.7 L2031.0 573.4 L2031.6 557.9 L2032.3 539.4 L2032.9 523.0 L2033.5 514.5 L2033.6 515.7 L2034.2 527.3 L2034.8 544.5 L2035.5 564.6 L2036.1 585.0 L2036.8 603.1 L2037.1 610.5 L2037.4 615.3 L2038.0 625.1 L2038.7 634.2 L2039.3 641.7 L2040.0 646.6 L2040.0 646.7 L2040.6 642.6 L2041.2 636.0 L2041.9 627.7 L2042.5 618.8 L2043.2 610.2 L2043.8 602.7 L2044.4 597.4 L2044.7 596.0 L2045.1 599.5 L2045.7 609.1 L2046.4 621.2 L2047.0 633.2 L2047.6 642.3 L2048.0 644.9 L2048.3 640.9 L2048.9 628.0 L2049.6 610.9 L2050.2 592.7 L2050.8 576.8 L2051.5 566.2 L2051.6 565.2 L2052.1 569.0 L2052.8 575.9 L2053.4 584.6 L2054.0 593.9 L2054.7 602.7 L2055.3 609.9 L2055.9 614.1 L2056.0 613.9 L2056.6 604.9 L2057.2 592.9 L2057.7 587.0 L2057.9 588.4 L2058.5 599.8 L2059.2 615.4 L2059.8 629.6 L2060.3 635.9 L2060.4 633.6 L2061.1 617.5 L2061.7 597.1 L2062.4 582.5 L2062.4 581.5 L2063.0 598.2 L2063.6 629.0 L2064.3 666.5 L2064.9 704.9 L2065.6 738.1 L2066.2 760.2 L2066.3 762.2 L2066.8 733.4 L2067.5 678.8 L2068.1 625.6 L2068.6 601.5 L2068.8 602.3 L2069.4 608.3 L2070.0 616.8 L2070.7 625.2 L2071.3 631.3 L2071.5 632.2 L2072.0 630.9 L2072.6 628.1 L2073.2 624.6 L2073.9 620.7 L2074.4 617.8 L2074.5 616.9 L2075.2 611.9 L2075.8 606.3 L2076.4 601.2 L2077.1 597.5 L2077.3 596.7 L2077.7 598.4 L2078.4 602.1 L2079.0 607.1 L2079.6 612.6 L2080.3 618.2 L2080.9 623.1 L2081.6 627.0 L2082.0 628.6 L2082.2 627.6 L2082.8 621.7 L2083.5 613.7 L2084.1 605.8 L2084.8 600.3 L2084.9 599.6 L2085.4 605.0 L2086.0 616.0 L2086.7 626.6 L2087.1 630.4 L2087.3 628.2 L2088.0 618.1 L2088.6 605.2 L2089.2 594.3 L2089.6 590.6 L2089.9 592.9 L2090.5 601.5 L2091.2 613.3 L2091.8 626.9 L2092.4 640.9 L2093.1 653.8 L2093.7 664.1 L2094.3 670.3 L2094.4 669.9 L2095.0 660.7 L2095.6 646.3 L2096.3 629.4 L2096.9 612.4 L2097.6 597.7 L2098.2 587.9 L2098.3 587.0 L2098.8 588.4 L2099.5 591.1 L2100.1 594.5 L2100.8 598.1 L2101.4 601.5 L2102.0 604.3 L2102.3 605.1 L2102.7 605.7 L2103.3 606.4 L2104.0 607.1 L2104.6 607.8 L2105.2 608.7 L2105.2 608.9 L2105.9 612.3 L2106.5 616.8 L2107.2 622.1 L2107.8 627.6 L2108.4 633.2 L2109.1 638.4 L2109.7 642.7 L2110.4 645.9 L2110.6 646.7 L2111.0 642.4 L2111.6 630.2 L2112.3 614.8 L2112.9 599.5 L2113.6 587.8 L2113.9 584.4 L2114.2 588.1 L2114.8 600.3 L2115.5 616.4 L2116.1 633.4 L2116.8 648.4 L2117.4 658.5 L2117.5 659.4 L2118.0 651.5 L2118.7 636.3 L2119.3 620.3 L2120.0 609.4 L2120.0 608.7 L2120.6 611.8 L2121.2 617.5 L2121.9 624.2 L2122.5 630.4 L2123.2 634.6 L2123.3 635.1 L2123.8 630.6 L2124.4 621.2 L2125.1 609.7 L2125.7 598.1 L2126.4 588.5 L2126.9 583.3 L2127.0 583.6 L2127.6 586.7 L2128.3 591.4 L2128.9 596.7 L2129.6 601.8 L2130.2 605.7 L2130.5 606.9 L2130.8 606.6 L2131.5 605.7 L2132.1 604.5 L2132.8 603.5 L2133.1 603.3 L2133.4 605.1 L2134.0 611.4 L2134.7 619.1 L2135.3 625.2 L2135.6 626.8 L2136.0 622.5 L2136.6 609.0 L2137.2 593.0 L2137.9 580.2 L2138.2 577.2 L2138.5 581.3 L2139.2 593.1 L2139.8 607.6 L2140.4 620.9 L2141.0 628.6 L2141.1 628.5 L2141.7 625.2 L2142.4 620.1 L2143.0 615.1 L2143.6 612.3 L2143.6 612.4 L2144.3 614.4 L2144.9 617.5 L2145.6 621.1 L2146.2 624.9 L2146.8 628.4 L2147.5 631.1 L2147.9 632.2 L2148.1 631.2 L2148.8 625.1 L2149.4 616.9 L2150.0 609.7 L2150.5 606.9 L2150.7 607.0 L2151.3 607.7 L2152.0 608.5 L2152.3 608.7 L2152.6 605.5 L2153.2 594.8 L2153.9 582.0 L2154.5 571.5 L2154.8 568.9 L2155.2 572.2 L2155.8 582.6 L2156.4 594.8 L2157.1 604.6 L2157.3 606.9 L2157.7 606.2 L2158.4 604.2 L2159.0 601.9 L2159.6 600.0 L2159.9 599.6 L2160.3 603.7 L2160.9 613.6 L2161.3 617.8 L2161.6 616.3 L2162.2 609.3 L2162.8 599.7 L2163.5 589.7 L2164.1 581.5 L2164.6 577.9 L2164.8 579.3 L2165.4 589.4 L2166.0 597.8 L2166.0 597.8 L2166.7 593.3 L2167.3 586.8 L2167.9 583.3 L2168.0 583.7 L2168.6 586.7 L2169.2 591.1 L2169.9 596.4 L2170.5 601.9 L2171.1 606.9 L2171.2 607.4 L2171.8 613.9 L2172.4 620.9 L2173.1 628.2 L2173.7 635.5 L2174.4 642.7 L2174.7 646.7 L2175.0 649.6 L2175.6 657.2 L2176.3 664.5 L2176.9 670.2 L2177.3 672.1 L2177.6 670.6 L2178.2 664.7 L2178.8 658.0 L2179.4 654.0 L2179.5 654.5 L2180.1 670.1 L2180.8 694.0 L2181.4 719.1 L2182.0 738.2 L2182.3 742.6 L2182.7 735.5 L2183.3 715.6 L2184.0 690.5 L2184.6 665.5 L2185.2 646.0 L2185.6 639.5 L2185.9 641.5 L2186.5 649.7 L2187.2 659.1 L2187.8 664.8 L2187.8 664.6 L2188.4 656.4 L2189.1 643.4 L2189.7 629.7 L2190.4 619.0 L2190.7 615.9 L2191.0 617.2 L2191.6 621.1 L2192.1 623.2 L2192.3 621.3 L2192.9 608.1 L2193.6 590.1 L2194.2 573.9 L2194.7 567.0 L2194.8 568.9 L2195.5 579.6 L2196.1 594.6 L2196.8 610.6 L2197.4 623.9 L2197.9 630.4 L2198.0 630.2 L2198.7 628.2 L2199.3 625.2 L2200.0 622.2 L2200.6 620.0 L2200.8 619.6 L2201.2 622.2 L2201.9 628.1 L2202.5 636.0 L2203.2 645.0 L2203.8 654.4 L2204.4 663.5 L2205.1 671.5 L2205.7 677.8 L2206.2 681.1 L2206.4 680.2 L2207.0 672.1 L2207.6 660.3 L2208.3 646.6 L2208.8 635.9 L2208.9 631.9 L2209.6 609.7 L2210.2 584.5 L2210.8 561.1 L2211.5 544.1 L2211.7 541.0 L2212.1 555.0 L2212.8 588.5 L2213.4 630.2 L2214.0 671.8 L2214.7 704.8 L2215.1 717.7 L2215.3 713.4 L2216.0 691.0 L2216.6 662.9 L2217.2 640.4 L2217.5 635.9 L2217.9 639.7 L2218.5 649.9 L2219.2 662.2 L2219.8 673.3 L2220.4 679.3 L2220.4 678.9 L2221.1 672.7 L2221.7 663.3 L2222.4 652.7 L2223.0 642.9 L2223.6 635.9 L2223.6 635.8 L2224.3 633.4 L2224.9 631.3 L2225.6 629.6 L2226.2 628.6 L2226.2 628.7 L2226.8 632.4 L2227.5 638.2 L2228.1 644.3 L2228.8 649.0 L2229.1 650.4 L2229.4 648.1 L2230.0 640.8 L2230.7 632.0 L2231.3 624.9 L2231.6 623.2 L2232.0 628.1 L2232.6 642.7 L2233.2 655.8 L2233.4 657.6 L2233.9 650.1 L2234.5 633.4 L2235.2 612.3 L2235.8 590.0 L2236.4 569.7 L2237.1 554.6 L2237.4 550.0 L2237.7 554.1 L2238.4 567.2 L2239.0 584.0 L2239.6 600.5 L2239.9 606.9 L2240.3 613.2 L2240.9 625.3 L2241.6 636.4 L2242.2 644.6 L2242.5 646.7 L2242.8 642.5 L2243.5 629.9 L2244.1 616.5 L2244.6 609.8 L2244.8 611.9 L2245.4 632.9 L2246.0 662.4 L2246.7 689.9 L2247.2 703.4 L2247.3 702.1 L2248.0 691.4 L2248.6 675.8 L2249.2 658.8 L2249.9 643.3 L2250.1 639.5 L2250.5 633.2 L2251.2 624.9 L2251.8 617.0 L2252.4 609.1 L2252.6 606.9 L2253.1 600.0 L2253.7 589.6 L2254.4 579.4 L2255.0 571.2 L2255.5 567.0 L2255.6 568.7 L2256.3 582.1 L2256.9 601.5 L2257.6 622.6 L2258.2 640.6 L2258.8 650.4 L2258.8 650.1 L2259.5 646.0 L2260.0 643.1 L2260.1 645.8 L2260.8 672.4 L2261.4 707.8 L2262.0 735.2 L2262.2 738.7 L2262.7 732.9 L2263.3 720.9 L2264.0 706.0 L2264.6 690.2 L2265.1 679.3 L2265.2 675.0 L2265.9 656.6 L2266.5 638.4 L2267.2 625.9 L2267.2 625.0 L2267.8 626.9 L2268.4 630.6 L2268.7 632.2 L2269.1 645.0 L2269.7 677.2 L2270.4 714.8 L2271.0 748.6 L2271.6 768.1 L2271.6 767.3 L2272.3 749.0 L2272.9 720.5 L2273.6 686.9 L2274.2 653.2 L2274.8 624.2 L2275.5 604.9 L2275.6 603.3 L2276.1 607.8 L2276.8 616.3 L2277.4 626.3 L2278.0 635.7 L2278.7 642.2 L2278.8 643.1 L2279.3 641.5 L2280.0 638.0 L2280.6 633.9 L2281.2 630.0 L2281.4 629.3 L2281.9 626.7 L2282.5 623.2 L2283.2 620.1 L2283.8 618.0 L2283.9 617.8 L2284.4 621.9 L2285.1 629.8 L2285.7 637.1 L2286.1 639.5 L2286.4 637.7 L2287.0 630.8 L2287.6 621.9 L2288.3 613.4 L2288.9 607.9 L2289.0 607.6 L2289.6 611.0 L2290.2 617.0 L2290.8 624.2 L2291.5 631.2 L2292.1 636.9 L2292.6 639.5 L2292.8 637.9 L2293.4 626.3 L2294.0 610.6 L2294.7 596.5 L2295.1 590.6 L2295.3 591.7 L2296.0 598.0 L2296.6 606.8 L2297.2 617.2 L2297.9 628.0 L2298.5 638.2 L2299.2 646.5 L2299.8 651.9 L2299.8 652.2 L2300.4 650.8 L2301.1 648.6 L2301.7 645.9 L2302.4 643.2 L2302.4 643.1 L2303.0 639.1 L2303.6 634.1 L2304.3 628.8 L2304.9 623.9 L2305.6 620.1 L2306.0 618.5 L2306.2 618.8 L2306.8 620.5 L2307.5 622.8 L2308.1 625.0 L2308.8 626.6 L2308.9 626.8 L2309.4 625.0 L2310.0 621.2 L2310.7 616.6 L2311.3 612.3 L2312.0 609.2 L2312.2 608.7 L2312.6 615.4 L2313.2 631.5 L2313.9 649.5 L2314.5 662.9 L2314.7 664.8 L2315.2 658.9 L2315.8 645.5 L2316.4 631.6 L2316.9 625.0 L2317.1 623.9 L2317.7 621.4 L2318.4 619.1 L2318.7 617.8 L2319.0 615.4 L2319.6 609.8 L2320.3 603.4 L2320.9 597.1 L2321.6 591.7 L2322.2 588.0 L2322.3 587.7 L2322.8 593.9 L2323.5 606.1 L2324.1 619.7 L2324.8 631.2 L2325.2 635.9 L2325.4 634.2 L2326.0 624.5 L2326.7 612.6 L2327.3 604.3 L2327.4 604.0 L2328.0 606.4 L2328.6 610.6 L2329.2 615.8 L2329.9 621.5 L2330.5 627.3 L2331.2 632.5 L2331.8 636.8 L2332.4 639.5 L2332.4 639.5 L2333.1 632.7 L2333.7 623.0 L2334.3 617.8 L2334.4 618.1 L2335.0 622.3 L2335.6 628.4 L2336.3 634.6 L2336.9 639.3 L2337.2 640.2 L2337.6 639.2 L2338.2 636.9 L2338.8 633.7 L2339.5 630.2 L2340.1 626.8 L2340.1 626.1 L2340.8 618.2 L2341.4 608.4 L2342.0 598.3 L2342.7 589.8 L2343.3 584.4 L2343.3 584.5 L2344.0 591.0 L2344.6 601.3 L2345.2 613.4 L2345.9 625.0 L2346.5 634.1 L2346.9 637.7 L2347.2 636.4 L2347.8 630.8 L2348.4 623.1 L2349.1 614.1 L2349.7 605.0 L2350.4 596.8 L2351.0 590.6 L2351.3 588.8 L2351.6 588.4 L2352.3 587.8 L2352.9 587.2 L2353.1 587.0 L2353.6 578.2 L2354.2 559.2 L2354.8 538.5 L2355.5 523.6 L2355.6 521.8 L2356.1 536.1 L2356.8 565.0 L2357.4 586.4 L2357.4 587.0 L2358.0 578.0 L2358.7 563.3 L2359.3 550.4 L2359.6 547.1 L2360.0 554.5 L2360.6 577.1 L2361.2 602.5 L2361.4 608.7 L2361.9 623.5 L2362.5 645.5 L2363.2 667.7 L2363.8 688.1 L2364.4 705.2 L2365.1 717.0 L2365.2 718.5 L2365.7 708.7 L2366.4 689.2 L2367.0 666.3 L2367.6 645.6 L2368.3 632.5 L2368.3 632.2 L2368.9 633.9 L2369.6 636.6 L2370.1 639.5 L2370.2 641.1 L2370.8 658.8 L2371.5 683.1 L2372.1 708.1 L2372.8 727.6 L2373.1 733.7 L2373.4 725.1 L2374.0 694.4 L2374.7 654.2 L2375.3 613.9 L2376.0 583.1 L2376.3 574.3 L2376.6 577.0 L2377.2 585.9 L2377.9 597.1 L2378.5 607.5 L2379.2 614.1 L2379.2 614.1 L2379.8 609.4 L2380.4 602.0 L2381.1 595.6 L2381.3 594.2 L2381.7 594.6 L2382.4 595.6 L2383.0 596.7 L2383.6 597.6 L2383.9 597.8 L2384.3 596.8 L2384.9 593.9 L2385.6 590.7 L2386.2 588.2 L2386.4 587.7 L2386.8 588.5 L2387.5 590.5 L2388.1 593.1 L2388.8 595.9 L2389.4 598.6 L2389.7 599.6 L2390.0 601.0 L2390.7 603.2 L2391.3 605.4 L2392.0 607.9 L2392.6 610.5 L2392.6 610.7 L2393.2 616.2 L2393.9 622.6 L2394.5 627.6 L2394.7 628.6 L2395.2 623.8 L2395.8 611.2 L2396.4 598.3 L2396.9 592.4 L2397.1 592.7 L2397.7 594.1 L2398.4 596.1 L2399.0 598.5 L2399.6 601.2 L2400.3 604.0 L2400.5 605.1 L2400.9 607.7 L2401.6 613.1 L2402.2 618.9 L2402.8 623.9 L2403.4 626.8 L2403.5 626.6 L2404.1 622.2 L2404.8 615.3 L2405.4 607.3 L2406.0 599.7 L2406.7 593.8 L2407.1 591.7 L2407.3 592.8 L2408.0 597.5 L2408.6 603.9 L2409.2 611.1 L2409.9 618.4 L2410.5 624.8 L2411.2 629.3 L2411.4 630.4 L2411.8 628.0 L2412.4 621.1 L2413.1 613.9 L2413.6 610.5 L2413.7 611.1 L2414.4 616.0 L2415.0 622.6 L2415.6 628.0 L2415.8 628.6 L2416.3 629.6 L2416.9 630.6 L2417.6 631.3 L2418.2 632.1 L2418.8 633.0 L2419.4 634.1 L2419.5 634.8 L2420.1 641.8 L2420.8 651.4 L2421.4 661.8 L2422.0 671.6 L2422.7 678.9 L2423.0 681.1 L2423.3 675.5 L2424.0 657.0 L2424.6 632.4 L2425.2 605.3 L2425.9 579.8 L2426.5 559.7 L2427.0 550.7 L2427.2 553.2 L2427.8 566.3 L2428.4 585.2 L2429.1 607.7 L2429.7 631.9 L2430.4 655.9 L2431.0 677.6 L2431.6 695.2 L2432.3 706.6 L2432.3 706.8 L2432.9 696.3 L2433.6 679.1 L2434.2 660.0 L2434.8 643.5 L2435.3 635.9 L2435.5 635.6 L2436.1 634.9 L2436.8 634.1 L2436.8 634.1 L2437.4 612.1 L2438.0 579.3 L2438.7 551.5 L2438.9 545.3 L2439.3 551.2 L2440.0 567.1 L2440.6 587.5 L2441.2 608.4 L2441.9 626.0 L2442.2 632.2 L2442.5 635.0 L2443.2 640.1 L2443.8 644.5 L2444.4 647.6 L2444.7 648.5 L2445.1 647.5 L2445.7 644.0 L2446.4 639.9 L2447.0 636.6 L2447.3 635.9 L2447.6 638.7 L2448.3 646.7 L2448.9 657.2 L2449.6 668.6 L2450.2 679.2 L2450.8 687.6 L2451.3 691.3 L2451.5 689.8 L2452.1 681.7 L2452.8 670.3 L2453.4 657.7 L2453.8 650.4 L2454.0 644.6 L2454.7 627.6 L2455.3 608.9 L2456.0 590.0 L2456.6 572.9 L2457.2 559.2 L2457.8 551.8 L2457.9 555.7 L2458.5 600.8 L2459.2 657.9 L2459.7 688.6 L2459.8 687.7 L2460.4 676.9 L2461.1 661.6 L2461.7 648.1 L2462.1 643.1 L2462.4 643.9 L2463.0 647.5 L2463.6 652.4 L2464.3 657.1 L2464.9 660.2 L2465.0 660.5 L2465.6 653.9 L2466.2 641.3 L2466.8 626.4 L2467.5 612.5 L2468.1 602.8 L2468.3 601.5 L2468.8 605.2 L2469.4 613.1 L2470.0 622.0 L2470.5 626.8 L2470.7 628.9 L2471.3 634.9 L2472.0 640.6 L2472.6 645.1 L2473.0 646.7 L2473.2 645.6 L2473.9 640.7 L2474.5 634.3 L2475.2 628.0 L2475.8 623.5 L2475.9 623.2 L2476.4 622.8 L2477.1 622.4 L2477.7 622.0 L2478.4 621.7 L2479.0 621.5 L2479.5 621.4 L2479.6 621.7 L2480.3 624.5 L2480.9 628.5 L2481.6 633.2 L2481.7 634.1 L2482.2 642.2 L2482.8 655.3 L2483.5 669.7 L2484.1 682.9 L2484.8 692.5 L2485.0 694.7 L2485.4 690.7 L2486.0 680.2 L2486.7 667.2 L2487.3 654.5 L2488.0 645.1 L2488.2 643.1 L2488.6 647.4 L2489.2 659.1 L2489.9 672.9 L2490.5 684.4 L2490.9 688.3 L2491.2 686.4 L2491.8 678.8 L2492.4 668.5 L2493.1 656.5 L2493.7 644.4 L2494.4 633.5 L2495.0 625.0 L2495.4 621.4 L2495.6 623.3 L2496.3 634.8 L2496.9 650.0 L2497.6 663.3 L2498.0 668.5 L2498.2 668.2 L2498.8 666.9 L2499.5 665.1 L2500.1 663.6 L2500.5 663.0 L2500.8 666.8 L2501.4 684.4 L2502.0 704.8 L2502.6 716.0 L2502.7 714.4 L2503.3 693.0 L2504.0 660.7 L2504.6 624.9 L2505.2 592.9 L2505.9 571.9 L2506.0 570.7 L2506.5 583.9 L2507.2 606.5 L2507.8 625.0 L2507.8 625.7 L2508.4 636.0 L2509.1 646.0 L2509.7 655.4 L2510.4 663.8 L2511.0 670.9 L2511.6 676.5 L2512.1 679.3 L2512.3 677.2 L2512.9 664.7 L2513.6 646.7 L2514.2 625.8 L2514.8 604.6 L2515.5 585.7 L2516.1 571.6 L2516.5 567.0 L2516.8 568.0 L2517.4 571.6 L2518.0 575.6 L2518.6 577.9 L2518.7 577.1 L2519.3 560.0 L2520.0 534.0 L2520.6 506.6 L2521.2 485.5 L2521.5 480.1 L2521.9 485.2 L2522.5 498.2 L2523.2 515.4 L2523.8 535.9 L2524.4 558.7 L2525.1 582.9 L2525.7 607.6 L2526.4 631.8 L2527.0 654.6 L2527.6 675.2 L2528.3 692.5 L2528.9 705.6 L2529.3 711.0 L2529.6 707.6 L2530.2 693.3 L2530.8 674.3 L2531.5 654.7 L2532.1 639.0 L2532.5 633.0 L2532.8 636.6 L2533.4 654.8 L2534.0 678.3 L2534.7 698.9 L2535.1 706.8 L2535.3 701.4 L2536.0 674.2 L2536.6 637.9 L2537.2 602.7 L2537.9 578.9 L2538.0 577.2 L2538.5 584.1 L2539.2 596.5 L2539.8 612.1 L2540.4 629.5 L2541.1 646.9 L2541.7 662.9 L2542.4 675.8 L2543.0 684.0 L2543.0 683.9 L2543.6 659.9 L2544.3 622.1 L2544.9 584.2 L2545.6 560.0 L2545.6 559.8 L2546.2 573.1 L2546.8 594.5 L2547.5 616.6 L2548.1 632.2 L2548.1 632.3 L2548.8 636.6 L2549.4 640.4 L2550.0 643.8 L2550.7 646.7 L2551.3 649.2 L2552.0 651.1 L2552.5 652.2 L2552.6 650.8 L2553.2 639.4 L2553.9 626.1 L2554.3 621.4 L2554.5 624.0 L2555.2 636.1 L2555.8 650.2 L2556.4 659.4 L2556.4 659.4 L2557.1 654.7 L2557.7 647.5 L2558.4 638.7 L2559.0 628.8 L2559.6 618.7 L2559.7 617.8 L2560.3 602.3 L2560.9 581.3 L2561.6 558.8 L2562.2 537.8 L2562.8 521.3 L2563.3 513.8 L2563.5 516.2 L2564.1 529.3 L2564.8 547.7 L2565.4 568.8 L2566.0 590.3 L2566.6 606.9 L2566.7 609.8 L2567.3 630.2 L2568.0 651.8 L2568.6 671.4 L2569.2 685.9 L2569.5 689.5 L2569.9 681.3 L2570.5 658.2 L2571.2 630.1 L2571.8 604.7 L2572.4 590.6 L2572.4 591.1 L2573.1 600.9 L2573.7 615.8 L2574.4 632.3 L2575.0 646.8 L2575.6 655.8 L2575.6 655.7 L2576.3 643.0 L2576.9 622.6 L2577.6 600.7 L2578.2 583.2 L2578.5 577.9 L2578.8 581.0 L2579.5 591.5 L2580.1 605.2 L2580.8 619.5 L2581.4 631.7 L2581.4 632.2 L2582.0 640.0 L2582.7 648.2 L2583.3 655.4 L2584.0 661.0 L2584.3 663.0 L2584.6 661.2 L2585.2 654.2 L2585.9 644.6 L2586.5 634.3 L2587.2 625.0 L2587.8 618.7 L2588.0 617.8 L2588.4 621.4 L2589.1 629.4 L2589.7 638.7 L2590.4 646.7 L2590.9 650.4 L2591.0 648.4 L2591.6 634.6 L2592.3 614.9 L2592.9 594.0 L2593.6 576.3 L2593.8 572.5 L2594.2 567.3 L2594.8 560.4 L2595.5 554.4 L2596.1 549.7 L2596.6 547.1 L2596.8 548.2 L2597.4 557.6 L2598.0 571.5 L2598.7 587.8 L2599.3 604.6 L2600.0 619.9 L2600.6 631.5 L2601.0 635.9 L2601.2 635.7 L2601.9 634.7 L2602.4 634.1 L2602.5 634.6 L2603.2 643.2 L2603.8 655.9 L2604.4 668.6 L2605.1 677.5 L2605.2 678.4 L2605.7 673.3 L2606.4 664.0 L2607.0 652.2 L2607.6 638.9 L2608.3 625.1 L2608.9 611.8 L2609.6 599.9 L2609.7 597.8 L2610.2 590.2 L2610.8 580.3 L2611.5 570.4 L2612.1 561.2 L2612.8 553.4 L2613.4 547.7 L2613.7 546.0 L2614.0 548.1 L2614.7 553.8 L2615.3 561.4 L2615.5 563.4 L2616.0 578.6 L2616.6 606.5 L2617.2 634.9 L2617.9 655.2 L2618.0 657.6 L2618.5 648.8 L2619.2 630.7 L2619.8 613.3 L2620.2 606.9 L2620.4 606.7 L2621.1 606.3 L2621.6 606.2 L2621.7 607.0 L2622.4 621.1 L2623.0 639.0 L2623.5 646.7 L2623.6 644.9 L2624.3 633.5 L2624.9 618.3 L2625.6 604.9 L2626.0 599.6 L2626.2 601.4 L2626.8 610.7 L2627.5 623.2 L2628.1 635.5 L2628.8 644.0 L2628.9 644.9 L2629.4 641.7 L2630.0 635.3 L2630.7 628.4 L2631.3 623.6 L2631.4 623.2 L2632.0 628.9 L2632.6 640.0 L2633.2 652.8 L2633.9 664.2 L2634.5 671.0 L2634.5 670.8 L2635.2 661.6 L2635.8 647.0 L2636.4 631.1 L2637.1 617.6 L2637.6 611.2 L2637.7 611.9 L2638.4 617.0 L2639.0 624.3 L2639.6 632.9 L2640.3 641.7 L2640.9 649.6 L2641.6 655.5 L2641.9 657.6 L2642.2 656.2 L2642.8 651.1 L2643.5 644.2 L2644.1 636.1 L2644.8 627.8 L2645.4 620.2 L2646.0 614.1 L2646.6 610.5 L2646.7 611.0 L2647.3 625.7 L2648.0 641.6 L2648.1 643.1 L2648.6 634.1 L2649.2 615.7 L2649.9 596.2 L2650.5 582.6 L2650.6 581.5 L2651.2 586.5 L2651.8 594.2 L2652.1 596.0 L2652.4 593.9 L2653.1 587.9 L2653.7 580.0 L2653.9 577.9 L2654.4 559.7 L2655.0 526.0 L2655.6 486.7 L2656.3 447.5 L2656.9 414.3 L2657.6 392.7 L2657.6 392.0 L2658.2 392.0 L2658.8 392.0 L2659.0 392.0 L2659.5 406.2 L2660.1 435.6 L2660.8 473.4 L2661.4 515.7 L2662.0 558.7 L2662.7 598.5 L2663.3 631.1 L2664.0 652.7 L2664.0 654.0 L2664.6 643.6 L2665.2 628.5 L2665.5 625.0 L2665.9 623.3 L2666.5 621.1 L2667.2 619.2 L2667.8 617.8 L2668.4 617.0 L2668.4 617.5 L2669.1 624.1 L2669.7 633.9 L2670.4 644.3 L2671.0 652.1 L2671.3 654.0 L2671.6 649.5 L2672.3 636.6 L2672.9 620.7 L2673.6 606.2 L2674.2 597.8 L2674.2 598.2 L2674.8 607.6 L2675.5 622.2 L2676.1 639.7 L2676.8 657.9 L2677.4 674.7 L2678.0 687.8 L2678.5 693.8 L2678.7 692.7 L2679.3 686.2 L2680.0 676.7 L2680.6 665.6 L2681.2 654.0 L2681.9 643.1 L2682.5 634.1 L2683.2 628.2 L2683.2 627.9 L2683.8 632.6 L2684.4 640.2 L2685.0 644.9 L2685.1 644.9 L2685.7 643.5 L2686.4 641.5 L2687.0 639.2 L2687.6 637.1 L2688.3 635.9 L2688.3 635.9 L2688.9 644.6 L2689.6 658.6 L2690.2 674.1 L2690.8 687.2 L2691.2 692.0 L2691.5 693.2 L2692.1 695.5 L2692.8 697.4 L2693.4 698.8 L2693.7 699.3 L2694.0 697.9 L2694.7 693.0 L2695.3 687.2 L2696.0 682.4 L2696.3 681.1 L2696.6 681.1 L2697.2 681.1 L2697.9 681.1 L2698.5 681.1 L2699.2 681.1 L2699.5 681.1" stroke="#000000" stroke-width="4.50"/>
</g>
<rect x="375.5" y="108.3" width="2325.1" height="693.1" fill="none" stroke="#000" stroke-width="3.3"/>
<path d="M503.4 801.4 V816.4 M1014.3 801.4 V816.4 M1525.2 801.4 V816.4 M2036.2 801.4 V816.4 M2547.2 801.4 V816.4 M375.5 717.3 H360.5 M375.5 610.5 H360.5 M375.5 503.6 H360.5 M375.5 396.8 H360.5 M375.5 289.9 H360.5 M375.5 183.1 H360.5" stroke="#000" stroke-width="3.3" fill="none"/>
<text x="911.78" y="83.0" font-size="51.0" textLength="242.69" lengthAdjust="spacingAndGlyphs">Spectrum</text>
<text x="1169.87" y="83.0" font-size="51.0" textLength="47.51" lengthAdjust="spacingAndGlyphs">of</text>
<text x="1233.73" y="83.0" font-size="51.0" textLength="154.67" lengthAdjust="spacingAndGlyphs">object</text>
<text x="1405.15" y="83.0" font-size="51.0" textLength="284.99" lengthAdjust="spacingAndGlyphs">105019069</text>
<text x="1705.76" y="83.0" font-size="51.0" textLength="45.56" lengthAdjust="spacingAndGlyphs">in</text>
<text x="1766.81" y="83.0" font-size="51.0" textLength="394.18" lengthAdjust="spacingAndGlyphs">candels-cdfs-05</text>
<text x="466.16" y="852.4" font-size="29.5" textLength="71.53" lengthAdjust="spacingAndGlyphs">5000</text>
<text x="977.71" y="852.4" font-size="29.5" textLength="71.53" lengthAdjust="spacingAndGlyphs">6000</text>
<text x="1488.36" y="852.4" font-size="29.5" textLength="71.53" lengthAdjust="spacingAndGlyphs">7000</text>
<text x="1999.91" y="852.4" font-size="29.5" textLength="71.53" lengthAdjust="spacingAndGlyphs">8000</text>
<text x="2511.06" y="852.4" font-size="29.5" textLength="71.53" lengthAdjust="spacingAndGlyphs">9000</text>
<text x="322.15" y="730.8" font-size="38.0" textLength="22.25" lengthAdjust="spacingAndGlyphs">0</text>
<text x="322.15" y="624.0" font-size="38.0" textLength="22.25" lengthAdjust="spacingAndGlyphs">2</text>
<text x="323.20" y="517.1" font-size="38.0" textLength="20.13" lengthAdjust="spacingAndGlyphs">4</text>
<text x="322.15" y="410.3" font-size="38.0" textLength="22.25" lengthAdjust="spacingAndGlyphs">6</text>
<text x="322.15" y="303.4" font-size="38.0" textLength="22.25" lengthAdjust="spacingAndGlyphs">8</text>
<text x="299.89" y="196.6" font-size="38.0" textLength="44.50" lengthAdjust="spacingAndGlyphs">10</text>
<text x="1439.30" y="887.6" font-size="33.8" textLength="197.60" lengthAdjust="spacingAndGlyphs">Wavelength</text>
<g transform="translate(267.7,709) rotate(-90)">
<text x="-2.92" y="0.0" font-size="47.3" textLength="51.19" lengthAdjust="spacingAndGlyphs">10</text>
<text x="51.35" y="-17.3" font-size="33.0" textLength="69.94" lengthAdjust="spacingAndGlyphs">−18</text>
<text x="138.00" y="0.0" font-size="47.3" textLength="75.34" lengthAdjust="spacingAndGlyphs">erg</text>
<text x="228.95" y="0.0" font-size="47.3" textLength="24.77" lengthAdjust="spacingAndGlyphs">s</text>
<text x="256.32" y="-17.3" font-size="33.0" textLength="40.54" lengthAdjust="spacingAndGlyphs">−1</text>
<text x="312.54" y="0.0" font-size="47.3" textLength="65.04" lengthAdjust="spacingAndGlyphs">cm</text>
<text x="382.97" y="-17.3" font-size="33.0" textLength="42.56" lengthAdjust="spacingAndGlyphs">−2</text>
<text x="436.60" y="0.0" font-size="47.3" textLength="30.36" lengthAdjust="spacingAndGlyphs">Å</text>
<text x="469.87" y="-17.3" font-size="33.0" textLength="42.56" lengthAdjust="spacingAndGlyphs">−1</text>
</g>
</svg></body></html>
